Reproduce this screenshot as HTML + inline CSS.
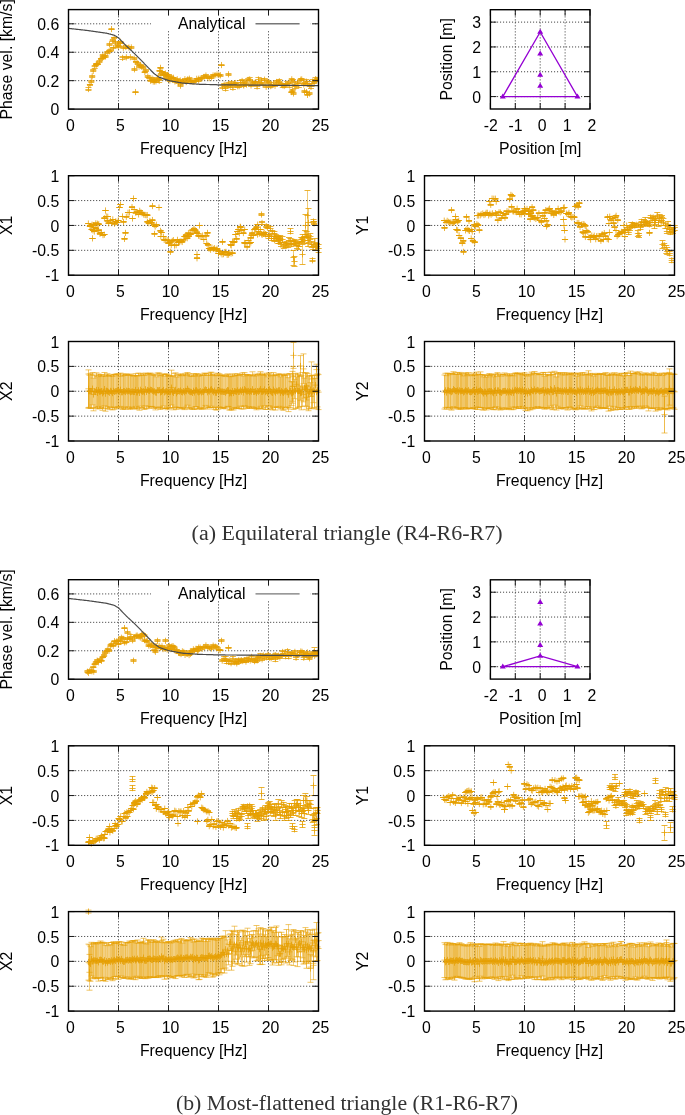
<!DOCTYPE html>
<html><head><meta charset="utf-8"><style>
html,body{margin:0;padding:0;background:#fff;}
svg{display:block;will-change:transform;}
text{font-family:"Liberation Sans",sans-serif;font-size:15.8px;fill:#000;}
.cap{font-family:"Liberation Serif",serif;font-size:20px;fill:#333;}
.gr{stroke:#333;stroke-width:1;stroke-dasharray:1 2;fill:none;}
.tk{stroke:#1a1a1a;stroke-width:1;fill:none;}
.fr{stroke:#000;stroke-width:1.4;fill:none;}
.pt{stroke:#E69F00;stroke-width:0.75;fill:none;}
.eb{stroke:#E69F00;stroke-width:0.7;fill:none;}
.ph{stroke:#E69F00;stroke-width:0.8;fill:none;}
</style></head><body>
<svg width="685" height="1115" viewBox="0 0 685 1115">
<clipPath id="c0p"><rect x="68.5" y="9.6" width="250.0" height="99.5"/></clipPath>
<path class="gr" d="M118.5 10.3V109.1M168.5 10.3V109.1M218.5 10.3V109.1M268.5 10.3V109.1M69.2 80.67H318.5M69.2 52.24H318.5M69.2 23.81H318.5"/>
<g clip-path="url(#c0p)">
<path class="eb" style="stroke-width:0.55" stroke-opacity="1.0" d="M88.47 87.88V90.17M89.98 84.05V85.87M91.31 80.22V82.10M92.18 75.61V77.05M93.25 69.91V71.88M94.73 65.73V68.07M96.59 63.72V64.96M96.21 63.96V65.07M97.81 63.49V64.56M99.48 60.32V62.49M101.01 58.06V59.77M102.60 57.31V58.71M102.80 54.23V56.40M104.22 55.95V57.29M105.57 55.47V57.53M107.24 51.89V53.44M109.17 50.78V51.80M110.33 49.42V51.09M112.79 39.92V41.04M114.18 37.27V38.66M115.45 41.28V43.62M117.45 44.67V46.03M118.66 45.43V47.54M120.31 42.29V43.92M120.31 41.09V42.29M123.34 46.92V48.52M125.83 45.88V48.23M128.93 46.45V48.68M131.33 46.32V48.51M122.59 56.68V59.06M126.33 56.29V58.37M130.40 56.64V57.76M134.25 57.95V59.31M136.02 61.01V62.65M137.70 62.36V64.17M139.10 65.87V67.10M140.59 64.33V65.70M141.62 65.50V67.80M143.09 66.21V68.44M144.79 71.49V72.65M145.92 69.97V71.32M147.78 75.41V77.56M149.17 77.34V78.60M150.71 80.29V81.63M152.07 77.65V79.51M153.37 79.15V80.45M153.21 80.71V82.34M154.44 80.79V82.32M155.94 80.59V82.11M157.33 77.16V79.08M158.41 78.61V79.83M159.22 79.83V82.09M159.62 70.46V71.52M160.87 73.30V75.32M161.96 71.33V72.46M163.38 72.93V75.18M164.79 73.86V75.96M166.18 76.59V78.55M167.45 74.43V76.02M168.67 74.94V76.75M168.57 78.14V79.96M169.82 79.57V81.46M171.30 76.31V78.33M172.18 77.15V78.97M173.46 77.23V78.37M174.90 80.53V82.38M175.99 79.77V81.74M177.25 78.15V80.43M178.35 81.31V82.74M178.61 82.27V83.53M180.28 79.69V81.31M181.81 81.18V83.12M182.93 80.52V82.64M184.90 78.43V79.98M186.24 81.44V82.65M187.73 78.24V80.42M189.40 77.99V79.39M190.61 80.50V81.90M192.17 80.40V82.28M193.88 80.70V82.86M195.71 80.45V81.58M196.68 78.29V79.37M198.63 79.58V81.03M198.67 78.14V79.35M200.31 77.54V79.70M202.01 77.57V78.66M204.08 76.00V77.88M205.93 74.42V76.76M207.78 76.71V78.38M209.31 77.25V78.92M211.46 76.68V78.07M213.07 74.64V76.37M215.07 74.39V75.95M217.01 73.96V75.11M218.93 74.44V75.64M220.47 74.14V76.40M222.43 85.27V88.97M224.18 83.25V86.01M225.59 86.87V90.22M227.19 84.07V87.41M228.33 82.07V86.00M230.29 83.95V87.46M231.39 81.53V85.18M232.91 86.40V89.11M234.53 82.12V84.93M235.72 82.13V83.98M237.68 85.04V87.51M239.17 85.13V87.17M240.51 80.76V84.37M242.11 79.56V82.39M243.77 84.42V86.63M243.52 83.08V86.44M245.08 81.09V84.72M246.54 83.30V85.87M248.21 78.81V80.99M249.71 77.91V80.81M251.04 84.01V86.93M252.50 81.37V83.13M254.28 81.65V84.27M255.68 81.18V84.00M257.11 85.08V88.01M258.45 77.55V81.35M259.86 82.30V84.30M261.46 78.70V82.45M262.99 83.47V85.61M264.57 78.70V80.70M266.17 85.81V87.96M267.34 80.38V82.82M268.91 81.16V83.11M270.64 84.66V87.52M271.85 84.04V86.95M273.46 82.75V85.40M275.02 84.71V86.88M276.58 80.53V83.44M278.21 80.37V84.03M279.34 79.40V82.95M281.24 83.34V85.76M282.75 83.34V87.32M284.23 84.88V87.13M285.64 84.04V85.97M287.20 81.96V85.46M288.28 82.23V85.49M289.71 83.84V87.10M291.75 78.38V80.34M293.00 79.61V82.46M294.61 84.63V86.50M295.76 85.29V88.25M297.51 81.52V83.56M298.81 83.64V87.25M300.79 78.73V80.65M301.74 78.12V80.87M303.66 83.08V85.85M305.01 82.11V85.18M306.21 79.67V83.30M307.81 81.76V85.15M309.44 84.47V86.56M311.01 85.08V88.81M312.68 79.63V83.29M314.08 82.31V85.38M315.50 77.48V81.01M316.85 78.11V81.51M318.67 79.27V81.90M111.50 28.22V29.93M109.50 43.43V45.14M113.50 47.13V48.83M135.50 91.19V92.90M134.50 68.45V70.15M160.50 67.03V68.73M165.50 72.71V74.42M221.50 64.18V65.89M228.50 73.42V75.13M180.50 84.79V86.50M291.50 91.19V92.90M293.50 92.61V94.32M292.50 89.77V91.47M304.50 90.48V92.18M307.50 94.03V95.74M309.50 92.61V94.32M306.50 91.19V92.90"/><path class="pt" style="stroke-width:0.75" d="M88.47 85.93v6.2M89.98 81.86v6.2M91.31 78.06v6.2M92.18 73.23v6.2M93.25 67.79v6.2M94.73 63.80v6.2M96.59 61.24v6.2M96.21 61.41v6.2M97.81 60.92v6.2M99.48 58.30v6.2M101.01 55.82v6.2M102.60 54.91v6.2M102.80 52.21v6.2M104.22 53.52v6.2M105.57 53.40v6.2M107.24 49.57v6.2M109.17 48.19v6.2M110.33 47.16v6.2M112.79 37.38v6.2M114.18 34.87v6.2M115.45 39.35v6.2M117.45 42.25v6.2M118.66 43.39v6.2M120.31 40.01v6.2M120.31 38.59v6.2M123.34 44.62v6.2M125.83 43.95v6.2M128.93 44.46v6.2M131.33 44.31v6.2M122.59 54.77v6.2M126.33 54.23v6.2M130.40 54.10v6.2M134.25 55.53v6.2M136.02 58.73v6.2M137.70 60.16v6.2M139.10 63.38v6.2M140.59 61.91v6.2M141.62 63.55v6.2M143.09 64.23v6.2M144.79 68.97v6.2M145.92 67.55v6.2M147.78 73.39v6.2M149.17 74.87v6.2M150.71 77.86v6.2M152.07 75.48v6.2M153.37 76.70v6.2M153.21 78.43v6.2M154.44 78.45v6.2M155.94 78.25v6.2M157.33 75.02v6.2M158.41 76.12v6.2M159.22 77.86v6.2M159.62 67.89v6.2M160.87 71.21v6.2M161.96 68.79v6.2M163.38 70.96v6.2M164.79 71.81v6.2M166.18 74.47v6.2M167.45 72.12v6.2M168.67 72.74v6.2M168.57 75.95v6.2M169.82 77.42v6.2M171.30 74.22v6.2M172.18 74.96v6.2M173.46 74.70v6.2M174.90 78.35v6.2M175.99 77.65v6.2M177.25 76.19v6.2M178.35 78.92v6.2M178.61 79.80v6.2M180.28 77.40v6.2M181.81 79.05v6.2M182.93 78.48v6.2M184.90 76.11v6.2M186.24 78.95v6.2M187.73 76.23v6.2M189.40 75.59v6.2M190.61 78.10v6.2M192.17 78.24v6.2M193.88 78.68v6.2M195.71 77.91v6.2M196.68 75.73v6.2M198.63 77.21v6.2M198.67 75.65v6.2M200.31 75.52v6.2M202.01 75.02v6.2M204.08 73.84v6.2M205.93 72.49v6.2M207.78 74.44v6.2M209.31 74.99v6.2M211.46 74.28v6.2M213.07 72.40v6.2M215.07 72.07v6.2M217.01 71.44v6.2M218.93 71.94v6.2M220.47 72.17v6.2M222.43 84.02v6.2M224.18 81.53v6.2M225.59 85.44v6.2M227.19 82.64v6.2M228.33 80.94v6.2M230.29 82.60v6.2M231.39 80.26v6.2M232.91 84.65v6.2M234.53 80.43v6.2M235.72 79.95v6.2M237.68 83.17v6.2M239.17 83.05v6.2M240.51 79.47v6.2M242.11 77.88v6.2M243.77 82.43v6.2M243.52 81.66v6.2M245.08 79.81v6.2M246.54 81.49v6.2M248.21 76.80v6.2M249.71 76.26v6.2M251.04 82.37v6.2M252.50 79.15v6.2M254.28 79.86v6.2M255.68 79.49v6.2M257.11 83.44v6.2M258.45 76.35v6.2M259.86 80.20v6.2M261.46 77.47v6.2M262.99 81.44v6.2M264.57 76.60v6.2M266.17 83.79v6.2M267.34 78.50v6.2M268.91 79.03v6.2M270.64 82.99v6.2M271.85 82.39v6.2M273.46 80.98v6.2M275.02 82.70v6.2M276.58 78.89v6.2M278.21 79.10v6.2M279.34 78.07v6.2M281.24 81.45v6.2M282.75 82.23v6.2M284.23 82.90v6.2M285.64 81.90v6.2M287.20 80.61v6.2M288.28 80.76v6.2M289.71 82.37v6.2M291.75 76.26v6.2M293.00 77.93v6.2M294.61 82.46v6.2M295.76 83.67v6.2M297.51 79.44v6.2M298.81 82.34v6.2M300.79 76.59v6.2M301.74 76.39v6.2M303.66 81.37v6.2M305.01 80.54v6.2M306.21 78.39v6.2M307.81 80.35v6.2M309.44 82.41v6.2M311.01 83.85v6.2M312.68 78.36v6.2M314.08 80.75v6.2M315.50 76.15v6.2M316.85 76.71v6.2M318.67 77.48v6.2M111.50 25.97v6.2M109.50 41.18v6.2M113.50 44.88v6.2M135.50 88.94v6.2M134.50 66.20v6.2M160.50 64.78v6.2M165.50 70.46v6.2M221.50 61.94v6.2M228.50 71.17v6.2M180.50 82.55v6.2M291.50 88.94v6.2M293.50 90.36v6.2M292.50 87.52v6.2M304.50 88.23v6.2M307.50 91.79v6.2M309.50 90.36v6.2M306.50 88.94v6.2"/><path class="ph" style="stroke-width:0.75" d="M85.37 89.5h6.2M85.47 87.5h6.0M85.47 90.5h6.0M86.88 84.5h6.2M86.98 84.5h6.0M86.98 85.5h6.0M88.21 81.5h6.2M88.31 80.5h6.0M88.31 82.5h6.0M89.08 76.5h6.2M89.18 75.5h6.0M89.18 77.5h6.0M90.15 70.5h6.2M90.25 69.5h6.0M90.25 71.5h6.0M91.63 66.5h6.2M91.73 65.5h6.0M91.73 68.5h6.0M93.49 64.5h6.2M93.59 63.5h6.0M93.59 64.5h6.0M93.11 64.5h6.2M93.21 63.5h6.0M93.21 65.5h6.0M94.71 64.5h6.2M94.81 63.5h6.0M94.81 64.5h6.0M96.38 61.5h6.2M96.48 60.5h6.0M96.48 62.5h6.0M97.91 58.5h6.2M98.01 58.5h6.0M98.01 59.5h6.0M99.50 58.5h6.2M99.60 57.5h6.0M99.60 58.5h6.0M99.70 55.5h6.2M99.80 54.5h6.0M99.80 56.5h6.0M101.12 56.5h6.2M101.22 55.5h6.0M101.22 57.5h6.0M102.47 56.5h6.2M102.57 55.5h6.0M102.57 57.5h6.0M104.14 52.5h6.2M104.24 51.5h6.0M104.24 53.5h6.0M106.07 51.5h6.2M106.17 50.5h6.0M106.17 51.5h6.0M107.23 50.5h6.2M107.33 49.5h6.0M107.33 51.5h6.0M109.69 40.5h6.2M109.79 39.5h6.0M109.79 41.5h6.0M111.08 37.5h6.2M111.18 37.5h6.0M111.18 38.5h6.0M112.35 42.5h6.2M112.45 41.5h6.0M112.45 43.5h6.0M114.35 45.5h6.2M114.45 44.5h6.0M114.45 46.5h6.0M115.56 46.5h6.2M115.66 45.5h6.0M115.66 47.5h6.0M117.21 43.5h6.2M117.31 42.5h6.0M117.31 43.5h6.0M117.21 41.5h6.2M117.31 41.5h6.0M117.31 42.5h6.0M120.24 47.5h6.2M120.34 46.5h6.0M120.34 48.5h6.0M122.73 47.5h6.2M122.83 45.5h6.0M122.83 48.5h6.0M125.83 47.5h6.2M125.93 46.5h6.0M125.93 48.5h6.0M128.23 47.5h6.2M128.33 46.5h6.0M128.33 48.5h6.0M119.49 57.5h6.2M119.59 56.5h6.0M119.59 59.5h6.0M123.23 57.5h6.2M123.33 56.5h6.0M123.33 58.5h6.0M127.30 57.5h6.2M127.40 56.5h6.0M127.40 57.5h6.0M131.15 58.5h6.2M131.25 57.5h6.0M131.25 59.5h6.0M132.92 61.5h6.2M133.02 61.5h6.0M133.02 62.5h6.0M134.60 63.5h6.2M134.70 62.5h6.0M134.70 64.5h6.0M136.00 66.5h6.2M136.10 65.5h6.0M136.10 67.5h6.0M137.49 65.5h6.2M137.59 64.5h6.0M137.59 65.5h6.0M138.52 66.5h6.2M138.62 65.5h6.0M138.62 67.5h6.0M139.99 67.5h6.2M140.09 66.5h6.0M140.09 68.5h6.0M141.69 72.5h6.2M141.79 71.5h6.0M141.79 72.5h6.0M142.82 70.5h6.2M142.92 69.5h6.0M142.92 71.5h6.0M144.68 76.5h6.2M144.78 75.5h6.0M144.78 77.5h6.0M146.07 77.5h6.2M146.17 77.5h6.0M146.17 78.5h6.0M147.61 80.5h6.2M147.71 80.5h6.0M147.71 81.5h6.0M148.97 78.5h6.2M149.07 77.5h6.0M149.07 79.5h6.0M150.27 79.5h6.2M150.37 79.5h6.0M150.37 80.5h6.0M150.11 81.5h6.2M150.21 80.5h6.0M150.21 82.5h6.0M151.34 81.5h6.2M151.44 80.5h6.0M151.44 82.5h6.0M152.84 81.5h6.2M152.94 80.5h6.0M152.94 82.5h6.0M154.23 78.5h6.2M154.33 77.5h6.0M154.33 79.5h6.0M155.31 79.5h6.2M155.41 78.5h6.0M155.41 79.5h6.0M156.12 80.5h6.2M156.22 79.5h6.0M156.22 82.5h6.0M156.52 70.5h6.2M156.62 70.5h6.0M156.62 71.5h6.0M157.77 74.5h6.2M157.87 73.5h6.0M157.87 75.5h6.0M158.86 71.5h6.2M158.96 71.5h6.0M158.96 72.5h6.0M160.28 74.5h6.2M160.38 72.5h6.0M160.38 75.5h6.0M161.69 74.5h6.2M161.79 73.5h6.0M161.79 75.5h6.0M163.08 77.5h6.2M163.18 76.5h6.0M163.18 78.5h6.0M164.35 75.5h6.2M164.45 74.5h6.0M164.45 76.5h6.0M165.57 75.5h6.2M165.67 74.5h6.0M165.67 76.5h6.0M165.47 79.5h6.2M165.57 78.5h6.0M165.57 79.5h6.0M166.72 80.5h6.2M166.82 79.5h6.0M166.82 81.5h6.0M168.20 77.5h6.2M168.30 76.5h6.0M168.30 78.5h6.0M169.08 78.5h6.2M169.18 77.5h6.0M169.18 78.5h6.0M170.36 77.5h6.2M170.46 77.5h6.0M170.46 78.5h6.0M171.80 81.5h6.2M171.90 80.5h6.0M171.90 82.5h6.0M172.89 80.5h6.2M172.99 79.5h6.0M172.99 81.5h6.0M174.15 79.5h6.2M174.25 78.5h6.0M174.25 80.5h6.0M175.25 82.5h6.2M175.35 81.5h6.0M175.35 82.5h6.0M175.51 82.5h6.2M175.61 82.5h6.0M175.61 83.5h6.0M177.18 80.5h6.2M177.28 79.5h6.0M177.28 81.5h6.0M178.71 82.5h6.2M178.81 81.5h6.0M178.81 83.5h6.0M179.83 81.5h6.2M179.93 80.5h6.0M179.93 82.5h6.0M181.80 79.5h6.2M181.90 78.5h6.0M181.90 79.5h6.0M183.14 82.5h6.2M183.24 81.5h6.0M183.24 82.5h6.0M184.63 79.5h6.2M184.73 78.5h6.0M184.73 80.5h6.0M186.30 78.5h6.2M186.40 77.5h6.0M186.40 79.5h6.0M187.51 81.5h6.2M187.61 80.5h6.0M187.61 81.5h6.0M189.07 81.5h6.2M189.17 80.5h6.0M189.17 82.5h6.0M190.78 81.5h6.2M190.88 80.5h6.0M190.88 82.5h6.0M192.61 81.5h6.2M192.71 80.5h6.0M192.71 81.5h6.0M193.58 78.5h6.2M193.68 78.5h6.0M193.68 79.5h6.0M195.53 80.5h6.2M195.63 79.5h6.0M195.63 81.5h6.0M195.57 78.5h6.2M195.67 78.5h6.0M195.67 79.5h6.0M197.21 78.5h6.2M197.31 77.5h6.0M197.31 79.5h6.0M198.91 78.5h6.2M199.01 77.5h6.0M199.01 78.5h6.0M200.98 76.5h6.2M201.08 75.5h6.0M201.08 77.5h6.0M202.83 75.5h6.2M202.93 74.5h6.0M202.93 76.5h6.0M204.68 77.5h6.2M204.78 76.5h6.0M204.78 78.5h6.0M206.21 78.5h6.2M206.31 77.5h6.0M206.31 78.5h6.0M208.36 77.5h6.2M208.46 76.5h6.0M208.46 78.5h6.0M209.97 75.5h6.2M210.07 74.5h6.0M210.07 76.5h6.0M211.97 75.5h6.2M212.07 74.5h6.0M212.07 75.5h6.0M213.91 74.5h6.2M214.01 73.5h6.0M214.01 75.5h6.0M215.83 75.5h6.2M215.93 74.5h6.0M215.93 75.5h6.0M217.37 75.5h6.2M217.47 74.5h6.0M217.47 76.5h6.0M219.33 87.5h6.2M219.43 85.5h6.0M219.43 88.5h6.0M221.08 84.5h6.2M221.18 83.5h6.0M221.18 86.5h6.0M222.49 88.5h6.2M222.59 86.5h6.0M222.59 90.5h6.0M224.09 85.5h6.2M224.19 84.5h6.0M224.19 87.5h6.0M225.23 84.5h6.2M225.33 82.5h6.0M225.33 86.5h6.0M227.19 85.5h6.2M227.29 83.5h6.0M227.29 87.5h6.0M228.29 83.5h6.2M228.39 81.5h6.0M228.39 85.5h6.0M229.81 87.5h6.2M229.91 86.5h6.0M229.91 89.5h6.0M231.43 83.5h6.2M231.53 82.5h6.0M231.53 84.5h6.0M232.62 83.5h6.2M232.72 82.5h6.0M232.72 83.5h6.0M234.58 86.5h6.2M234.68 85.5h6.0M234.68 87.5h6.0M236.07 86.5h6.2M236.17 85.5h6.0M236.17 87.5h6.0M237.41 82.5h6.2M237.51 80.5h6.0M237.51 84.5h6.0M239.01 80.5h6.2M239.11 79.5h6.0M239.11 82.5h6.0M240.67 85.5h6.2M240.77 84.5h6.0M240.77 86.5h6.0M240.42 84.5h6.2M240.52 83.5h6.0M240.52 86.5h6.0M241.98 82.5h6.2M242.08 81.5h6.0M242.08 84.5h6.0M243.44 84.5h6.2M243.54 83.5h6.0M243.54 85.5h6.0M245.11 79.5h6.2M245.21 78.5h6.0M245.21 80.5h6.0M246.61 79.5h6.2M246.71 77.5h6.0M246.71 80.5h6.0M247.94 85.5h6.2M248.04 84.5h6.0M248.04 86.5h6.0M249.40 82.5h6.2M249.50 81.5h6.0M249.50 83.5h6.0M251.18 82.5h6.2M251.28 81.5h6.0M251.28 84.5h6.0M252.58 82.5h6.2M252.68 81.5h6.0M252.68 83.5h6.0M254.01 86.5h6.2M254.11 85.5h6.0M254.11 88.5h6.0M255.35 79.5h6.2M255.45 77.5h6.0M255.45 81.5h6.0M256.76 83.5h6.2M256.86 82.5h6.0M256.86 84.5h6.0M258.36 80.5h6.2M258.46 78.5h6.0M258.46 82.5h6.0M259.89 84.5h6.2M259.99 83.5h6.0M259.99 85.5h6.0M261.47 79.5h6.2M261.57 78.5h6.0M261.57 80.5h6.0M263.07 86.5h6.2M263.17 85.5h6.0M263.17 87.5h6.0M264.24 81.5h6.2M264.34 80.5h6.0M264.34 82.5h6.0M265.81 82.5h6.2M265.91 81.5h6.0M265.91 83.5h6.0M267.54 86.5h6.2M267.64 84.5h6.0M267.64 87.5h6.0M268.75 85.5h6.2M268.85 84.5h6.0M268.85 86.5h6.0M270.36 84.5h6.2M270.46 82.5h6.0M270.46 85.5h6.0M271.92 85.5h6.2M272.02 84.5h6.0M272.02 86.5h6.0M273.48 81.5h6.2M273.58 80.5h6.0M273.58 83.5h6.0M275.11 82.5h6.2M275.21 80.5h6.0M275.21 84.5h6.0M276.24 81.5h6.2M276.34 79.5h6.0M276.34 82.5h6.0M278.14 84.5h6.2M278.24 83.5h6.0M278.24 85.5h6.0M279.65 85.5h6.2M279.75 83.5h6.0M279.75 87.5h6.0M281.13 86.5h6.2M281.23 84.5h6.0M281.23 87.5h6.0M282.54 85.5h6.2M282.64 84.5h6.0M282.64 85.5h6.0M284.10 83.5h6.2M284.20 81.5h6.0M284.20 85.5h6.0M285.18 83.5h6.2M285.28 82.5h6.0M285.28 85.5h6.0M286.61 85.5h6.2M286.71 83.5h6.0M286.71 87.5h6.0M288.65 79.5h6.2M288.75 78.5h6.0M288.75 80.5h6.0M289.90 81.5h6.2M290.00 79.5h6.0M290.00 82.5h6.0M291.51 85.5h6.2M291.61 84.5h6.0M291.61 86.5h6.0M292.66 86.5h6.2M292.76 85.5h6.0M292.76 88.5h6.0M294.41 82.5h6.2M294.51 81.5h6.0M294.51 83.5h6.0M295.71 85.5h6.2M295.81 83.5h6.0M295.81 87.5h6.0M297.69 79.5h6.2M297.79 78.5h6.0M297.79 80.5h6.0M298.64 79.5h6.2M298.74 78.5h6.0M298.74 80.5h6.0M300.56 84.5h6.2M300.66 83.5h6.0M300.66 85.5h6.0M301.91 83.5h6.2M302.01 82.5h6.0M302.01 85.5h6.0M303.11 81.5h6.2M303.21 79.5h6.0M303.21 83.5h6.0M304.71 83.5h6.2M304.81 81.5h6.0M304.81 85.5h6.0M306.34 85.5h6.2M306.44 84.5h6.0M306.44 86.5h6.0M307.91 86.5h6.2M308.01 85.5h6.0M308.01 88.5h6.0M309.58 81.5h6.2M309.68 79.5h6.0M309.68 83.5h6.0M310.98 83.5h6.2M311.08 82.5h6.0M311.08 85.5h6.0M312.40 79.5h6.2M312.50 77.5h6.0M312.50 81.5h6.0M313.75 79.5h6.2M313.85 78.5h6.0M313.85 81.5h6.0M315.57 80.5h6.2M315.67 79.5h6.0M315.67 81.5h6.0M108.40 29.5h6.2M108.50 28.5h6.0M108.50 29.5h6.0M106.40 44.5h6.2M106.50 43.5h6.0M106.50 45.5h6.0M110.40 47.5h6.2M110.50 47.5h6.0M110.50 48.5h6.0M132.40 92.5h6.2M132.50 91.5h6.0M132.50 92.5h6.0M131.40 69.5h6.2M131.50 68.5h6.0M131.50 70.5h6.0M157.40 67.5h6.2M157.50 67.5h6.0M157.50 68.5h6.0M162.40 73.5h6.2M162.50 72.5h6.0M162.50 74.5h6.0M218.40 65.5h6.2M218.50 64.5h6.0M218.50 65.5h6.0M225.40 74.5h6.2M225.50 73.5h6.0M225.50 75.5h6.0M177.40 85.5h6.2M177.50 84.5h6.0M177.50 86.5h6.0M288.40 92.5h6.2M288.50 91.5h6.0M288.50 92.5h6.0M290.40 93.5h6.2M290.50 92.5h6.0M290.50 94.5h6.0M289.40 90.5h6.2M289.50 89.5h6.0M289.50 91.5h6.0M301.40 91.5h6.2M301.50 90.5h6.0M301.50 92.5h6.0M304.40 94.5h6.2M304.50 94.5h6.0M304.50 95.5h6.0M306.40 93.5h6.2M306.50 92.5h6.0M306.50 94.5h6.0M303.40 92.5h6.2M303.50 91.5h6.0M303.50 92.5h6.0"/>
<path d="M68.5 28.4L69.0 28.4L69.5 28.5L70.0 28.5L70.5 28.6L71.0 28.6L71.5 28.7L72.0 28.8L72.5 28.8L73.0 28.9L73.5 28.9L74.0 29.0L74.5 29.0L75.0 29.1L75.5 29.1L76.0 29.2L76.5 29.3L77.0 29.3L77.5 29.4L78.0 29.4L78.5 29.5L79.0 29.5L79.5 29.6L80.0 29.7L80.5 29.7L81.0 29.8L81.5 29.8L82.0 29.9L82.5 29.9L83.0 30.0L83.5 30.0L84.0 30.1L84.5 30.2L85.0 30.2L85.5 30.3L86.0 30.3L86.5 30.4L87.0 30.4L87.5 30.5L88.0 30.6L88.5 30.6L89.0 30.7L89.5 30.8L90.0 30.9L90.5 30.9L91.0 31.0L91.5 31.1L92.0 31.1L92.5 31.2L93.0 31.3L93.5 31.3L94.0 31.4L94.5 31.5L95.0 31.6L95.5 31.6L96.0 31.7L96.5 31.8L97.0 31.8L97.5 31.9L98.0 32.0L98.5 32.1L99.0 32.1L99.5 32.2L100.0 32.3L100.5 32.3L101.0 32.4L101.5 32.5L102.0 32.6L102.5 32.6L103.0 32.7L103.5 32.8L104.0 32.8L104.5 32.9L105.0 33.0L105.5 33.1L106.0 33.1L106.5 33.2L107.0 33.3L107.5 33.5L108.0 33.6L108.5 33.7L109.0 33.9L109.5 34.0L110.0 34.1L110.5 34.2L111.0 34.4L111.5 34.5L112.0 34.6L112.5 34.8L113.0 34.9L113.5 35.0L114.0 35.2L114.5 35.4L115.0 35.7L115.5 36.0L116.0 36.3L116.5 36.6L117.0 36.9L117.5 37.2L118.0 37.5L118.5 37.8L119.0 38.2L119.5 38.8L120.0 39.3L120.5 39.8L121.0 40.4L121.5 40.9L122.0 41.4L122.5 42.0L123.0 42.5L123.5 43.0L124.0 43.5L124.5 44.1L125.0 44.6L125.5 45.1L126.0 45.6L126.5 46.1L127.0 46.5L127.5 47.0L128.0 47.5L128.5 47.9L129.0 48.4L129.5 48.9L130.0 49.3L130.5 49.8L131.0 50.3L131.5 50.7L132.0 51.2L132.5 51.7L133.0 52.1L133.5 52.6L134.0 53.1L134.5 53.6L135.0 54.1L135.5 54.6L136.0 55.1L136.5 55.6L137.0 56.1L137.5 56.6L138.0 57.1L138.5 57.6L139.0 58.1L139.5 58.6L140.0 59.1L140.5 59.6L141.0 60.1L141.5 60.7L142.0 61.2L142.5 61.7L143.0 62.2L143.5 62.7L144.0 63.2L144.5 63.8L145.0 64.3L145.5 64.8L146.0 65.3L146.5 65.8L147.0 66.3L147.5 66.8L148.0 67.4L148.5 67.9L149.0 68.4L149.5 68.9L150.0 69.4L150.5 69.9L151.0 70.5L151.5 71.0L152.0 71.5L152.5 72.0L153.0 72.5L153.5 73.0L154.0 73.6L154.5 73.9L155.0 74.3L155.5 74.6L156.0 75.0L156.5 75.3L157.0 75.7L157.5 76.0L158.0 76.4L158.5 76.7L159.0 77.1L159.5 77.4L160.0 77.6L160.5 77.7L161.0 77.9L161.5 78.1L162.0 78.2L162.5 78.4L163.0 78.6L163.5 78.8L164.0 78.9L164.5 79.1L165.0 79.3L165.5 79.4L166.0 79.6L166.5 79.8L167.0 79.9L167.5 80.1L168.0 80.3L168.5 80.4L169.0 80.6L169.5 80.7L170.0 80.8L170.5 80.9L171.0 81.0L171.5 81.1L172.0 81.2L172.5 81.3L173.0 81.4L173.5 81.5L174.0 81.5L174.5 81.6L175.0 81.7L175.5 81.8L176.0 81.9L176.5 82.0L177.0 82.1L177.5 82.2L178.0 82.3L178.5 82.4L179.0 82.5L179.5 82.5L180.0 82.6L180.5 82.7L181.0 82.8L181.5 82.9L182.0 83.0L182.5 83.1L183.0 83.1L183.5 83.2L184.0 83.2L184.5 83.2L185.0 83.3L185.5 83.3L186.0 83.3L186.5 83.4L187.0 83.4L187.5 83.4L188.0 83.5L188.5 83.5L189.0 83.5L189.5 83.6L190.0 83.6L190.5 83.7L191.0 83.7L191.5 83.7L192.0 83.8L192.5 83.8L193.0 83.8L193.5 83.9L194.0 83.9L194.5 83.9L195.0 84.0L195.5 84.0L196.0 84.0L196.5 84.1L197.0 84.1L197.5 84.2L198.0 84.2L198.5 84.2L199.0 84.2L199.5 84.3L200.0 84.3L200.5 84.3L201.0 84.3L201.5 84.3L202.0 84.3L202.5 84.3L203.0 84.4L203.5 84.4L204.0 84.4L204.5 84.4L205.0 84.4L205.5 84.4L206.0 84.4L206.5 84.5L207.0 84.5L207.5 84.5L208.0 84.5L208.5 84.5L209.0 84.5L209.5 84.5L210.0 84.6L210.5 84.6L211.0 84.6L211.5 84.6L212.0 84.6L212.5 84.6L213.0 84.6L213.5 84.7L214.0 84.7L214.5 84.7L215.0 84.7L215.5 84.7L216.0 84.7L216.5 84.7L217.0 84.8L217.5 84.8L218.0 84.8L218.5 84.8L219.0 84.8L219.5 84.8L220.0 84.8L220.5 84.8L221.0 84.8L221.5 84.8L222.0 84.8L222.5 84.8L223.0 84.8L223.5 84.8L224.0 84.8L224.5 84.8L225.0 84.8L225.5 84.9L226.0 84.9L226.5 84.9L227.0 84.9L227.5 84.9L228.0 84.9L228.5 84.9L229.0 84.9L229.5 84.9L230.0 84.9L230.5 84.9L231.0 84.9L231.5 84.9L232.0 84.9L232.5 84.9L233.0 84.9L233.5 84.9L234.0 84.9L234.5 84.9L235.0 84.9L235.5 84.9L236.0 84.9L236.5 84.9L237.0 85.0L237.5 85.0L238.0 85.0L238.5 85.0L239.0 85.0L239.5 85.0L240.0 85.0L240.5 85.0L241.0 85.0L241.5 85.0L242.0 85.0L242.5 85.0L243.0 85.0L243.5 85.0L244.0 85.0L244.5 85.0L245.0 85.0L245.5 85.0L246.0 85.0L246.5 85.0L247.0 85.0L247.5 85.0L248.0 85.0L248.5 85.0L249.0 85.1L249.5 85.1L250.0 85.1L250.5 85.1L251.0 85.1L251.5 85.1L252.0 85.1L252.5 85.1L253.0 85.1L253.5 85.1L254.0 85.1L254.5 85.1L255.0 85.1L255.5 85.1L256.0 85.1L256.5 85.1L257.0 85.1L257.5 85.1L258.0 85.1L258.5 85.1L259.0 85.1L259.5 85.1L260.0 85.1L260.5 85.2L261.0 85.2L261.5 85.2L262.0 85.2L262.5 85.2L263.0 85.2L263.5 85.2L264.0 85.2L264.5 85.2L265.0 85.2L265.5 85.2L266.0 85.2L266.5 85.2L267.0 85.2L267.5 85.2L268.0 85.2L268.5 85.2L269.0 85.2L269.5 85.2L270.0 85.2L270.5 85.2L271.0 85.2L271.5 85.2L272.0 85.2L272.5 85.3L273.0 85.3L273.5 85.3L274.0 85.3L274.5 85.3L275.0 85.3L275.5 85.3L276.0 85.3L276.5 85.3L277.0 85.3L277.5 85.3L278.0 85.3L278.5 85.3L279.0 85.3L279.5 85.3L280.0 85.3L280.5 85.3L281.0 85.3L281.5 85.3L282.0 85.3L282.5 85.3L283.0 85.3L283.5 85.3L284.0 85.4L284.5 85.4L285.0 85.4L285.5 85.4L286.0 85.4L286.5 85.4L287.0 85.4L287.5 85.4L288.0 85.4L288.5 85.4L289.0 85.4L289.5 85.4L290.0 85.4L290.5 85.4L291.0 85.4L291.5 85.4L292.0 85.4L292.5 85.4L293.0 85.4L293.5 85.4L294.0 85.4L294.5 85.4L295.0 85.4L295.5 85.5L296.0 85.5L296.5 85.5L297.0 85.5L297.5 85.5L298.0 85.5L298.5 85.5L299.0 85.5L299.5 85.5L300.0 85.5L300.5 85.5L301.0 85.5L301.5 85.5L302.0 85.5L302.5 85.5L303.0 85.5L303.5 85.5L304.0 85.5L304.5 85.5L305.0 85.5L305.5 85.5L306.0 85.5L306.5 85.5L307.0 85.5L307.5 85.6L308.0 85.6L308.5 85.6L309.0 85.6L309.5 85.6L310.0 85.6L310.5 85.6L311.0 85.6L311.5 85.6L312.0 85.6L312.5 85.6L313.0 85.6L313.5 85.6L314.0 85.6L314.5 85.6L315.0 85.6L315.5 85.6L316.0 85.6L316.5 85.6L317.0 85.6L317.5 85.6L318.0 85.6L318.5 85.6" fill="none" stroke="#4a4a4a" stroke-width="1.2"/>
</g>
<rect x="151" y="16" width="159" height="14.6" fill="#fff"/>
<text x="245.5" y="29.3" text-anchor="end">Analytical</text>
<path d="M255.5 23.81H299.6" stroke="#777" stroke-width="1.4"/>
<path class="tk" d="M68.5 109.1v-6M68.5 9.6v6M118.5 109.1v-6M118.5 9.6v6M168.5 109.1v-6M168.5 9.6v6M218.5 109.1v-6M218.5 9.6v6M268.5 109.1v-6M268.5 9.6v6M318.5 109.1v-6M318.5 9.6v6M68.5 109.1h6M318.5 109.1h-6M68.5 80.67h6M318.5 80.67h-6M68.5 52.24h6M318.5 52.24h-6M68.5 23.81h6M318.5 23.81h-6"/>
<rect class="fr" x="68.5" y="9.6" width="250" height="99.5"/>
<text x="70.5" y="130.7" text-anchor="middle">0</text>
<text x="120.5" y="130.7" text-anchor="middle">5</text>
<text x="170.5" y="130.7" text-anchor="middle">10</text>
<text x="220.5" y="130.7" text-anchor="middle">15</text>
<text x="270.5" y="130.7" text-anchor="middle">20</text>
<text x="320.5" y="130.7" text-anchor="middle">25</text>
<text x="59.2" y="115.2" text-anchor="end">0</text>
<text x="59.2" y="86.77" text-anchor="end">0.2</text>
<text x="59.2" y="58.34" text-anchor="end">0.4</text>
<text x="59.2" y="29.91" text-anchor="end">0.6</text>
<text x="193.5" y="154.1" text-anchor="middle">Frequency [Hz]</text>
<text transform="translate(11.8,59.35) rotate(-90)" text-anchor="middle">Phase vel. [km/s]</text>
<path class="gr" d="M515.3 10.4V109M540.2 10.4V109M565.1 10.4V109M491.1 96.59H590M491.1 71.76H590M491.1 46.94H590M491.1 22.11H590"/>
<path d="M502.8 96.6L577.5 96.6L540.2 32.0Z" fill="none" stroke="#9400D3" stroke-width="1.3"/>
<path d="M499.8 98.4L502.8 93.4L505.8 98.4ZM574.5 98.4L577.5 93.4L580.5 98.4ZM537.2 33.8L540.2 28.8L543.2 33.8ZM537.2 55.4L540.2 50.4L543.2 55.4ZM537.2 76.8L540.2 71.8L543.2 76.8ZM537.2 87.7L540.2 82.7L543.2 87.7Z" fill="#9400D3"/>
<path class="tk" d="M490.4 109v-6M490.4 9.7v6M515.3 109v-6M515.3 9.7v6M540.2 109v-6M540.2 9.7v6M565.1 109v-6M565.1 9.7v6M590 109v-6M590 9.7v6M490.4 96.59h6M590 96.59h-6M490.4 71.76h6M590 71.76h-6M490.4 46.94h6M590 46.94h-6M490.4 22.11h6M590 22.11h-6"/>
<rect class="fr" x="490.4" y="9.7" width="99.6" height="99.3"/>
<text x="490.7" y="130.6" text-anchor="middle">-2</text>
<text x="515.6" y="130.6" text-anchor="middle">-1</text>
<text x="542.2" y="130.6" text-anchor="middle">0</text>
<text x="567.1" y="130.6" text-anchor="middle">1</text>
<text x="592" y="130.6" text-anchor="middle">2</text>
<text x="481.1" y="102.69" text-anchor="end">0</text>
<text x="481.1" y="77.86" text-anchor="end">1</text>
<text x="481.1" y="53.04" text-anchor="end">2</text>
<text x="481.1" y="28.21" text-anchor="end">3</text>
<text x="540.2" y="154" text-anchor="middle">Position [m]</text>
<text transform="translate(452.1,59.35) rotate(-90)" text-anchor="middle">Position [m]</text>
<clipPath id="c0X1"><rect x="64.5" y="171.7" width="258.0" height="107.5"/></clipPath>
<path class="gr" d="M118.5 176.4V275.2M168.5 176.4V275.2M218.5 176.4V275.2M268.5 176.4V275.2M69.2 250.32H318.5M69.2 225.45H318.5M69.2 200.57H318.5"/>
<g clip-path="url(#c0X1)">
<path class="eb" style="stroke-width:0.55" stroke-opacity="1.0" d="M88.36 223.18V223.86M89.96 225.93V226.40M90.79 225.70V226.40M92.03 224.42V224.88M93.38 224.90V225.66M94.82 227.25V227.74M95.79 222.96V223.71M97.43 223.36V224.08M98.77 223.77V224.26M91.71 229.22V229.94M92.98 230.05V230.58M94.35 231.28V231.70M96.03 228.15V228.98M97.39 230.27V230.99M98.50 229.79V230.36M99.97 233.47V234.07M101.46 232.06V232.71M102.99 234.78V235.38M104.34 234.49V234.94M104.42 217.97V218.64M106.27 216.09V216.79M107.76 216.52V216.95M107.68 220.59V221.25M108.67 222.93V223.71M110.48 220.52V220.98M111.84 222.77V223.47M112.78 219.11V219.76M114.51 223.41V224.06M115.80 221.03V221.56M117.26 222.34V222.83M118.30 220.19V220.60M126.34 216.48V217.15M128.03 212.58V212.95M129.46 212.14V212.54M134.20 209.26V209.68M135.68 212.39V213.03M136.85 211.91V212.45M138.60 214.17V214.69M139.70 210.54V211.15M140.98 212.08V212.58M142.02 212.84V213.64M143.74 214.26V214.95M145.11 214.60V215.24M146.11 214.96V215.45M147.32 214.87V215.25M147.44 221.55V222.27M148.85 222.82V223.55M149.89 220.60V221.23M151.26 222.53V223.10M152.43 219.83V220.24M154.12 224.57V225.07M155.15 226.28V226.70M156.42 224.37V225.14M160.79 236.21V236.82M161.61 232.13V232.64M163.40 236.54V236.96M164.20 239.58V240.35M165.62 240.12V240.65M167.07 239.98V240.44M168.63 242.98V243.78M168.51 240.07V240.64M169.79 241.76V242.52M171.24 244.95V245.37M172.27 240.69V241.30M173.38 239.85V240.36M174.50 245.35V245.72M176.14 244.86V245.56M177.47 239.51V240.25M178.45 241.76V242.51M178.63 241.99V242.71M179.52 241.40V242.23M180.98 240.92V241.66M182.22 241.80V242.17M183.36 239.39V240.19M184.60 236.21V236.98M185.95 234.85V235.57M187.24 237.92V238.50M188.74 235.87V236.32M188.43 232.81V233.26M189.88 233.96V234.71M190.97 233.40V234.04M192.38 229.87V230.47M193.85 229.69V230.15M195.31 229.92V230.48M196.78 231.86V232.63M197.29 233.43V233.87M198.52 235.28V236.08M199.93 235.81V236.46M201.20 236.09V236.45M202.61 235.26V235.78M203.76 239.02V239.71M205.17 235.10V235.82M206.26 235.36V236.16M206.69 243.11V243.79M207.97 244.64V245.28M209.02 248.23V248.94M210.56 249.35V250.01M211.90 247.16V247.88M213.39 248.54V249.29M214.50 247.96V248.52M216.09 249.25V250.07M217.07 248.31V249.10M218.61 250.92V251.31M218.49 253.23V253.98M219.94 251.38V251.95M220.99 252.82V253.53M222.07 254.21V254.64M223.49 253.77V254.59M224.69 251.77V252.27M225.96 251.72V252.12M227.18 254.72V255.11M228.61 254.45V254.89M229.66 252.83V253.21M231.07 253.14V253.92M232.60 252.74V253.43M230.68 244.46V244.89M231.23 245.11V245.72M232.51 241.37V241.81M233.62 241.93V242.49M234.35 241.60V242.24M235.53 234.34V234.83M236.63 238.51V239.18M237.30 231.06V231.88M238.35 229.53V229.99M239.38 233.03V233.60M240.26 226.47V227.10M240.45 226.91V227.38M241.73 229.99V230.35M243.40 232.85V233.26M244.68 229.37V229.94M244.45 242.74V243.10M245.71 242.92V243.35M247.14 246.53V247.06M248.25 240.45V240.86M249.45 243.34V244.00M250.77 242.32V242.97M250.66 237.41V238.03M251.69 234.98V235.51M252.21 232.89V233.41M253.46 235.06V235.69M254.44 229.31V229.95M255.54 228.19V228.76M256.52 226.98V227.69M257.65 224.31V224.93M257.53 234.30V234.77M258.46 231.52V232.30M259.23 233.42V234.13M260.48 229.22V229.65M261.66 233.86V234.49M262.23 234.37V235.11M263.64 233.56V234.12M264.22 232.50V233.07M265.63 234.08V234.63M265.72 232.17V236.25M266.25 224.58V227.77M267.47 225.67V228.68M268.51 234.62V238.31M269.58 234.24V236.30M270.45 226.90V230.77M271.48 236.46V240.23M272.32 230.41V233.39M273.78 236.66V240.35M274.63 238.71V241.85M274.38 231.04V236.49M275.80 234.15V238.46M276.75 235.77V238.53M278.23 239.30V243.37M279.11 236.67V239.24M280.22 235.86V240.54M278.73 236.99V243.94M279.62 238.13V243.65M280.97 242.87V246.81M282.51 236.84V242.66M283.88 242.52V248.38M285.17 242.05V247.50M286.35 241.32V246.11M287.98 243.02V247.76M289.01 237.83V244.06M290.36 238.19V243.03M291.66 241.64V246.76M293.35 240.18V243.17M294.67 239.57V244.23M295.68 240.18V245.92M297.03 242.27V248.76M298.47 242.85V249.38M299.60 241.09V246.54M301.27 237.79V241.48M302.54 237.42V242.27M302.63 234.82V241.83M304.11 236.75V243.85M305.07 230.44V237.67M306.71 231.52V237.95M308.10 240.58V246.90M308.91 235.46V242.32M310.37 233.82V239.40M311.65 241.22V247.57M313.10 244.07V249.11M314.78 238.61V245.46M315.79 243.89V250.39M316.99 243.64V250.17M318.61 244.69V252.79M92.50 238.09V238.68M105.50 210.23V210.82M119.50 207.24V207.84M120.50 204.26V204.85M122.50 216.20V216.79M123.50 221.67V222.27M125.50 232.61V233.21M124.50 238.58V239.18M133.50 198.29V198.88M132.00 206.74V207.34M132.50 218.19V218.78M152.50 205.75V206.35M159.00 207.24V207.84M154.50 233.61V234.21M160.50 230.62V231.22M170.50 251.52V252.12M194.00 228.63V229.23M199.50 225.15V225.75M197.00 254.01V254.60M197.00 257.99V258.58M207.50 232.61V233.21M222.50 241.57V242.17M261.50 213.01V216.00M262.00 221.47V224.45M290.50 228.93V233.91M293.50 250.32V265.25M294.50 256.29V266.25M302.50 244.35V264.25M307.50 190.62V240.38M308.50 208.04V237.89M305.50 214.50V236.39M313.50 219.98V222.96M314.00 221.97V224.95M312.50 258.78V261.77"/><path class="pt" d="M88.36 220.42v6.2M89.96 223.06v6.2M90.79 222.95v6.2M92.03 221.55v6.2M93.38 222.18v6.2M94.82 224.40v6.2M95.79 220.23v6.2M97.43 220.62v6.2M98.77 220.92v6.2M91.71 226.48v6.2M92.98 227.22v6.2M94.35 228.39v6.2M96.03 225.46v6.2M97.39 227.53v6.2M98.50 226.97v6.2M99.97 230.67v6.2M101.46 229.28v6.2M102.99 231.98v6.2M104.34 231.61v6.2M104.42 215.21v6.2M106.27 213.34v6.2M107.76 213.63v6.2M107.68 217.82v6.2M108.67 220.22v6.2M110.48 217.65v6.2M111.84 220.02v6.2M112.78 216.33v6.2M114.51 220.63v6.2M115.80 218.19v6.2M117.26 219.49v6.2M118.30 217.30v6.2M126.34 213.71v6.2M128.03 209.66v6.2M129.46 209.24v6.2M134.20 206.37v6.2M135.68 209.61v6.2M136.85 209.08v6.2M138.60 211.33v6.2M139.70 207.74v6.2M140.98 209.23v6.2M142.02 210.14v6.2M143.74 211.50v6.2M145.11 211.82v6.2M146.11 212.10v6.2M147.32 211.96v6.2M147.44 218.81v6.2M148.85 220.08v6.2M149.89 217.81v6.2M151.26 219.71v6.2M152.43 216.93v6.2M154.12 221.72v6.2M155.15 223.39v6.2M156.42 221.66v6.2M160.79 233.41v6.2M161.61 229.29v6.2M163.40 233.65v6.2M164.20 236.86v6.2M165.62 237.29v6.2M167.07 237.11v6.2M168.63 240.28v6.2M168.51 237.25v6.2M169.79 239.04v6.2M171.24 242.06v6.2M172.27 237.90v6.2M173.38 237.01v6.2M174.50 242.44v6.2M176.14 242.11v6.2M177.47 236.78v6.2M178.45 239.03v6.2M178.63 239.25v6.2M179.52 238.72v6.2M180.98 238.19v6.2M182.22 238.89v6.2M183.36 236.69v6.2M184.60 233.49v6.2M185.95 232.11v6.2M187.24 235.11v6.2M188.74 232.99v6.2M188.43 229.93v6.2M189.88 231.24v6.2M190.97 230.62v6.2M192.38 227.07v6.2M193.85 226.82v6.2M195.31 227.10v6.2M196.78 229.14v6.2M197.29 230.55v6.2M198.52 232.58v6.2M199.93 233.04v6.2M201.20 233.17v6.2M202.61 232.42v6.2M203.76 236.27v6.2M205.17 232.36v6.2M206.26 232.66v6.2M206.69 240.35v6.2M207.97 241.86v6.2M209.02 245.48v6.2M210.56 246.58v6.2M211.90 244.42v6.2M213.39 245.82v6.2M214.50 245.14v6.2M216.09 246.56v6.2M217.07 245.60v6.2M218.61 248.02v6.2M218.49 250.51v6.2M219.94 248.57v6.2M220.99 250.08v6.2M222.07 251.33v6.2M223.49 251.08v6.2M224.69 248.92v6.2M225.96 248.82v6.2M227.18 251.81v6.2M228.61 251.57v6.2M229.66 249.92v6.2M231.07 250.43v6.2M232.60 249.98v6.2M230.68 241.57v6.2M231.23 242.32v6.2M232.51 238.49v6.2M233.62 239.11v6.2M234.35 238.82v6.2M235.53 231.49v6.2M236.63 235.75v6.2M237.30 228.37v6.2M238.35 226.66v6.2M239.38 230.22v6.2M240.26 223.68v6.2M240.45 224.05v6.2M241.73 227.07v6.2M243.40 229.96v6.2M244.68 226.55v6.2M244.45 239.82v6.2M245.71 240.04v6.2M247.14 243.69v6.2M248.25 237.56v6.2M249.45 240.57v6.2M250.77 239.54v6.2M250.66 234.62v6.2M251.69 232.14v6.2M252.21 230.05v6.2M253.46 232.27v6.2M254.44 226.53v6.2M255.54 225.38v6.2M256.52 224.24v6.2M257.65 221.52v6.2M257.53 231.44v6.2M258.46 228.81v6.2M259.23 230.67v6.2M260.48 226.33v6.2M261.66 231.08v6.2M262.23 231.64v6.2M263.64 230.74v6.2M264.22 229.68v6.2M265.63 231.25v6.2M265.72 231.11v6.2M266.25 223.07v6.2M267.47 224.08v6.2M268.51 233.36v6.2M269.58 232.17v6.2M270.45 225.73v6.2M271.48 235.25v6.2M272.32 228.80v6.2M273.78 235.41v6.2M274.63 237.18v6.2M274.38 230.66v6.2M275.80 233.21v6.2M276.75 234.05v6.2M278.23 238.23v6.2M279.11 234.85v6.2M280.22 235.10v6.2M278.73 237.37v6.2M279.62 237.79v6.2M280.97 241.74v6.2M282.51 236.65v6.2M283.88 242.35v6.2M285.17 241.67v6.2M286.35 240.61v6.2M287.98 242.29v6.2M289.01 237.84v6.2M290.36 237.51v6.2M291.66 241.10v6.2M293.35 238.57v6.2M294.67 238.80v6.2M295.68 239.95v6.2M297.03 242.41v6.2M298.47 243.01v6.2M299.60 240.72v6.2M301.27 236.54v6.2M302.54 236.74v6.2M302.63 235.23v6.2M304.11 237.20v6.2M305.07 230.96v6.2M306.71 231.63v6.2M308.10 240.64v6.2M308.91 235.79v6.2M310.37 233.51v6.2M311.65 241.29v6.2M313.10 243.49v6.2M314.78 238.94v6.2M315.79 244.04v6.2M316.99 243.81v6.2M318.61 245.64v6.2M92.50 235.28v6.2M105.50 207.42v6.2M119.50 204.44v6.2M120.50 201.46v6.2M122.50 213.40v6.2M123.50 218.87v6.2M125.50 229.81v6.2M124.50 235.78v6.2M133.50 195.48v6.2M132.00 203.94v6.2M132.50 215.38v6.2M152.50 202.95v6.2M159.00 204.44v6.2M154.50 230.81v6.2M160.50 227.82v6.2M170.50 248.72v6.2M194.00 225.83v6.2M199.50 222.35v6.2M197.00 251.20v6.2M197.00 255.18v6.2M207.50 229.81v6.2M222.50 238.77v6.2M261.50 211.41v6.2M262.00 219.86v6.2M290.50 228.32v6.2M293.50 254.69v6.2M294.50 258.17v6.2M302.50 251.20v6.2M307.50 212.40v6.2M308.50 219.86v6.2M305.50 222.35v6.2M313.50 218.37v6.2M314.00 220.36v6.2M312.50 257.17v6.2"/><path class="ph" d="M85.26 223.5h6.2M85.36 223.5h6.0M85.36 223.5h6.0M86.86 226.5h6.2M86.96 225.5h6.0M86.96 226.5h6.0M87.69 226.5h6.2M87.79 225.5h6.0M87.79 226.5h6.0M88.93 224.5h6.2M89.03 224.5h6.0M89.03 224.5h6.0M90.28 225.5h6.2M90.38 224.5h6.0M90.38 225.5h6.0M91.72 227.5h6.2M91.82 227.5h6.0M91.82 227.5h6.0M92.69 223.5h6.2M92.79 222.5h6.0M92.79 223.5h6.0M94.33 223.5h6.2M94.43 223.5h6.0M94.43 224.5h6.0M95.67 224.5h6.2M95.77 223.5h6.0M95.77 224.5h6.0M88.61 229.5h6.2M88.71 229.5h6.0M88.71 229.5h6.0M89.88 230.5h6.2M89.98 230.5h6.0M89.98 230.5h6.0M91.25 231.5h6.2M91.35 231.5h6.0M91.35 231.5h6.0M92.93 228.5h6.2M93.03 228.5h6.0M93.03 228.5h6.0M94.29 230.5h6.2M94.39 230.5h6.0M94.39 230.5h6.0M95.40 230.5h6.2M95.50 229.5h6.0M95.50 230.5h6.0M96.87 233.5h6.2M96.97 233.5h6.0M96.97 234.5h6.0M98.36 232.5h6.2M98.46 232.5h6.0M98.46 232.5h6.0M99.89 235.5h6.2M99.99 234.5h6.0M99.99 235.5h6.0M101.24 234.5h6.2M101.34 234.5h6.0M101.34 234.5h6.0M101.32 218.5h6.2M101.42 217.5h6.0M101.42 218.5h6.0M103.17 216.5h6.2M103.27 216.5h6.0M103.27 216.5h6.0M104.66 216.5h6.2M104.76 216.5h6.0M104.76 216.5h6.0M104.58 220.5h6.2M104.68 220.5h6.0M104.68 221.5h6.0M105.57 223.5h6.2M105.67 222.5h6.0M105.67 223.5h6.0M107.38 220.5h6.2M107.48 220.5h6.0M107.48 220.5h6.0M108.74 223.5h6.2M108.84 222.5h6.0M108.84 223.5h6.0M109.68 219.5h6.2M109.78 219.5h6.0M109.78 219.5h6.0M111.41 223.5h6.2M111.51 223.5h6.0M111.51 224.5h6.0M112.70 221.5h6.2M112.80 221.5h6.0M112.80 221.5h6.0M114.16 222.5h6.2M114.26 222.5h6.0M114.26 222.5h6.0M115.20 220.5h6.2M115.30 220.5h6.0M115.30 220.5h6.0M123.24 216.5h6.2M123.34 216.5h6.0M123.34 217.5h6.0M124.93 212.5h6.2M125.03 212.5h6.0M125.03 212.5h6.0M126.36 212.5h6.2M126.46 212.5h6.0M126.46 212.5h6.0M131.10 209.5h6.2M131.20 209.5h6.0M131.20 209.5h6.0M132.58 212.5h6.2M132.68 212.5h6.0M132.68 213.5h6.0M133.75 212.5h6.2M133.85 211.5h6.0M133.85 212.5h6.0M135.50 214.5h6.2M135.60 214.5h6.0M135.60 214.5h6.0M136.60 210.5h6.2M136.70 210.5h6.0M136.70 211.5h6.0M137.88 212.5h6.2M137.98 212.5h6.0M137.98 212.5h6.0M138.92 213.5h6.2M139.02 212.5h6.0M139.02 213.5h6.0M140.64 214.5h6.2M140.74 214.5h6.0M140.74 214.5h6.0M142.01 214.5h6.2M142.11 214.5h6.0M142.11 215.5h6.0M143.01 215.5h6.2M143.11 214.5h6.0M143.11 215.5h6.0M144.22 215.5h6.2M144.32 214.5h6.0M144.32 215.5h6.0M144.34 221.5h6.2M144.44 221.5h6.0M144.44 222.5h6.0M145.75 223.5h6.2M145.85 222.5h6.0M145.85 223.5h6.0M146.79 220.5h6.2M146.89 220.5h6.0M146.89 221.5h6.0M148.16 222.5h6.2M148.26 222.5h6.0M148.26 223.5h6.0M149.33 220.5h6.2M149.43 219.5h6.0M149.43 220.5h6.0M151.02 224.5h6.2M151.12 224.5h6.0M151.12 225.5h6.0M152.05 226.5h6.2M152.15 226.5h6.0M152.15 226.5h6.0M153.32 224.5h6.2M153.42 224.5h6.0M153.42 225.5h6.0M157.69 236.5h6.2M157.79 236.5h6.0M157.79 236.5h6.0M158.51 232.5h6.2M158.61 232.5h6.0M158.61 232.5h6.0M160.30 236.5h6.2M160.40 236.5h6.0M160.40 236.5h6.0M161.10 239.5h6.2M161.20 239.5h6.0M161.20 240.5h6.0M162.52 240.5h6.2M162.62 240.5h6.0M162.62 240.5h6.0M163.97 240.5h6.2M164.07 239.5h6.0M164.07 240.5h6.0M165.53 243.5h6.2M165.63 242.5h6.0M165.63 243.5h6.0M165.41 240.5h6.2M165.51 240.5h6.0M165.51 240.5h6.0M166.69 242.5h6.2M166.79 241.5h6.0M166.79 242.5h6.0M168.14 245.5h6.2M168.24 244.5h6.0M168.24 245.5h6.0M169.17 240.5h6.2M169.27 240.5h6.0M169.27 241.5h6.0M170.28 240.5h6.2M170.38 239.5h6.0M170.38 240.5h6.0M171.40 245.5h6.2M171.50 245.5h6.0M171.50 245.5h6.0M173.04 245.5h6.2M173.14 244.5h6.0M173.14 245.5h6.0M174.37 239.5h6.2M174.47 239.5h6.0M174.47 240.5h6.0M175.35 242.5h6.2M175.45 241.5h6.0M175.45 242.5h6.0M175.53 242.5h6.2M175.63 241.5h6.0M175.63 242.5h6.0M176.42 241.5h6.2M176.52 241.5h6.0M176.52 242.5h6.0M177.88 241.5h6.2M177.98 240.5h6.0M177.98 241.5h6.0M179.12 241.5h6.2M179.22 241.5h6.0M179.22 242.5h6.0M180.26 239.5h6.2M180.36 239.5h6.0M180.36 240.5h6.0M181.50 236.5h6.2M181.60 236.5h6.0M181.60 236.5h6.0M182.85 235.5h6.2M182.95 234.5h6.0M182.95 235.5h6.0M184.14 238.5h6.2M184.24 237.5h6.0M184.24 238.5h6.0M185.64 236.5h6.2M185.74 235.5h6.0M185.74 236.5h6.0M185.33 233.5h6.2M185.43 232.5h6.0M185.43 233.5h6.0M186.78 234.5h6.2M186.88 233.5h6.0M186.88 234.5h6.0M187.87 233.5h6.2M187.97 233.5h6.0M187.97 234.5h6.0M189.28 230.5h6.2M189.38 229.5h6.0M189.38 230.5h6.0M190.75 229.5h6.2M190.85 229.5h6.0M190.85 230.5h6.0M192.21 230.5h6.2M192.31 229.5h6.0M192.31 230.5h6.0M193.68 232.5h6.2M193.78 231.5h6.0M193.78 232.5h6.0M194.19 233.5h6.2M194.29 233.5h6.0M194.29 233.5h6.0M195.42 235.5h6.2M195.52 235.5h6.0M195.52 236.5h6.0M196.83 236.5h6.2M196.93 235.5h6.0M196.93 236.5h6.0M198.10 236.5h6.2M198.20 236.5h6.0M198.20 236.5h6.0M199.51 235.5h6.2M199.61 235.5h6.0M199.61 235.5h6.0M200.66 239.5h6.2M200.76 239.5h6.0M200.76 239.5h6.0M202.07 235.5h6.2M202.17 235.5h6.0M202.17 235.5h6.0M203.16 235.5h6.2M203.26 235.5h6.0M203.26 236.5h6.0M203.59 243.5h6.2M203.69 243.5h6.0M203.69 243.5h6.0M204.87 244.5h6.2M204.97 244.5h6.0M204.97 245.5h6.0M205.92 248.5h6.2M206.02 248.5h6.0M206.02 248.5h6.0M207.46 249.5h6.2M207.56 249.5h6.0M207.56 250.5h6.0M208.80 247.5h6.2M208.90 247.5h6.0M208.90 247.5h6.0M210.29 248.5h6.2M210.39 248.5h6.0M210.39 249.5h6.0M211.40 248.5h6.2M211.50 247.5h6.0M211.50 248.5h6.0M212.99 249.5h6.2M213.09 249.5h6.0M213.09 250.5h6.0M213.97 248.5h6.2M214.07 248.5h6.0M214.07 249.5h6.0M215.51 251.5h6.2M215.61 250.5h6.0M215.61 251.5h6.0M215.39 253.5h6.2M215.49 253.5h6.0M215.49 253.5h6.0M216.84 251.5h6.2M216.94 251.5h6.0M216.94 251.5h6.0M217.89 253.5h6.2M217.99 252.5h6.0M217.99 253.5h6.0M218.97 254.5h6.2M219.07 254.5h6.0M219.07 254.5h6.0M220.39 254.5h6.2M220.49 253.5h6.0M220.49 254.5h6.0M221.59 252.5h6.2M221.69 251.5h6.0M221.69 252.5h6.0M222.86 251.5h6.2M222.96 251.5h6.0M222.96 252.5h6.0M224.08 254.5h6.2M224.18 254.5h6.0M224.18 255.5h6.0M225.51 254.5h6.2M225.61 254.5h6.0M225.61 254.5h6.0M226.56 253.5h6.2M226.66 252.5h6.0M226.66 253.5h6.0M227.97 253.5h6.2M228.07 253.5h6.0M228.07 253.5h6.0M229.50 253.5h6.2M229.60 252.5h6.0M229.60 253.5h6.0M227.58 244.5h6.2M227.68 244.5h6.0M227.68 244.5h6.0M228.13 245.5h6.2M228.23 245.5h6.0M228.23 245.5h6.0M229.41 241.5h6.2M229.51 241.5h6.0M229.51 241.5h6.0M230.52 242.5h6.2M230.62 241.5h6.0M230.62 242.5h6.0M231.25 241.5h6.2M231.35 241.5h6.0M231.35 242.5h6.0M232.43 234.5h6.2M232.53 234.5h6.0M232.53 234.5h6.0M233.53 238.5h6.2M233.63 238.5h6.0M233.63 239.5h6.0M234.20 231.5h6.2M234.30 231.5h6.0M234.30 231.5h6.0M235.25 229.5h6.2M235.35 229.5h6.0M235.35 229.5h6.0M236.28 233.5h6.2M236.38 233.5h6.0M236.38 233.5h6.0M237.16 226.5h6.2M237.26 226.5h6.0M237.26 227.5h6.0M237.35 227.5h6.2M237.45 226.5h6.0M237.45 227.5h6.0M238.63 230.5h6.2M238.73 229.5h6.0M238.73 230.5h6.0M240.30 233.5h6.2M240.40 232.5h6.0M240.40 233.5h6.0M241.58 229.5h6.2M241.68 229.5h6.0M241.68 229.5h6.0M241.35 242.5h6.2M241.45 242.5h6.0M241.45 243.5h6.0M242.61 243.5h6.2M242.71 242.5h6.0M242.71 243.5h6.0M244.04 246.5h6.2M244.14 246.5h6.0M244.14 247.5h6.0M245.15 240.5h6.2M245.25 240.5h6.0M245.25 240.5h6.0M246.35 243.5h6.2M246.45 243.5h6.0M246.45 243.5h6.0M247.67 242.5h6.2M247.77 242.5h6.0M247.77 242.5h6.0M247.56 237.5h6.2M247.66 237.5h6.0M247.66 238.5h6.0M248.59 235.5h6.2M248.69 234.5h6.0M248.69 235.5h6.0M249.11 233.5h6.2M249.21 232.5h6.0M249.21 233.5h6.0M250.36 235.5h6.2M250.46 235.5h6.0M250.46 235.5h6.0M251.34 229.5h6.2M251.44 229.5h6.0M251.44 229.5h6.0M252.44 228.5h6.2M252.54 228.5h6.0M252.54 228.5h6.0M253.42 227.5h6.2M253.52 226.5h6.0M253.52 227.5h6.0M254.55 224.5h6.2M254.65 224.5h6.0M254.65 224.5h6.0M254.43 234.5h6.2M254.53 234.5h6.0M254.53 234.5h6.0M255.36 231.5h6.2M255.46 231.5h6.0M255.46 232.5h6.0M256.13 233.5h6.2M256.23 233.5h6.0M256.23 234.5h6.0M257.38 229.5h6.2M257.48 229.5h6.0M257.48 229.5h6.0M258.56 234.5h6.2M258.66 233.5h6.0M258.66 234.5h6.0M259.13 234.5h6.2M259.23 234.5h6.0M259.23 235.5h6.0M260.54 233.5h6.2M260.64 233.5h6.0M260.64 234.5h6.0M261.12 232.5h6.2M261.22 232.5h6.0M261.22 233.5h6.0M262.53 234.5h6.2M262.63 234.5h6.0M262.63 234.5h6.0M262.62 234.5h6.2M262.72 232.5h6.0M262.72 236.5h6.0M263.15 226.5h6.2M263.25 224.5h6.0M263.25 227.5h6.0M264.37 227.5h6.2M264.47 225.5h6.0M264.47 228.5h6.0M265.41 236.5h6.2M265.51 234.5h6.0M265.51 238.5h6.0M266.48 235.5h6.2M266.58 234.5h6.0M266.58 236.5h6.0M267.35 228.5h6.2M267.45 226.5h6.0M267.45 230.5h6.0M268.38 238.5h6.2M268.48 236.5h6.0M268.48 240.5h6.0M269.22 231.5h6.2M269.32 230.5h6.0M269.32 233.5h6.0M270.68 238.5h6.2M270.78 236.5h6.0M270.78 240.5h6.0M271.53 240.5h6.2M271.63 238.5h6.0M271.63 241.5h6.0M271.28 233.5h6.2M271.38 231.5h6.0M271.38 236.5h6.0M272.70 236.5h6.2M272.80 234.5h6.0M272.80 238.5h6.0M273.65 237.5h6.2M273.75 235.5h6.0M273.75 238.5h6.0M275.13 241.5h6.2M275.23 239.5h6.0M275.23 243.5h6.0M276.01 237.5h6.2M276.11 236.5h6.0M276.11 239.5h6.0M277.12 238.5h6.2M277.22 235.5h6.0M277.22 240.5h6.0M275.63 240.5h6.2M275.73 236.5h6.0M275.73 243.5h6.0M276.52 240.5h6.2M276.62 238.5h6.0M276.62 243.5h6.0M277.87 244.5h6.2M277.97 242.5h6.0M277.97 246.5h6.0M279.41 239.5h6.2M279.51 236.5h6.0M279.51 242.5h6.0M280.78 245.5h6.2M280.88 242.5h6.0M280.88 248.5h6.0M282.07 244.5h6.2M282.17 242.5h6.0M282.17 247.5h6.0M283.25 243.5h6.2M283.35 241.5h6.0M283.35 246.5h6.0M284.88 245.5h6.2M284.98 243.5h6.0M284.98 247.5h6.0M285.91 240.5h6.2M286.01 237.5h6.0M286.01 244.5h6.0M287.26 240.5h6.2M287.36 238.5h6.0M287.36 243.5h6.0M288.56 244.5h6.2M288.66 241.5h6.0M288.66 246.5h6.0M290.25 241.5h6.2M290.35 240.5h6.0M290.35 243.5h6.0M291.57 241.5h6.2M291.67 239.5h6.0M291.67 244.5h6.0M292.58 243.5h6.2M292.68 240.5h6.0M292.68 245.5h6.0M293.93 245.5h6.2M294.03 242.5h6.0M294.03 248.5h6.0M295.37 246.5h6.2M295.47 242.5h6.0M295.47 249.5h6.0M296.50 243.5h6.2M296.60 241.5h6.0M296.60 246.5h6.0M298.17 239.5h6.2M298.27 237.5h6.0M298.27 241.5h6.0M299.44 239.5h6.2M299.54 237.5h6.0M299.54 242.5h6.0M299.53 238.5h6.2M299.63 234.5h6.0M299.63 241.5h6.0M301.01 240.5h6.2M301.11 236.5h6.0M301.11 243.5h6.0M301.97 234.5h6.2M302.07 230.5h6.0M302.07 237.5h6.0M303.61 234.5h6.2M303.71 231.5h6.0M303.71 237.5h6.0M305.00 243.5h6.2M305.10 240.5h6.0M305.10 246.5h6.0M305.81 238.5h6.2M305.91 235.5h6.0M305.91 242.5h6.0M307.27 236.5h6.2M307.37 233.5h6.0M307.37 239.5h6.0M308.55 244.5h6.2M308.65 241.5h6.0M308.65 247.5h6.0M310.00 246.5h6.2M310.10 244.5h6.0M310.10 249.5h6.0M311.68 242.5h6.2M311.78 238.5h6.0M311.78 245.5h6.0M312.69 247.5h6.2M312.79 243.5h6.0M312.79 250.5h6.0M313.89 246.5h6.2M313.99 243.5h6.0M313.99 250.5h6.0M315.51 248.5h6.2M315.61 244.5h6.0M315.61 252.5h6.0M89.40 238.5h6.2M89.50 238.5h6.0M89.50 238.5h6.0M102.40 210.5h6.2M102.50 210.5h6.0M102.50 210.5h6.0M116.40 207.5h6.2M116.50 207.5h6.0M116.50 207.5h6.0M117.40 204.5h6.2M117.50 204.5h6.0M117.50 204.5h6.0M119.40 216.5h6.2M119.50 216.5h6.0M119.50 216.5h6.0M120.40 221.5h6.2M120.50 221.5h6.0M120.50 222.5h6.0M122.40 232.5h6.2M122.50 232.5h6.0M122.50 233.5h6.0M121.40 238.5h6.2M121.50 238.5h6.0M121.50 239.5h6.0M130.40 198.5h6.2M130.50 198.5h6.0M130.50 198.5h6.0M128.90 207.5h6.2M129.00 206.5h6.0M129.00 207.5h6.0M129.40 218.5h6.2M129.50 218.5h6.0M129.50 218.5h6.0M149.40 206.5h6.2M149.50 205.5h6.0M149.50 206.5h6.0M155.90 207.5h6.2M156.00 207.5h6.0M156.00 207.5h6.0M151.40 233.5h6.2M151.50 233.5h6.0M151.50 234.5h6.0M157.40 230.5h6.2M157.50 230.5h6.0M157.50 231.5h6.0M167.40 251.5h6.2M167.50 251.5h6.0M167.50 252.5h6.0M190.90 228.5h6.2M191.00 228.5h6.0M191.00 229.5h6.0M196.40 225.5h6.2M196.50 225.5h6.0M196.50 225.5h6.0M193.90 254.5h6.2M194.00 254.5h6.0M194.00 254.5h6.0M193.90 258.5h6.2M194.00 257.5h6.0M194.00 258.5h6.0M204.40 232.5h6.2M204.50 232.5h6.0M204.50 233.5h6.0M219.40 241.5h6.2M219.50 241.5h6.0M219.50 242.5h6.0M258.40 214.5h6.2M258.50 213.5h6.0M258.50 215.5h6.0M258.90 222.5h6.2M259.00 221.5h6.0M259.00 224.5h6.0M287.40 231.5h6.2M287.50 228.5h6.0M287.50 233.5h6.0M290.40 257.5h6.2M290.50 250.5h6.0M290.50 265.5h6.0M291.40 261.5h6.2M291.50 256.5h6.0M291.50 266.5h6.0M299.40 254.5h6.2M299.50 244.5h6.0M299.50 264.5h6.0M304.40 215.5h6.2M304.50 190.5h6.0M304.50 240.5h6.0M305.40 222.5h6.2M305.50 208.5h6.0M305.50 237.5h6.0M302.40 225.5h6.2M302.50 214.5h6.0M302.50 236.5h6.0M310.40 221.5h6.2M310.50 219.5h6.0M310.50 222.5h6.0M310.90 223.5h6.2M311.00 221.5h6.0M311.00 224.5h6.0M309.40 260.5h6.2M309.50 258.5h6.0M309.50 261.5h6.0"/>
</g>
<path class="tk" d="M68.5 275.2v-6M68.5 175.7v6M118.5 275.2v-6M118.5 175.7v6M168.5 275.2v-6M168.5 175.7v6M218.5 275.2v-6M218.5 175.7v6M268.5 275.2v-6M268.5 175.7v6M318.5 275.2v-6M318.5 175.7v6M68.5 275.2h6M318.5 275.2h-6M68.5 250.32h6M318.5 250.32h-6M68.5 225.45h6M318.5 225.45h-6M68.5 200.57h6M318.5 200.57h-6M68.5 175.7h6M318.5 175.7h-6"/>
<rect class="fr" x="68.5" y="175.7" width="250" height="99.5"/>
<text x="70.5" y="296.8" text-anchor="middle">0</text>
<text x="120.5" y="296.8" text-anchor="middle">5</text>
<text x="170.5" y="296.8" text-anchor="middle">10</text>
<text x="220.5" y="296.8" text-anchor="middle">15</text>
<text x="270.5" y="296.8" text-anchor="middle">20</text>
<text x="320.5" y="296.8" text-anchor="middle">25</text>
<text x="59.2" y="281.3" text-anchor="end">-1</text>
<text x="59.2" y="256.43" text-anchor="end">-0.5</text>
<text x="59.2" y="231.55" text-anchor="end">0</text>
<text x="59.2" y="206.67" text-anchor="end">0.5</text>
<text x="59.2" y="181.8" text-anchor="end">1</text>
<text x="193.5" y="320.2" text-anchor="middle">Frequency [Hz]</text>
<text transform="translate(11.8,225.45) rotate(-90)" text-anchor="middle">X1</text>
<clipPath id="c0Y1"><rect x="420.5" y="171.7" width="258.0" height="107.5"/></clipPath>
<path class="gr" d="M474.5 176.4V275.2M524.5 176.4V275.2M574.5 176.4V275.2M624.5 176.4V275.2M425.2 250.32H674.5M425.2 225.45H674.5M425.2 200.57H674.5"/>
<g clip-path="url(#c0Y1)">
<path class="eb" style="stroke-width:0.55" stroke-opacity="1.0" d="M444.26 220.33V221.00M446.04 222.14V222.62M447.19 220.59V221.09M448.43 221.52V222.25M449.36 222.18V222.97M450.78 222.05V222.79M452.22 222.55V223.17M453.51 222.47V223.14M454.46 221.92V222.32M455.78 219.29V219.84M457.52 221.39V222.04M458.72 220.52V220.93M456.55 229.50V229.94M457.66 229.94V230.54M459.12 235.13V235.59M460.88 238.00V238.41M462.29 242.92V243.41M463.22 240.72V241.13M465.52 230.08V230.67M467.01 228.52V229.09M468.29 229.98V230.62M469.46 230.67V231.14M471.32 229.26V229.65M472.29 231.23V231.86M471.21 238.17V238.98M472.95 240.48V241.11M474.76 242.00V242.50M474.31 224.43V225.01M475.60 226.37V226.74M476.89 223.92V224.55M478.12 224.82V225.35M479.35 229.96V230.39M477.32 215.19V215.97M478.61 215.18V215.83M480.25 214.97V215.70M481.17 213.94V214.58M482.77 213.18V213.78M483.95 214.77V215.31M485.28 213.96V214.69M486.14 212.53V213.18M487.35 212.49V213.07M488.65 215.25V215.65M489.82 213.53V213.95M491.11 214.41V215.02M492.43 213.13V213.61M489.42 201.26V201.68M490.73 204.44V205.15M492.09 198.34V198.80M493.79 198.44V198.97M495.36 198.39V199.02M496.23 201.45V201.93M495.48 212.73V213.50M496.42 214.87V215.68M497.89 219.94V220.72M499.00 211.90V212.68M500.42 212.37V212.76M501.59 217.83V218.25M502.52 215.21V215.57M503.74 213.20V213.80M504.97 217.32V218.14M505.99 213.83V214.50M507.02 210.99V211.46M508.79 211.24V212.03M509.71 199.00V199.57M510.91 194.73V195.10M512.28 195.48V196.22M511.62 206.52V207.13M512.88 210.85V211.64M513.61 211.10V211.74M515.22 211.51V212.20M516.51 211.90V212.36M517.13 208.43V209.01M518.52 211.50V211.92M519.61 213.94V214.42M521.17 214.19V214.59M522.36 211.95V212.32M523.42 210.99V211.66M524.66 213.42V213.88M524.65 208.20V208.90M525.60 210.32V211.01M527.00 208.70V209.28M528.51 210.88V211.48M529.84 211.41V211.85M531.01 212.79V213.55M532.08 206.84V207.46M533.29 209.99V210.68M528.49 213.89V214.42M530.24 218.82V219.56M531.14 215.92V216.31M532.66 215.31V216.10M534.23 217.68V218.26M535.87 218.66V219.18M537.48 217.03V217.56M538.92 212.98V213.55M539.90 220.03V220.82M541.46 221.52V222.26M542.88 215.56V216.02M544.51 218.55V218.96M546.20 220.38V221.11M547.66 224.35V225.10M544.69 212.53V213.17M545.66 209.88V210.60M547.09 210.15V210.57M548.72 209.23V209.98M549.58 208.38V208.78M551.20 212.88V213.66M552.26 210.86V211.44M553.76 214.55V215.22M555.45 211.92V212.71M556.40 212.86V213.44M558.12 208.37V209.03M558.89 211.49V211.86M560.24 212.18V212.65M561.60 210.91V211.64M563.42 207.46V208.02M564.31 207.08V207.64M566.41 213.25V213.88M568.10 213.89V214.70M568.96 212.55V213.16M570.62 216.45V216.93M571.71 217.06V217.88M572.94 216.71V217.37M574.32 216.97V217.45M575.34 206.02V206.73M576.93 204.88V205.67M578.20 206.28V207.10M579.34 202.92V203.67M577.20 222.72V223.28M578.83 222.73V223.30M580.01 226.48V227.26M581.47 224.27V224.93M583.12 223.71V224.52M584.17 224.23V224.73M585.27 225.65V226.02M582.78 231.80V232.36M583.71 232.65V233.27M585.35 236.69V237.21M586.35 230.08V230.65M587.80 231.62V232.16M589.10 237.15V237.62M590.62 239.40V240.00M590.54 236.89V237.60M591.76 235.13V235.94M593.30 236.80V237.38M594.22 235.44V236.03M595.72 238.92V239.45M596.54 236.03V236.53M598.10 235.61V236.37M599.63 235.93V236.40M600.89 240.47V241.03M602.16 233.87V234.51M603.39 239.06V239.44M604.31 232.87V233.25M605.60 235.93V236.38M607.19 238.81V239.21M608.53 239.25V239.72M609.45 232.13V232.64M607.54 216.73V217.38M608.95 223.02V223.64M609.71 216.49V216.86M611.01 219.72V220.37M612.21 218.16V218.57M613.64 222.77V223.48M615.20 217.08V217.59M616.10 215.42V216.17M617.78 219.77V220.55M614.61 226.72V227.32M616.00 230.32V230.81M617.15 235.79V236.47M618.40 234.19V234.93M619.85 232.66V233.46M621.43 231.58V232.20M622.20 232.36V233.19M623.84 225.12V225.49M624.88 236.32V236.72M626.65 225.24V225.97M624.56 229.05V232.65M625.61 229.34V232.12M627.35 227.35V230.94M628.71 229.50V234.66M629.96 226.10V230.38M631.25 222.26V227.82M632.54 222.85V226.01M634.09 223.24V227.66M634.93 223.65V227.25M636.40 223.45V226.11M637.92 230.95V236.11M639.00 233.06V237.00M640.47 225.77V229.05M640.38 222.46V226.60M641.55 219.21V224.21M643.16 222.56V226.47M644.07 219.84V224.64M645.29 217.66V222.98M646.73 221.11V225.66M647.93 221.53V225.88M649.42 223.00V226.02M650.68 215.85V218.88M652.07 218.87V222.15M653.18 216.11V218.82M654.53 219.31V222.05M654.45 222.53V228.95M655.50 216.16V224.82M657.30 212.77V218.35M658.54 218.78V226.94M659.63 214.55V220.96M661.20 216.85V225.48M662.02 215.01V220.37M663.45 218.09V225.98M662.55 240.24V248.28M664.22 243.04V247.25M666.27 245.18V253.27M667.21 247.97V254.32M669.70 251.38V255.54M671.75 258.16V262.32M665.34 223.28V228.55M666.90 228.72V233.59M667.97 221.40V226.64M669.48 227.83V231.28M670.40 229.07V234.98M671.75 227.69V232.03M672.99 228.83V233.77M674.75 225.35V230.07M444.50 227.64V228.24M451.50 209.73V210.33M455.50 216.20V216.79M463.50 251.52V252.12M466.50 216.69V217.29M469.00 220.67V221.27M546.50 226.15V226.74M563.50 219.18V219.78M564.00 225.15V225.75M564.50 230.13V230.72M565.00 239.08V239.68M649.50 232.61V233.21"/><path class="pt" d="M444.26 217.56v6.2M446.04 219.28v6.2M447.19 217.74v6.2M448.43 218.78v6.2M449.36 219.47v6.2M450.78 219.32v6.2M452.22 219.76v6.2M453.51 219.70v6.2M454.46 219.02v6.2M455.78 216.47v6.2M457.52 218.61v6.2M458.72 217.63v6.2M456.55 226.62v6.2M457.66 227.14v6.2M459.12 232.26v6.2M460.88 235.10v6.2M462.29 240.06v6.2M463.22 237.82v6.2M465.52 227.28v6.2M467.01 225.70v6.2M468.29 227.20v6.2M469.46 227.80v6.2M471.32 226.35v6.2M472.29 228.45v6.2M471.21 235.48v6.2M472.95 237.70v6.2M474.76 239.15v6.2M474.31 221.62v6.2M475.60 223.46v6.2M476.89 221.14v6.2M478.12 221.98v6.2M479.35 227.08v6.2M477.32 212.48v6.2M478.61 212.41v6.2M480.25 212.24v6.2M481.17 211.16v6.2M482.77 210.38v6.2M483.95 211.94v6.2M485.28 211.22v6.2M486.14 209.75v6.2M487.35 209.68v6.2M488.65 212.35v6.2M489.82 210.64v6.2M491.11 211.61v6.2M492.43 210.27v6.2M489.42 198.37v6.2M490.73 201.70v6.2M492.09 195.47v6.2M493.79 195.61v6.2M495.36 195.60v6.2M496.23 198.59v6.2M495.48 210.01v6.2M496.42 212.17v6.2M497.89 217.23v6.2M499.00 209.19v6.2M500.42 209.47v6.2M501.59 214.94v6.2M502.52 212.29v6.2M503.74 210.40v6.2M504.97 214.63v6.2M505.99 211.07v6.2M507.02 208.12v6.2M508.79 208.53v6.2M509.71 196.18v6.2M510.91 191.82v6.2M512.28 192.75v6.2M511.62 203.72v6.2M512.88 208.14v6.2M513.61 208.32v6.2M515.22 208.75v6.2M516.51 209.03v6.2M517.13 205.62v6.2M518.52 208.61v6.2M519.61 211.08v6.2M521.17 211.29v6.2M522.36 209.04v6.2M523.42 208.22v6.2M524.66 210.55v6.2M524.65 205.45v6.2M525.60 207.56v6.2M527.00 205.89v6.2M528.51 208.08v6.2M529.84 208.53v6.2M531.01 210.07v6.2M532.08 204.05v6.2M533.29 207.23v6.2M528.49 211.05v6.2M530.24 216.09v6.2M531.14 213.02v6.2M532.66 212.61v6.2M534.23 214.87v6.2M535.87 215.82v6.2M537.48 214.20v6.2M538.92 210.16v6.2M539.90 217.32v6.2M541.46 218.79v6.2M542.88 212.69v6.2M544.51 215.65v6.2M546.20 217.65v6.2M547.66 221.63v6.2M544.69 209.75v6.2M545.66 207.14v6.2M547.09 207.26v6.2M548.72 206.50v6.2M549.58 205.48v6.2M551.20 210.17v6.2M552.26 208.05v6.2M553.76 211.79v6.2M555.45 209.21v6.2M556.40 210.05v6.2M558.12 205.60v6.2M558.89 208.58v6.2M560.24 209.32v6.2M561.60 208.17v6.2M563.42 204.64v6.2M564.31 204.26v6.2M566.41 210.46v6.2M568.10 211.20v6.2M568.96 209.75v6.2M570.62 213.59v6.2M571.71 214.37v6.2M572.94 213.94v6.2M574.32 214.11v6.2M575.34 203.27v6.2M576.93 202.17v6.2M578.20 203.59v6.2M579.34 200.19v6.2M577.20 219.90v6.2M578.83 219.91v6.2M580.01 223.77v6.2M581.47 221.50v6.2M583.12 221.02v6.2M584.17 221.38v6.2M585.27 222.73v6.2M582.78 228.98v6.2M583.71 229.86v6.2M585.35 233.85v6.2M586.35 227.26v6.2M587.80 228.79v6.2M589.10 234.28v6.2M590.62 236.60v6.2M590.54 234.15v6.2M591.76 232.44v6.2M593.30 233.99v6.2M594.22 232.63v6.2M595.72 236.08v6.2M596.54 233.18v6.2M598.10 232.89v6.2M599.63 233.07v6.2M600.89 237.65v6.2M602.16 231.09v6.2M603.39 236.15v6.2M604.31 229.96v6.2M605.60 233.05v6.2M607.19 235.91v6.2M608.53 236.39v6.2M609.45 229.28v6.2M607.54 213.96v6.2M608.95 220.23v6.2M609.71 213.57v6.2M611.01 216.94v6.2M612.21 215.27v6.2M613.64 220.03v6.2M615.20 214.23v6.2M616.10 212.70v6.2M617.78 217.06v6.2M614.61 223.92v6.2M616.00 227.47v6.2M617.15 233.03v6.2M618.40 231.46v6.2M619.85 229.96v6.2M621.43 228.79v6.2M622.20 229.68v6.2M623.84 222.20v6.2M624.88 233.42v6.2M626.65 222.50v6.2M624.56 227.75v6.2M625.61 227.63v6.2M627.35 226.05v6.2M628.71 228.98v6.2M629.96 225.14v6.2M631.25 221.94v6.2M632.54 221.33v6.2M634.09 222.35v6.2M634.93 222.35v6.2M636.40 221.68v6.2M637.92 230.43v6.2M639.00 231.93v6.2M640.47 224.31v6.2M640.38 221.43v6.2M641.55 218.61v6.2M643.16 221.41v6.2M644.07 219.14v6.2M645.29 217.22v6.2M646.73 220.28v6.2M647.93 220.60v6.2M649.42 221.41v6.2M650.68 214.26v6.2M652.07 217.41v6.2M653.18 214.36v6.2M654.53 217.58v6.2M654.45 222.64v6.2M655.50 217.39v6.2M657.30 212.46v6.2M658.54 219.76v6.2M659.63 214.66v6.2M661.20 218.07v6.2M662.02 214.59v6.2M663.45 218.94v6.2M662.55 241.16v6.2M664.22 242.04v6.2M666.27 246.12v6.2M667.21 248.04v6.2M669.70 250.36v6.2M671.75 257.14v6.2M665.34 222.82v6.2M666.90 228.05v6.2M667.97 220.92v6.2M669.48 226.45v6.2M670.40 228.92v6.2M671.75 226.76v6.2M672.99 228.20v6.2M674.75 224.61v6.2M444.50 224.84v6.2M451.50 206.93v6.2M455.50 213.40v6.2M463.50 248.72v6.2M466.50 213.89v6.2M469.00 217.87v6.2M546.50 223.34v6.2M563.50 216.38v6.2M564.00 222.35v6.2M564.50 227.32v6.2M565.00 236.28v6.2M649.50 229.81v6.2"/><path class="ph" d="M441.16 220.5h6.2M441.26 220.5h6.0M441.26 220.5h6.0M442.94 222.5h6.2M443.04 222.5h6.0M443.04 222.5h6.0M444.09 220.5h6.2M444.19 220.5h6.0M444.19 221.5h6.0M445.33 221.5h6.2M445.43 221.5h6.0M445.43 222.5h6.0M446.26 222.5h6.2M446.36 222.5h6.0M446.36 222.5h6.0M447.68 222.5h6.2M447.78 222.5h6.0M447.78 222.5h6.0M449.12 222.5h6.2M449.22 222.5h6.0M449.22 223.5h6.0M450.41 222.5h6.2M450.51 222.5h6.0M450.51 223.5h6.0M451.36 222.5h6.2M451.46 221.5h6.0M451.46 222.5h6.0M452.68 219.5h6.2M452.78 219.5h6.0M452.78 219.5h6.0M454.42 221.5h6.2M454.52 221.5h6.0M454.52 222.5h6.0M455.62 220.5h6.2M455.72 220.5h6.0M455.72 220.5h6.0M453.45 229.5h6.2M453.55 229.5h6.0M453.55 229.5h6.0M454.56 230.5h6.2M454.66 229.5h6.0M454.66 230.5h6.0M456.02 235.5h6.2M456.12 235.5h6.0M456.12 235.5h6.0M457.78 238.5h6.2M457.88 237.5h6.0M457.88 238.5h6.0M459.19 243.5h6.2M459.29 242.5h6.0M459.29 243.5h6.0M460.12 240.5h6.2M460.22 240.5h6.0M460.22 241.5h6.0M462.42 230.5h6.2M462.52 230.5h6.0M462.52 230.5h6.0M463.91 228.5h6.2M464.01 228.5h6.0M464.01 229.5h6.0M465.19 230.5h6.2M465.29 229.5h6.0M465.29 230.5h6.0M466.36 230.5h6.2M466.46 230.5h6.0M466.46 231.5h6.0M468.22 229.5h6.2M468.32 229.5h6.0M468.32 229.5h6.0M469.19 231.5h6.2M469.29 231.5h6.0M469.29 231.5h6.0M468.11 238.5h6.2M468.21 238.5h6.0M468.21 238.5h6.0M469.85 240.5h6.2M469.95 240.5h6.0M469.95 241.5h6.0M471.66 242.5h6.2M471.76 241.5h6.0M471.76 242.5h6.0M471.21 224.5h6.2M471.31 224.5h6.0M471.31 225.5h6.0M472.50 226.5h6.2M472.60 226.5h6.0M472.60 226.5h6.0M473.79 224.5h6.2M473.89 223.5h6.0M473.89 224.5h6.0M475.02 225.5h6.2M475.12 224.5h6.0M475.12 225.5h6.0M476.25 230.5h6.2M476.35 229.5h6.0M476.35 230.5h6.0M474.22 215.5h6.2M474.32 215.5h6.0M474.32 215.5h6.0M475.51 215.5h6.2M475.61 215.5h6.0M475.61 215.5h6.0M477.15 215.5h6.2M477.25 214.5h6.0M477.25 215.5h6.0M478.07 214.5h6.2M478.17 213.5h6.0M478.17 214.5h6.0M479.67 213.5h6.2M479.77 213.5h6.0M479.77 213.5h6.0M480.85 215.5h6.2M480.95 214.5h6.0M480.95 215.5h6.0M482.18 214.5h6.2M482.28 213.5h6.0M482.28 214.5h6.0M483.04 212.5h6.2M483.14 212.5h6.0M483.14 213.5h6.0M484.25 212.5h6.2M484.35 212.5h6.0M484.35 213.5h6.0M485.55 215.5h6.2M485.65 215.5h6.0M485.65 215.5h6.0M486.72 213.5h6.2M486.82 213.5h6.0M486.82 213.5h6.0M488.01 214.5h6.2M488.11 214.5h6.0M488.11 215.5h6.0M489.33 213.5h6.2M489.43 213.5h6.0M489.43 213.5h6.0M486.32 201.5h6.2M486.42 201.5h6.0M486.42 201.5h6.0M487.63 204.5h6.2M487.73 204.5h6.0M487.73 205.5h6.0M488.99 198.5h6.2M489.09 198.5h6.0M489.09 198.5h6.0M490.69 198.5h6.2M490.79 198.5h6.0M490.79 198.5h6.0M492.26 198.5h6.2M492.36 198.5h6.0M492.36 199.5h6.0M493.13 201.5h6.2M493.23 201.5h6.0M493.23 201.5h6.0M492.38 213.5h6.2M492.48 212.5h6.0M492.48 213.5h6.0M493.32 215.5h6.2M493.42 214.5h6.0M493.42 215.5h6.0M494.79 220.5h6.2M494.89 219.5h6.0M494.89 220.5h6.0M495.90 212.5h6.2M496.00 211.5h6.0M496.00 212.5h6.0M497.32 212.5h6.2M497.42 212.5h6.0M497.42 212.5h6.0M498.49 218.5h6.2M498.59 217.5h6.0M498.59 218.5h6.0M499.42 215.5h6.2M499.52 215.5h6.0M499.52 215.5h6.0M500.64 213.5h6.2M500.74 213.5h6.0M500.74 213.5h6.0M501.87 217.5h6.2M501.97 217.5h6.0M501.97 218.5h6.0M502.89 214.5h6.2M502.99 213.5h6.0M502.99 214.5h6.0M503.92 211.5h6.2M504.02 210.5h6.0M504.02 211.5h6.0M505.69 211.5h6.2M505.79 211.5h6.0M505.79 212.5h6.0M506.61 199.5h6.2M506.71 198.5h6.0M506.71 199.5h6.0M507.81 194.5h6.2M507.91 194.5h6.0M507.91 195.5h6.0M509.18 195.5h6.2M509.28 195.5h6.0M509.28 196.5h6.0M508.52 206.5h6.2M508.62 206.5h6.0M508.62 207.5h6.0M509.78 211.5h6.2M509.88 210.5h6.0M509.88 211.5h6.0M510.51 211.5h6.2M510.61 211.5h6.0M510.61 211.5h6.0M512.12 211.5h6.2M512.22 211.5h6.0M512.22 212.5h6.0M513.41 212.5h6.2M513.51 211.5h6.0M513.51 212.5h6.0M514.03 208.5h6.2M514.13 208.5h6.0M514.13 209.5h6.0M515.42 211.5h6.2M515.52 211.5h6.0M515.52 211.5h6.0M516.51 214.5h6.2M516.61 213.5h6.0M516.61 214.5h6.0M518.07 214.5h6.2M518.17 214.5h6.0M518.17 214.5h6.0M519.26 212.5h6.2M519.36 211.5h6.0M519.36 212.5h6.0M520.32 211.5h6.2M520.42 210.5h6.0M520.42 211.5h6.0M521.56 213.5h6.2M521.66 213.5h6.0M521.66 213.5h6.0M521.55 208.5h6.2M521.65 208.5h6.0M521.65 208.5h6.0M522.50 210.5h6.2M522.60 210.5h6.0M522.60 211.5h6.0M523.90 208.5h6.2M524.00 208.5h6.0M524.00 209.5h6.0M525.41 211.5h6.2M525.51 210.5h6.0M525.51 211.5h6.0M526.74 211.5h6.2M526.84 211.5h6.0M526.84 211.5h6.0M527.91 213.5h6.2M528.01 212.5h6.0M528.01 213.5h6.0M528.98 207.5h6.2M529.08 206.5h6.0M529.08 207.5h6.0M530.19 210.5h6.2M530.29 209.5h6.0M530.29 210.5h6.0M525.39 214.5h6.2M525.49 213.5h6.0M525.49 214.5h6.0M527.14 219.5h6.2M527.24 218.5h6.0M527.24 219.5h6.0M528.04 216.5h6.2M528.14 215.5h6.0M528.14 216.5h6.0M529.56 215.5h6.2M529.66 215.5h6.0M529.66 216.5h6.0M531.13 217.5h6.2M531.23 217.5h6.0M531.23 218.5h6.0M532.77 218.5h6.2M532.87 218.5h6.0M532.87 219.5h6.0M534.38 217.5h6.2M534.48 217.5h6.0M534.48 217.5h6.0M535.82 213.5h6.2M535.92 212.5h6.0M535.92 213.5h6.0M536.80 220.5h6.2M536.90 220.5h6.0M536.90 220.5h6.0M538.36 221.5h6.2M538.46 221.5h6.0M538.46 222.5h6.0M539.78 215.5h6.2M539.88 215.5h6.0M539.88 216.5h6.0M541.41 218.5h6.2M541.51 218.5h6.0M541.51 218.5h6.0M543.10 220.5h6.2M543.20 220.5h6.0M543.20 221.5h6.0M544.56 224.5h6.2M544.66 224.5h6.0M544.66 225.5h6.0M541.59 212.5h6.2M541.69 212.5h6.0M541.69 213.5h6.0M542.56 210.5h6.2M542.66 209.5h6.0M542.66 210.5h6.0M543.99 210.5h6.2M544.09 210.5h6.0M544.09 210.5h6.0M545.62 209.5h6.2M545.72 209.5h6.0M545.72 209.5h6.0M546.48 208.5h6.2M546.58 208.5h6.0M546.58 208.5h6.0M548.10 213.5h6.2M548.20 212.5h6.0M548.20 213.5h6.0M549.16 211.5h6.2M549.26 210.5h6.0M549.26 211.5h6.0M550.66 214.5h6.2M550.76 214.5h6.0M550.76 215.5h6.0M552.35 212.5h6.2M552.45 211.5h6.0M552.45 212.5h6.0M553.30 213.5h6.2M553.40 212.5h6.0M553.40 213.5h6.0M555.02 208.5h6.2M555.12 208.5h6.0M555.12 209.5h6.0M555.79 211.5h6.2M555.89 211.5h6.0M555.89 211.5h6.0M557.14 212.5h6.2M557.24 212.5h6.0M557.24 212.5h6.0M558.50 211.5h6.2M558.60 210.5h6.0M558.60 211.5h6.0M560.32 207.5h6.2M560.42 207.5h6.0M560.42 208.5h6.0M561.21 207.5h6.2M561.31 207.5h6.0M561.31 207.5h6.0M563.31 213.5h6.2M563.41 213.5h6.0M563.41 213.5h6.0M565.00 214.5h6.2M565.10 213.5h6.0M565.10 214.5h6.0M565.86 212.5h6.2M565.96 212.5h6.0M565.96 213.5h6.0M567.52 216.5h6.2M567.62 216.5h6.0M567.62 216.5h6.0M568.61 217.5h6.2M568.71 217.5h6.0M568.71 217.5h6.0M569.84 217.5h6.2M569.94 216.5h6.0M569.94 217.5h6.0M571.22 217.5h6.2M571.32 216.5h6.0M571.32 217.5h6.0M572.24 206.5h6.2M572.34 206.5h6.0M572.34 206.5h6.0M573.83 205.5h6.2M573.93 204.5h6.0M573.93 205.5h6.0M575.10 206.5h6.2M575.20 206.5h6.0M575.20 207.5h6.0M576.24 203.5h6.2M576.34 202.5h6.0M576.34 203.5h6.0M574.10 222.5h6.2M574.20 222.5h6.0M574.20 223.5h6.0M575.73 223.5h6.2M575.83 222.5h6.0M575.83 223.5h6.0M576.91 226.5h6.2M577.01 226.5h6.0M577.01 227.5h6.0M578.37 224.5h6.2M578.47 224.5h6.0M578.47 224.5h6.0M580.02 224.5h6.2M580.12 223.5h6.0M580.12 224.5h6.0M581.07 224.5h6.2M581.17 224.5h6.0M581.17 224.5h6.0M582.17 225.5h6.2M582.27 225.5h6.0M582.27 226.5h6.0M579.68 232.5h6.2M579.78 231.5h6.0M579.78 232.5h6.0M580.61 232.5h6.2M580.71 232.5h6.0M580.71 233.5h6.0M582.25 236.5h6.2M582.35 236.5h6.0M582.35 237.5h6.0M583.25 230.5h6.2M583.35 230.5h6.0M583.35 230.5h6.0M584.70 231.5h6.2M584.80 231.5h6.0M584.80 232.5h6.0M586.00 237.5h6.2M586.10 237.5h6.0M586.10 237.5h6.0M587.52 239.5h6.2M587.62 239.5h6.0M587.62 239.5h6.0M587.44 237.5h6.2M587.54 236.5h6.0M587.54 237.5h6.0M588.66 235.5h6.2M588.76 235.5h6.0M588.76 235.5h6.0M590.20 237.5h6.2M590.30 236.5h6.0M590.30 237.5h6.0M591.12 235.5h6.2M591.22 235.5h6.0M591.22 236.5h6.0M592.62 239.5h6.2M592.72 238.5h6.0M592.72 239.5h6.0M593.44 236.5h6.2M593.54 236.5h6.0M593.54 236.5h6.0M595.00 235.5h6.2M595.10 235.5h6.0M595.10 236.5h6.0M596.53 236.5h6.2M596.63 235.5h6.0M596.63 236.5h6.0M597.79 240.5h6.2M597.89 240.5h6.0M597.89 241.5h6.0M599.06 234.5h6.2M599.16 233.5h6.0M599.16 234.5h6.0M600.29 239.5h6.2M600.39 239.5h6.0M600.39 239.5h6.0M601.21 233.5h6.2M601.31 232.5h6.0M601.31 233.5h6.0M602.50 236.5h6.2M602.60 235.5h6.0M602.60 236.5h6.0M604.09 239.5h6.2M604.19 238.5h6.0M604.19 239.5h6.0M605.43 239.5h6.2M605.53 239.5h6.0M605.53 239.5h6.0M606.35 232.5h6.2M606.45 232.5h6.0M606.45 232.5h6.0M604.44 217.5h6.2M604.54 216.5h6.0M604.54 217.5h6.0M605.85 223.5h6.2M605.95 223.5h6.0M605.95 223.5h6.0M606.61 216.5h6.2M606.71 216.5h6.0M606.71 216.5h6.0M607.91 220.5h6.2M608.01 219.5h6.0M608.01 220.5h6.0M609.11 218.5h6.2M609.21 218.5h6.0M609.21 218.5h6.0M610.54 223.5h6.2M610.64 222.5h6.0M610.64 223.5h6.0M612.10 217.5h6.2M612.20 217.5h6.0M612.20 217.5h6.0M613.00 215.5h6.2M613.10 215.5h6.0M613.10 216.5h6.0M614.68 220.5h6.2M614.78 219.5h6.0M614.78 220.5h6.0M611.51 227.5h6.2M611.61 226.5h6.0M611.61 227.5h6.0M612.90 230.5h6.2M613.00 230.5h6.0M613.00 230.5h6.0M614.05 236.5h6.2M614.15 235.5h6.0M614.15 236.5h6.0M615.30 234.5h6.2M615.40 234.5h6.0M615.40 234.5h6.0M616.75 233.5h6.2M616.85 232.5h6.0M616.85 233.5h6.0M618.33 231.5h6.2M618.43 231.5h6.0M618.43 232.5h6.0M619.10 232.5h6.2M619.20 232.5h6.0M619.20 233.5h6.0M620.74 225.5h6.2M620.84 225.5h6.0M620.84 225.5h6.0M621.78 236.5h6.2M621.88 236.5h6.0M621.88 236.5h6.0M623.55 225.5h6.2M623.65 225.5h6.0M623.65 225.5h6.0M621.46 230.5h6.2M621.56 229.5h6.0M621.56 232.5h6.0M622.51 230.5h6.2M622.61 229.5h6.0M622.61 232.5h6.0M624.25 229.5h6.2M624.35 227.5h6.0M624.35 230.5h6.0M625.61 232.5h6.2M625.71 229.5h6.0M625.71 234.5h6.0M626.86 228.5h6.2M626.96 226.5h6.0M626.96 230.5h6.0M628.15 225.5h6.2M628.25 222.5h6.0M628.25 227.5h6.0M629.44 224.5h6.2M629.54 222.5h6.0M629.54 226.5h6.0M630.99 225.5h6.2M631.09 223.5h6.0M631.09 227.5h6.0M631.83 225.5h6.2M631.93 223.5h6.0M631.93 227.5h6.0M633.30 224.5h6.2M633.40 223.5h6.0M633.40 226.5h6.0M634.82 233.5h6.2M634.92 230.5h6.0M634.92 236.5h6.0M635.90 235.5h6.2M636.00 233.5h6.0M636.00 237.5h6.0M637.37 227.5h6.2M637.47 225.5h6.0M637.47 229.5h6.0M637.28 224.5h6.2M637.38 222.5h6.0M637.38 226.5h6.0M638.45 221.5h6.2M638.55 219.5h6.0M638.55 224.5h6.0M640.06 224.5h6.2M640.16 222.5h6.0M640.16 226.5h6.0M640.97 222.5h6.2M641.07 219.5h6.0M641.07 224.5h6.0M642.19 220.5h6.2M642.29 217.5h6.0M642.29 222.5h6.0M643.63 223.5h6.2M643.73 221.5h6.0M643.73 225.5h6.0M644.83 223.5h6.2M644.93 221.5h6.0M644.93 225.5h6.0M646.32 224.5h6.2M646.42 222.5h6.0M646.42 226.5h6.0M647.58 217.5h6.2M647.68 215.5h6.0M647.68 218.5h6.0M648.97 220.5h6.2M649.07 218.5h6.0M649.07 222.5h6.0M650.08 217.5h6.2M650.18 216.5h6.0M650.18 218.5h6.0M651.43 220.5h6.2M651.53 219.5h6.0M651.53 222.5h6.0M651.35 225.5h6.2M651.45 222.5h6.0M651.45 228.5h6.0M652.40 220.5h6.2M652.50 216.5h6.0M652.50 224.5h6.0M654.20 215.5h6.2M654.30 212.5h6.0M654.30 218.5h6.0M655.44 222.5h6.2M655.54 218.5h6.0M655.54 226.5h6.0M656.53 217.5h6.2M656.63 214.5h6.0M656.63 220.5h6.0M658.10 221.5h6.2M658.20 216.5h6.0M658.20 225.5h6.0M658.92 217.5h6.2M659.02 215.5h6.0M659.02 220.5h6.0M660.35 222.5h6.2M660.45 218.5h6.0M660.45 225.5h6.0M659.45 244.5h6.2M659.55 240.5h6.0M659.55 248.5h6.0M661.12 245.5h6.2M661.22 243.5h6.0M661.22 247.5h6.0M663.17 249.5h6.2M663.27 245.5h6.0M663.27 253.5h6.0M664.11 251.5h6.2M664.21 247.5h6.0M664.21 254.5h6.0M666.60 253.5h6.2M666.70 251.5h6.0M666.70 255.5h6.0M668.65 260.5h6.2M668.75 258.5h6.0M668.75 262.5h6.0M662.24 225.5h6.2M662.34 223.5h6.0M662.34 228.5h6.0M663.80 231.5h6.2M663.90 228.5h6.0M663.90 233.5h6.0M664.87 224.5h6.2M664.97 221.5h6.0M664.97 226.5h6.0M666.38 229.5h6.2M666.48 227.5h6.0M666.48 231.5h6.0M667.30 232.5h6.2M667.40 229.5h6.0M667.40 234.5h6.0M668.65 229.5h6.2M668.75 227.5h6.0M668.75 232.5h6.0M669.89 231.5h6.2M669.99 228.5h6.0M669.99 233.5h6.0M671.65 227.5h6.2M671.75 225.5h6.0M671.75 230.5h6.0M441.40 227.5h6.2M441.50 227.5h6.0M441.50 228.5h6.0M448.40 210.5h6.2M448.50 209.5h6.0M448.50 210.5h6.0M452.40 216.5h6.2M452.50 216.5h6.0M452.50 216.5h6.0M460.40 251.5h6.2M460.50 251.5h6.0M460.50 252.5h6.0M463.40 216.5h6.2M463.50 216.5h6.0M463.50 217.5h6.0M465.90 220.5h6.2M466.00 220.5h6.0M466.00 221.5h6.0M543.40 226.5h6.2M543.50 226.5h6.0M543.50 226.5h6.0M560.40 219.5h6.2M560.50 219.5h6.0M560.50 219.5h6.0M560.90 225.5h6.2M561.00 225.5h6.0M561.00 225.5h6.0M561.40 230.5h6.2M561.50 230.5h6.0M561.50 230.5h6.0M561.90 239.5h6.2M562.00 239.5h6.0M562.00 239.5h6.0M646.40 232.5h6.2M646.50 232.5h6.0M646.50 233.5h6.0"/>
</g>
<path class="tk" d="M424.5 275.2v-6M424.5 175.7v6M474.5 275.2v-6M474.5 175.7v6M524.5 275.2v-6M524.5 175.7v6M574.5 275.2v-6M574.5 175.7v6M624.5 275.2v-6M624.5 175.7v6M674.5 275.2v-6M674.5 175.7v6M424.5 275.2h6M674.5 275.2h-6M424.5 250.32h6M674.5 250.32h-6M424.5 225.45h6M674.5 225.45h-6M424.5 200.57h6M674.5 200.57h-6M424.5 175.7h6M674.5 175.7h-6"/>
<rect class="fr" x="424.5" y="175.7" width="250" height="99.5"/>
<text x="426.5" y="296.8" text-anchor="middle">0</text>
<text x="476.5" y="296.8" text-anchor="middle">5</text>
<text x="526.5" y="296.8" text-anchor="middle">10</text>
<text x="576.5" y="296.8" text-anchor="middle">15</text>
<text x="626.5" y="296.8" text-anchor="middle">20</text>
<text x="676.5" y="296.8" text-anchor="middle">25</text>
<text x="415.2" y="281.3" text-anchor="end">-1</text>
<text x="415.2" y="256.43" text-anchor="end">-0.5</text>
<text x="415.2" y="231.55" text-anchor="end">0</text>
<text x="415.2" y="206.67" text-anchor="end">0.5</text>
<text x="415.2" y="181.8" text-anchor="end">1</text>
<text x="549.5" y="320.2" text-anchor="middle">Frequency [Hz]</text>
<text transform="translate(367.8,225.45) rotate(-90)" text-anchor="middle">Y1</text>
<clipPath id="c0X2"><rect x="64.5" y="337.5" width="258.0" height="107.5"/></clipPath>
<path class="gr" d="M118.5 342.2V441M168.5 342.2V441M218.5 342.2V441M268.5 342.2V441M69.2 416.12H318.5M69.2 391.25H318.5M69.2 366.38H318.5"/>
<g clip-path="url(#c0X2)">
<path class="eb" stroke-opacity="0.7" d="M93.50 378.10V410.85M94.50 375.22V407.70M95.50 375.85V408.21M109.50 376.07V409.38M114.50 374.41V409.34M115.50 374.85V407.66M119.50 375.85V407.66M121.50 376.25V408.20M122.50 374.94V409.49M126.50 374.03V407.37M129.50 374.01V408.58M139.50 375.49V410.23M140.50 373.38V406.17M145.50 373.00V405.66M146.50 374.79V408.85M147.50 373.64V406.40M151.50 373.69V406.43M154.50 374.71V407.98M155.50 375.11V409.89M157.50 372.99V407.34M158.50 373.16V407.71M159.50 373.10V406.99M164.50 376.30V408.40M165.50 374.42V408.50M174.50 373.64V408.03M178.50 374.51V407.55M179.50 374.98V408.02M183.50 374.26V407.94M192.50 376.49V409.43M200.50 374.22V408.12M202.50 374.30V408.93M205.50 373.48V405.45M206.50 373.86V406.36M207.50 375.45V409.05M209.50 375.32V407.72M213.50 375.34V409.08M217.50 373.05V407.37M223.50 375.98V407.78M224.50 375.58V408.04M226.50 375.15V407.36M227.50 373.90V406.28M239.50 374.75V408.65M241.50 374.36V408.96M252.50 371.78V406.78M257.50 374.40V407.76M266.50 375.22V407.15M267.50 376.81V409.32M274.50 375.34V407.48M276.50 374.39V407.25M277.50 375.31V407.52M284.50 375.17V407.91M286.50 373.90V407.45M288.50 377.71V411.61M290.50 373.87V407.88M293.50 374.96V409.50M302.50 372.56V406.41M303.50 387.04V401.85M304.50 378.08V398.25M313.50 378.17V402.71M316.50 375.47V408.79M317.50 373.84V406.91M316.50 364.22V374.93M311.50 361.95V396.07"/><path class="eb" stroke-opacity="0.85" d="M90.50 373.72V408.41M91.50 374.27V408.26M92.50 372.47V404.87M96.50 372.78V407.18M101.50 374.64V407.47M102.50 376.40V410.26M104.50 372.47V405.77M105.50 376.24V411.17M106.50 374.63V406.79M108.50 375.55V408.11M110.50 374.92V406.88M112.50 376.35V409.88M116.50 373.92V408.42M117.50 374.05V406.74M124.50 375.45V407.14M125.50 374.70V409.44M127.50 374.82V408.08M131.50 374.89V408.55M132.50 375.60V407.44M134.50 375.52V408.42M138.50 373.10V407.84M142.50 375.58V408.02M143.50 373.78V408.85M150.50 372.98V406.58M152.50 374.89V406.79M156.50 376.85V408.41M161.50 375.42V408.28M163.50 374.01V405.97M168.50 375.53V408.04M169.50 376.11V408.12M171.50 370.22V405.05M173.50 375.97V409.82M175.50 372.75V406.88M177.50 375.65V407.76M181.50 375.25V408.59M182.50 375.76V408.98M184.50 374.77V409.63M186.50 375.39V407.02M187.50 372.47V405.20M188.50 373.79V407.73M189.50 374.06V409.16M190.50 376.27V407.92M191.50 375.39V408.54M193.50 373.64V408.07M194.50 375.29V409.55M197.50 374.05V409.08M201.50 375.41V409.45M204.50 372.97V407.74M212.50 374.45V407.53M214.50 374.03V407.26M215.50 375.78V409.57M216.50 375.41V410.06M218.50 374.15V409.20M219.50 373.92V406.82M221.50 375.46V407.81M222.50 374.64V408.53M225.50 376.50V408.89M232.50 373.97V408.06M233.50 376.10V409.87M234.50 374.00V408.29M235.50 375.35V407.69M238.50 375.57V408.41M240.50 374.58V406.15M242.50 372.89V406.71M243.50 375.97V409.01M244.50 372.64V405.75M248.50 374.82V407.07M251.50 375.25V408.04M253.50 376.00V407.72M254.50 374.99V408.63M255.50 374.06V408.45M258.50 374.76V408.88M259.50 373.25V408.31M263.50 375.14V407.34M265.50 374.69V409.47M269.50 372.72V405.86M270.50 374.33V408.14M271.50 375.36V409.14M278.50 373.82V406.91M279.50 374.27V406.29M281.50 374.15V408.00M287.50 374.94V409.08M289.50 373.55V407.23M291.50 381.28V405.42M294.50 379.23V398.76M295.50 373.58V408.37M301.50 375.69V409.83M306.50 372.94V399.96M307.50 373.57V406.76M308.50 376.58V410.66M309.50 375.45V408.38M310.50 382.72V396.37M315.50 378.34V391.89M318.50 374.62V409.57M88.50 369.86V407.67M293.50 342.50V368.37M293.00 366.38V386.27M300.50 355.62V376.38M292.50 371.35V401.20M306.50 385.51V409.26"/><path class="eb" stroke-opacity="1.0" d="M88.50 374.01V408.19M89.50 375.23V407.34M97.50 376.66V409.00M98.50 374.00V406.37M99.50 375.21V408.38M100.50 374.82V408.39M103.50 375.73V408.72M107.50 373.73V408.64M111.50 375.69V407.40M113.50 374.39V407.37M118.50 373.94V407.07M120.50 373.15V406.39M123.50 373.77V408.64M128.50 375.08V406.84M130.50 375.09V409.42M133.50 376.18V407.75M135.50 373.61V406.40M136.50 375.56V409.23M137.50 375.98V408.63M141.50 374.64V407.58M144.50 375.32V409.32M148.50 373.37V407.99M149.50 373.95V408.10M153.50 375.19V407.96M160.50 375.24V409.47M162.50 374.42V407.82M166.50 373.77V408.41M167.50 374.60V409.68M170.50 375.90V407.66M172.50 375.87V407.77M176.50 377.09V409.45M180.50 373.77V407.35M185.50 373.30V408.34M195.50 374.39V406.53M196.50 373.58V406.84M198.50 376.18V408.49M199.50 375.61V407.94M203.50 375.47V408.63M208.50 373.79V407.70M210.50 372.26V407.36M211.50 372.34V406.23M220.50 375.47V407.49M228.50 374.41V406.53M229.50 376.75V410.15M230.50 375.79V409.34M231.50 376.57V410.01M236.50 375.15V408.55M237.50 373.63V407.29M245.50 374.37V406.35M246.50 374.99V407.93M247.50 374.61V408.31M249.50 375.75V408.52M250.50 375.04V407.08M256.50 375.77V409.75M260.50 371.75V406.33M261.50 374.76V408.65M262.50 374.55V408.96M264.50 373.19V405.75M268.50 373.71V406.13M272.50 375.94V409.87M273.50 372.59V406.78M275.50 375.22V410.03M280.50 376.76V408.79M282.50 374.71V409.83M283.50 375.48V410.18M285.50 374.88V407.03M292.50 382.03V403.20M296.50 376.88V391.79M297.50 373.18V408.30M298.50 374.74V407.56M299.50 375.02V406.71M300.50 385.90V400.28M305.50 372.71V405.97M311.50 375.54V408.85M312.50 375.09V407.95M314.50 375.93V407.72M303.50 353.94V383.79"/><path class="pt" d="M88.50 388.00v6.2M89.50 388.18v6.2M90.50 387.97v6.2M91.50 388.17v6.2M92.50 385.57v6.2M93.50 391.37v6.2M94.50 388.36v6.2M95.50 388.93v6.2M96.50 386.88v6.2M97.50 389.73v6.2M98.50 387.09v6.2M99.50 388.69v6.2M100.50 388.50v6.2M101.50 387.96v6.2M102.50 390.23v6.2M103.50 389.12v6.2M104.50 386.02v6.2M105.50 390.61v6.2M106.50 387.61v6.2M107.50 388.09v6.2M108.50 388.73v6.2M109.50 389.63v6.2M110.50 387.80v6.2M111.50 388.45v6.2M112.50 390.02v6.2M113.50 387.78v6.2M114.50 388.78v6.2M115.50 388.16v6.2M116.50 388.07v6.2M117.50 387.29v6.2M118.50 387.41v6.2M119.50 388.66v6.2M120.50 386.67v6.2M121.50 389.12v6.2M122.50 389.12v6.2M123.50 388.10v6.2M124.50 388.20v6.2M125.50 388.97v6.2M126.50 387.60v6.2M127.50 388.35v6.2M128.50 387.86v6.2M129.50 388.19v6.2M130.50 389.15v6.2M131.50 388.62v6.2M132.50 388.42v6.2M133.50 388.87v6.2M134.50 388.87v6.2M135.50 386.90v6.2M136.50 389.29v6.2M137.50 389.20v6.2M138.50 387.37v6.2M139.50 389.76v6.2M140.50 386.68v6.2M141.50 388.01v6.2M142.50 388.70v6.2M143.50 388.21v6.2M144.50 389.22v6.2M145.50 386.23v6.2M146.50 388.72v6.2M147.50 386.92v6.2M148.50 387.58v6.2M149.50 387.93v6.2M150.50 386.68v6.2M151.50 386.96v6.2M152.50 387.74v6.2M153.50 388.47v6.2M154.50 388.25v6.2M155.50 389.40v6.2M156.50 389.53v6.2M157.50 387.07v6.2M158.50 387.34v6.2M159.50 386.95v6.2M160.50 389.26v6.2M161.50 388.75v6.2M162.50 388.02v6.2M163.50 386.89v6.2M164.50 389.25v6.2M165.50 388.36v6.2M166.50 387.99v6.2M167.50 389.04v6.2M168.50 388.68v6.2M169.50 389.02v6.2M170.50 388.68v6.2M171.50 384.53v6.2M172.50 388.72v6.2M173.50 389.80v6.2M174.50 387.73v6.2M175.50 386.71v6.2M176.50 390.17v6.2M177.50 388.60v6.2M178.50 387.93v6.2M179.50 388.40v6.2M180.50 387.46v6.2M181.50 388.82v6.2M182.50 389.27v6.2M183.50 388.00v6.2M184.50 389.10v6.2M185.50 387.72v6.2M186.50 388.11v6.2M187.50 385.74v6.2M188.50 387.66v6.2M189.50 388.51v6.2M190.50 388.99v6.2M191.50 388.86v6.2M192.50 389.86v6.2M193.50 387.76v6.2M194.50 389.32v6.2M195.50 387.36v6.2M196.50 387.11v6.2M197.50 388.46v6.2M198.50 389.24v6.2M199.50 388.67v6.2M200.50 388.07v6.2M201.50 389.33v6.2M202.50 388.51v6.2M203.50 388.95v6.2M204.50 387.25v6.2M205.50 386.36v6.2M206.50 387.01v6.2M207.50 389.15v6.2M208.50 387.65v6.2M209.50 388.42v6.2M210.50 386.71v6.2M211.50 386.18v6.2M212.50 387.89v6.2M213.50 389.11v6.2M214.50 387.55v6.2M215.50 389.57v6.2M216.50 389.64v6.2M217.50 387.11v6.2M218.50 388.57v6.2M219.50 387.27v6.2M220.50 388.38v6.2M221.50 388.54v6.2M222.50 388.48v6.2M223.50 388.78v6.2M224.50 388.71v6.2M225.50 389.59v6.2M226.50 388.16v6.2M227.50 386.99v6.2M228.50 387.37v6.2M229.50 390.35v6.2M230.50 389.47v6.2M231.50 390.19v6.2M232.50 387.91v6.2M233.50 389.89v6.2M234.50 388.04v6.2M235.50 388.42v6.2M236.50 388.75v6.2M237.50 387.36v6.2M238.50 388.89v6.2M239.50 388.60v6.2M240.50 387.26v6.2M241.50 388.56v6.2M242.50 386.70v6.2M243.50 389.39v6.2M244.50 386.10v6.2M245.50 387.26v6.2M246.50 388.36v6.2M247.50 388.36v6.2M248.50 387.84v6.2M249.50 389.04v6.2M250.50 387.96v6.2M251.50 388.54v6.2M252.50 386.18v6.2M253.50 388.76v6.2M254.50 388.71v6.2M255.50 388.15v6.2M256.50 389.66v6.2M257.50 387.98v6.2M258.50 388.72v6.2M259.50 387.68v6.2M260.50 385.94v6.2M261.50 388.60v6.2M262.50 388.65v6.2M263.50 388.14v6.2M264.50 386.37v6.2M265.50 388.98v6.2M266.50 388.08v6.2M267.50 389.97v6.2M268.50 386.82v6.2M269.50 386.19v6.2M270.50 388.14v6.2M271.50 389.15v6.2M272.50 389.81v6.2M273.50 386.59v6.2M274.50 388.31v6.2M275.50 389.52v6.2M276.50 387.72v6.2M277.50 388.31v6.2M278.50 387.27v6.2M279.50 387.18v6.2M280.50 389.67v6.2M281.50 387.98v6.2M282.50 389.17v6.2M283.50 389.73v6.2M284.50 388.44v6.2M285.50 387.86v6.2M286.50 387.58v6.2M287.50 388.91v6.2M288.50 391.56v6.2M289.50 387.29v6.2M290.50 387.78v6.2M291.50 390.25v6.2M292.50 389.52v6.2M293.50 389.13v6.2M294.50 385.90v6.2M295.50 387.87v6.2M296.50 381.23v6.2M297.50 387.64v6.2M298.50 388.05v6.2M299.50 387.77v6.2M300.50 389.99v6.2M301.50 389.66v6.2M302.50 386.39v6.2M303.50 391.35v6.2M304.50 385.06v6.2M305.50 386.24v6.2M306.50 383.35v6.2M307.50 387.06v6.2M308.50 390.52v6.2M309.50 388.82v6.2M310.50 386.45v6.2M311.50 389.09v6.2M312.50 388.42v6.2M313.50 387.34v6.2M314.50 388.73v6.2M315.50 382.01v6.2M316.50 389.03v6.2M317.50 387.27v6.2M318.50 388.99v6.2M88.50 385.66v6.2M293.50 352.33v6.2M293.00 373.22v6.2M300.50 362.90v6.2M303.50 365.76v6.2M316.50 366.47v6.2M292.50 383.17v6.2M306.50 394.29v6.2M311.50 375.91v6.2"/><path class="ph" style="stroke-width:0.6" d="M85.40 391.1h6.2M85.50 374.0h6.0M85.50 408.2h6.0M86.40 391.3h6.2M86.50 375.2h6.0M86.50 407.3h6.0M87.40 391.1h6.2M87.50 373.7h6.0M87.50 408.4h6.0M88.40 391.3h6.2M88.50 374.3h6.0M88.50 408.3h6.0M89.40 388.7h6.2M89.50 372.5h6.0M89.50 404.9h6.0M90.40 394.5h6.2M90.50 378.1h6.0M90.50 410.8h6.0M91.40 391.5h6.2M91.50 375.2h6.0M91.50 407.7h6.0M92.40 392.0h6.2M92.50 375.8h6.0M92.50 408.2h6.0M93.40 390.0h6.2M93.50 372.8h6.0M93.50 407.2h6.0M94.40 392.8h6.2M94.50 376.7h6.0M94.50 409.0h6.0M95.40 390.2h6.2M95.50 374.0h6.0M95.50 406.4h6.0M96.40 391.8h6.2M96.50 375.2h6.0M96.50 408.4h6.0M97.40 391.6h6.2M97.50 374.8h6.0M97.50 408.4h6.0M98.40 391.1h6.2M98.50 374.6h6.0M98.50 407.5h6.0M99.40 393.3h6.2M99.50 376.4h6.0M99.50 410.3h6.0M100.40 392.2h6.2M100.50 375.7h6.0M100.50 408.7h6.0M101.40 389.1h6.2M101.50 372.5h6.0M101.50 405.8h6.0M102.40 393.7h6.2M102.50 376.2h6.0M102.50 411.2h6.0M103.40 390.7h6.2M103.50 374.6h6.0M103.50 406.8h6.0M104.40 391.2h6.2M104.50 373.7h6.0M104.50 408.6h6.0M105.40 391.8h6.2M105.50 375.5h6.0M105.50 408.1h6.0M106.40 392.7h6.2M106.50 376.1h6.0M106.50 409.4h6.0M107.40 390.9h6.2M107.50 374.9h6.0M107.50 406.9h6.0M108.40 391.5h6.2M108.50 375.7h6.0M108.50 407.4h6.0M109.40 393.1h6.2M109.50 376.4h6.0M109.50 409.9h6.0M110.40 390.9h6.2M110.50 374.4h6.0M110.50 407.4h6.0M111.40 391.9h6.2M111.50 374.4h6.0M111.50 409.3h6.0M112.40 391.3h6.2M112.50 374.9h6.0M112.50 407.7h6.0M113.40 391.2h6.2M113.50 373.9h6.0M113.50 408.4h6.0M114.40 390.4h6.2M114.50 374.1h6.0M114.50 406.7h6.0M115.40 390.5h6.2M115.50 373.9h6.0M115.50 407.1h6.0M116.40 391.8h6.2M116.50 375.9h6.0M116.50 407.7h6.0M117.40 389.8h6.2M117.50 373.1h6.0M117.50 406.4h6.0M118.40 392.2h6.2M118.50 376.2h6.0M118.50 408.2h6.0M119.40 392.2h6.2M119.50 374.9h6.0M119.50 409.5h6.0M120.40 391.2h6.2M120.50 373.8h6.0M120.50 408.6h6.0M121.40 391.3h6.2M121.50 375.5h6.0M121.50 407.1h6.0M122.40 392.1h6.2M122.50 374.7h6.0M122.50 409.4h6.0M123.40 390.7h6.2M123.50 374.0h6.0M123.50 407.4h6.0M124.40 391.4h6.2M124.50 374.8h6.0M124.50 408.1h6.0M125.40 391.0h6.2M125.50 375.1h6.0M125.50 406.8h6.0M126.40 391.3h6.2M126.50 374.0h6.0M126.50 408.6h6.0M127.40 392.3h6.2M127.50 375.1h6.0M127.50 409.4h6.0M128.40 391.7h6.2M128.50 374.9h6.0M128.50 408.6h6.0M129.40 391.5h6.2M129.50 375.6h6.0M129.50 407.4h6.0M130.40 392.0h6.2M130.50 376.2h6.0M130.50 407.8h6.0M131.40 392.0h6.2M131.50 375.5h6.0M131.50 408.4h6.0M132.40 390.0h6.2M132.50 373.6h6.0M132.50 406.4h6.0M133.40 392.4h6.2M133.50 375.6h6.0M133.50 409.2h6.0M134.40 392.3h6.2M134.50 376.0h6.0M134.50 408.6h6.0M135.40 390.5h6.2M135.50 373.1h6.0M135.50 407.8h6.0M136.40 392.9h6.2M136.50 375.5h6.0M136.50 410.2h6.0M137.40 389.8h6.2M137.50 373.4h6.0M137.50 406.2h6.0M138.40 391.1h6.2M138.50 374.6h6.0M138.50 407.6h6.0M139.40 391.8h6.2M139.50 375.6h6.0M139.50 408.0h6.0M140.40 391.3h6.2M140.50 373.8h6.0M140.50 408.9h6.0M141.40 392.3h6.2M141.50 375.3h6.0M141.50 409.3h6.0M142.40 389.3h6.2M142.50 373.0h6.0M142.50 405.7h6.0M143.40 391.8h6.2M143.50 374.8h6.0M143.50 408.8h6.0M144.40 390.0h6.2M144.50 373.6h6.0M144.50 406.4h6.0M145.40 390.7h6.2M145.50 373.4h6.0M145.50 408.0h6.0M146.40 391.0h6.2M146.50 374.0h6.0M146.50 408.1h6.0M147.40 389.8h6.2M147.50 373.0h6.0M147.50 406.6h6.0M148.40 390.1h6.2M148.50 373.7h6.0M148.50 406.4h6.0M149.40 390.8h6.2M149.50 374.9h6.0M149.50 406.8h6.0M150.40 391.6h6.2M150.50 375.2h6.0M150.50 408.0h6.0M151.40 391.3h6.2M151.50 374.7h6.0M151.50 408.0h6.0M152.40 392.5h6.2M152.50 375.1h6.0M152.50 409.9h6.0M153.40 392.6h6.2M153.50 376.8h6.0M153.50 408.4h6.0M154.40 390.2h6.2M154.50 373.0h6.0M154.50 407.3h6.0M155.40 390.4h6.2M155.50 373.2h6.0M155.50 407.7h6.0M156.40 390.0h6.2M156.50 373.1h6.0M156.50 407.0h6.0M157.40 392.4h6.2M157.50 375.2h6.0M157.50 409.5h6.0M158.40 391.8h6.2M158.50 375.4h6.0M158.50 408.3h6.0M159.40 391.1h6.2M159.50 374.4h6.0M159.50 407.8h6.0M160.40 390.0h6.2M160.50 374.0h6.0M160.50 406.0h6.0M161.40 392.3h6.2M161.50 376.3h6.0M161.50 408.4h6.0M162.40 391.5h6.2M162.50 374.4h6.0M162.50 408.5h6.0M163.40 391.1h6.2M163.50 373.8h6.0M163.50 408.4h6.0M164.40 392.1h6.2M164.50 374.6h6.0M164.50 409.7h6.0M165.40 391.8h6.2M165.50 375.5h6.0M165.50 408.0h6.0M166.40 392.1h6.2M166.50 376.1h6.0M166.50 408.1h6.0M167.40 391.8h6.2M167.50 375.9h6.0M167.50 407.7h6.0M168.40 387.6h6.2M168.50 370.2h6.0M168.50 405.0h6.0M169.40 391.8h6.2M169.50 375.9h6.0M169.50 407.8h6.0M170.40 392.9h6.2M170.50 376.0h6.0M170.50 409.8h6.0M171.40 390.8h6.2M171.50 373.6h6.0M171.50 408.0h6.0M172.40 389.8h6.2M172.50 372.8h6.0M172.50 406.9h6.0M173.40 393.3h6.2M173.50 377.1h6.0M173.50 409.4h6.0M174.40 391.7h6.2M174.50 375.7h6.0M174.50 407.8h6.0M175.40 391.0h6.2M175.50 374.5h6.0M175.50 407.5h6.0M176.40 391.5h6.2M176.50 375.0h6.0M176.50 408.0h6.0M177.40 390.6h6.2M177.50 373.8h6.0M177.50 407.4h6.0M178.40 391.9h6.2M178.50 375.3h6.0M178.50 408.6h6.0M179.40 392.4h6.2M179.50 375.8h6.0M179.50 409.0h6.0M180.40 391.1h6.2M180.50 374.3h6.0M180.50 407.9h6.0M181.40 392.2h6.2M181.50 374.8h6.0M181.50 409.6h6.0M182.40 390.8h6.2M182.50 373.3h6.0M182.50 408.3h6.0M183.40 391.2h6.2M183.50 375.4h6.0M183.50 407.0h6.0M184.40 388.8h6.2M184.50 372.5h6.0M184.50 405.2h6.0M185.40 390.8h6.2M185.50 373.8h6.0M185.50 407.7h6.0M186.40 391.6h6.2M186.50 374.1h6.0M186.50 409.2h6.0M187.40 392.1h6.2M187.50 376.3h6.0M187.50 407.9h6.0M188.40 392.0h6.2M188.50 375.4h6.0M188.50 408.5h6.0M189.40 393.0h6.2M189.50 376.5h6.0M189.50 409.4h6.0M190.40 390.9h6.2M190.50 373.6h6.0M190.50 408.1h6.0M191.40 392.4h6.2M191.50 375.3h6.0M191.50 409.5h6.0M192.40 390.5h6.2M192.50 374.4h6.0M192.50 406.5h6.0M193.40 390.2h6.2M193.50 373.6h6.0M193.50 406.8h6.0M194.40 391.6h6.2M194.50 374.1h6.0M194.50 409.1h6.0M195.40 392.3h6.2M195.50 376.2h6.0M195.50 408.5h6.0M196.40 391.8h6.2M196.50 375.6h6.0M196.50 407.9h6.0M197.40 391.2h6.2M197.50 374.2h6.0M197.50 408.1h6.0M198.40 392.4h6.2M198.50 375.4h6.0M198.50 409.4h6.0M199.40 391.6h6.2M199.50 374.3h6.0M199.50 408.9h6.0M200.40 392.1h6.2M200.50 375.5h6.0M200.50 408.6h6.0M201.40 390.4h6.2M201.50 373.0h6.0M201.50 407.7h6.0M202.40 389.5h6.2M202.50 373.5h6.0M202.50 405.4h6.0M203.40 390.1h6.2M203.50 373.9h6.0M203.50 406.4h6.0M204.40 392.3h6.2M204.50 375.5h6.0M204.50 409.1h6.0M205.40 390.7h6.2M205.50 373.8h6.0M205.50 407.7h6.0M206.40 391.5h6.2M206.50 375.3h6.0M206.50 407.7h6.0M207.40 389.8h6.2M207.50 372.3h6.0M207.50 407.4h6.0M208.40 389.3h6.2M208.50 372.3h6.0M208.50 406.2h6.0M209.40 391.0h6.2M209.50 374.4h6.0M209.50 407.5h6.0M210.40 392.2h6.2M210.50 375.3h6.0M210.50 409.1h6.0M211.40 390.6h6.2M211.50 374.0h6.0M211.50 407.3h6.0M212.40 392.7h6.2M212.50 375.8h6.0M212.50 409.6h6.0M213.40 392.7h6.2M213.50 375.4h6.0M213.50 410.1h6.0M214.40 390.2h6.2M214.50 373.1h6.0M214.50 407.4h6.0M215.40 391.7h6.2M215.50 374.1h6.0M215.50 409.2h6.0M216.40 390.4h6.2M216.50 373.9h6.0M216.50 406.8h6.0M217.40 391.5h6.2M217.50 375.5h6.0M217.50 407.5h6.0M218.40 391.6h6.2M218.50 375.5h6.0M218.50 407.8h6.0M219.40 391.6h6.2M219.50 374.6h6.0M219.50 408.5h6.0M220.40 391.9h6.2M220.50 376.0h6.0M220.50 407.8h6.0M221.40 391.8h6.2M221.50 375.6h6.0M221.50 408.0h6.0M222.40 392.7h6.2M222.50 376.5h6.0M222.50 408.9h6.0M223.40 391.3h6.2M223.50 375.2h6.0M223.50 407.4h6.0M224.40 390.1h6.2M224.50 373.9h6.0M224.50 406.3h6.0M225.40 390.5h6.2M225.50 374.4h6.0M225.50 406.5h6.0M226.40 393.5h6.2M226.50 376.7h6.0M226.50 410.2h6.0M227.40 392.6h6.2M227.50 375.8h6.0M227.50 409.3h6.0M228.40 393.3h6.2M228.50 376.6h6.0M228.50 410.0h6.0M229.40 391.0h6.2M229.50 374.0h6.0M229.50 408.1h6.0M230.40 393.0h6.2M230.50 376.1h6.0M230.50 409.9h6.0M231.40 391.1h6.2M231.50 374.0h6.0M231.50 408.3h6.0M232.40 391.5h6.2M232.50 375.4h6.0M232.50 407.7h6.0M233.40 391.9h6.2M233.50 375.2h6.0M233.50 408.6h6.0M234.40 390.5h6.2M234.50 373.6h6.0M234.50 407.3h6.0M235.40 392.0h6.2M235.50 375.6h6.0M235.50 408.4h6.0M236.40 391.7h6.2M236.50 374.8h6.0M236.50 408.6h6.0M237.40 390.4h6.2M237.50 374.6h6.0M237.50 406.1h6.0M238.40 391.7h6.2M238.50 374.4h6.0M238.50 409.0h6.0M239.40 389.8h6.2M239.50 372.9h6.0M239.50 406.7h6.0M240.40 392.5h6.2M240.50 376.0h6.0M240.50 409.0h6.0M241.40 389.2h6.2M241.50 372.6h6.0M241.50 405.7h6.0M242.40 390.4h6.2M242.50 374.4h6.0M242.50 406.3h6.0M243.40 391.5h6.2M243.50 375.0h6.0M243.50 407.9h6.0M244.40 391.5h6.2M244.50 374.6h6.0M244.50 408.3h6.0M245.40 390.9h6.2M245.50 374.8h6.0M245.50 407.1h6.0M246.40 392.1h6.2M246.50 375.8h6.0M246.50 408.5h6.0M247.40 391.1h6.2M247.50 375.0h6.0M247.50 407.1h6.0M248.40 391.6h6.2M248.50 375.2h6.0M248.50 408.0h6.0M249.40 389.3h6.2M249.50 371.8h6.0M249.50 406.8h6.0M250.40 391.9h6.2M250.50 376.0h6.0M250.50 407.7h6.0M251.40 391.8h6.2M251.50 375.0h6.0M251.50 408.6h6.0M252.40 391.3h6.2M252.50 374.1h6.0M252.50 408.4h6.0M253.40 392.8h6.2M253.50 375.8h6.0M253.50 409.8h6.0M254.40 391.1h6.2M254.50 374.4h6.0M254.50 407.8h6.0M255.40 391.8h6.2M255.50 374.8h6.0M255.50 408.9h6.0M256.40 390.8h6.2M256.50 373.3h6.0M256.50 408.3h6.0M257.40 389.0h6.2M257.50 371.7h6.0M257.50 406.3h6.0M258.40 391.7h6.2M258.50 374.8h6.0M258.50 408.6h6.0M259.40 391.8h6.2M259.50 374.6h6.0M259.50 409.0h6.0M260.40 391.2h6.2M260.50 375.1h6.0M260.50 407.3h6.0M261.40 389.5h6.2M261.50 373.2h6.0M261.50 405.7h6.0M262.40 392.1h6.2M262.50 374.7h6.0M262.50 409.5h6.0M263.40 391.2h6.2M263.50 375.2h6.0M263.50 407.1h6.0M264.40 393.1h6.2M264.50 376.8h6.0M264.50 409.3h6.0M265.40 389.9h6.2M265.50 373.7h6.0M265.50 406.1h6.0M266.40 389.3h6.2M266.50 372.7h6.0M266.50 405.9h6.0M267.40 391.2h6.2M267.50 374.3h6.0M267.50 408.1h6.0M268.40 392.3h6.2M268.50 375.4h6.0M268.50 409.1h6.0M269.40 392.9h6.2M269.50 375.9h6.0M269.50 409.9h6.0M270.40 389.7h6.2M270.50 372.6h6.0M270.50 406.8h6.0M271.40 391.4h6.2M271.50 375.3h6.0M271.50 407.5h6.0M272.40 392.6h6.2M272.50 375.2h6.0M272.50 410.0h6.0M273.40 390.8h6.2M273.50 374.4h6.0M273.50 407.2h6.0M274.40 391.4h6.2M274.50 375.3h6.0M274.50 407.5h6.0M275.40 390.4h6.2M275.50 373.8h6.0M275.50 406.9h6.0M276.40 390.3h6.2M276.50 374.3h6.0M276.50 406.3h6.0M277.40 392.8h6.2M277.50 376.8h6.0M277.50 408.8h6.0M278.40 391.1h6.2M278.50 374.1h6.0M278.50 408.0h6.0M279.40 392.3h6.2M279.50 374.7h6.0M279.50 409.8h6.0M280.40 392.8h6.2M280.50 375.5h6.0M280.50 410.2h6.0M281.40 391.5h6.2M281.50 375.2h6.0M281.50 407.9h6.0M282.40 391.0h6.2M282.50 374.9h6.0M282.50 407.0h6.0M283.40 390.7h6.2M283.50 373.9h6.0M283.50 407.5h6.0M284.40 392.0h6.2M284.50 374.9h6.0M284.50 409.1h6.0M285.40 394.7h6.2M285.50 377.7h6.0M285.50 411.6h6.0M286.40 390.4h6.2M286.50 373.6h6.0M286.50 407.2h6.0M287.40 390.9h6.2M287.50 373.9h6.0M287.50 407.9h6.0M288.40 393.4h6.2M288.50 381.3h6.0M288.50 405.4h6.0M289.40 392.6h6.2M289.50 382.0h6.0M289.50 403.2h6.0M290.40 392.2h6.2M290.50 375.0h6.0M290.50 409.5h6.0M291.40 389.0h6.2M291.50 379.2h6.0M291.50 398.8h6.0M292.40 391.0h6.2M292.50 373.6h6.0M292.50 408.4h6.0M293.40 384.3h6.2M293.50 376.9h6.0M293.50 391.8h6.0M294.40 390.7h6.2M294.50 373.2h6.0M294.50 408.3h6.0M295.40 391.1h6.2M295.50 374.7h6.0M295.50 407.6h6.0M296.40 390.9h6.2M296.50 375.0h6.0M296.50 406.7h6.0M297.40 393.1h6.2M297.50 385.9h6.0M297.50 400.3h6.0M298.40 392.8h6.2M298.50 375.7h6.0M298.50 409.8h6.0M299.40 389.5h6.2M299.50 372.6h6.0M299.50 406.4h6.0M300.40 394.4h6.2M300.50 387.0h6.0M300.50 401.8h6.0M301.40 388.2h6.2M301.50 378.1h6.0M301.50 398.2h6.0M302.40 389.3h6.2M302.50 372.7h6.0M302.50 406.0h6.0M303.40 386.5h6.2M303.50 372.9h6.0M303.50 400.0h6.0M304.40 390.2h6.2M304.50 373.6h6.0M304.50 406.8h6.0M305.40 393.6h6.2M305.50 376.6h6.0M305.50 410.7h6.0M306.40 391.9h6.2M306.50 375.5h6.0M306.50 408.4h6.0M307.40 389.5h6.2M307.50 382.7h6.0M307.50 396.4h6.0M308.40 392.2h6.2M308.50 375.5h6.0M308.50 408.8h6.0M309.40 391.5h6.2M309.50 375.1h6.0M309.50 408.0h6.0M310.40 390.4h6.2M310.50 378.2h6.0M310.50 402.7h6.0M311.40 391.8h6.2M311.50 375.9h6.0M311.50 407.7h6.0M312.40 385.1h6.2M312.50 378.3h6.0M312.50 391.9h6.0M313.40 392.1h6.2M313.50 375.5h6.0M313.50 408.8h6.0M314.40 390.4h6.2M314.50 373.8h6.0M314.50 406.9h6.0M315.40 392.1h6.2M315.50 374.6h6.0M315.50 409.6h6.0M85.40 388.8h6.2M85.50 369.9h6.0M85.50 407.7h6.0M290.40 355.4h6.2M290.50 342.5h6.0M290.50 368.4h6.0M289.90 376.3h6.2M290.00 366.4h6.0M290.00 386.3h6.0M297.40 366.0h6.2M297.50 355.6h6.0M297.50 376.4h6.0M300.40 368.9h6.2M300.50 353.9h6.0M300.50 383.8h6.0M313.40 369.6h6.2M313.50 364.2h6.0M313.50 374.9h6.0M289.40 386.3h6.2M289.50 371.4h6.0M289.50 401.2h6.0M303.40 397.4h6.2M303.50 385.5h6.0M303.50 409.3h6.0M308.40 379.0h6.2M308.50 361.9h6.0M308.50 396.1h6.0"/>
</g>
<path class="tk" d="M68.5 441v-6M68.5 341.5v6M118.5 441v-6M118.5 341.5v6M168.5 441v-6M168.5 341.5v6M218.5 441v-6M218.5 341.5v6M268.5 441v-6M268.5 341.5v6M318.5 441v-6M318.5 341.5v6M68.5 441h6M318.5 441h-6M68.5 416.12h6M318.5 416.12h-6M68.5 391.25h6M318.5 391.25h-6M68.5 366.38h6M318.5 366.38h-6M68.5 341.5h6M318.5 341.5h-6"/>
<rect class="fr" x="68.5" y="341.5" width="250" height="99.5"/>
<text x="70.5" y="462.6" text-anchor="middle">0</text>
<text x="120.5" y="462.6" text-anchor="middle">5</text>
<text x="170.5" y="462.6" text-anchor="middle">10</text>
<text x="220.5" y="462.6" text-anchor="middle">15</text>
<text x="270.5" y="462.6" text-anchor="middle">20</text>
<text x="320.5" y="462.6" text-anchor="middle">25</text>
<text x="59.2" y="447.1" text-anchor="end">-1</text>
<text x="59.2" y="422.23" text-anchor="end">-0.5</text>
<text x="59.2" y="397.35" text-anchor="end">0</text>
<text x="59.2" y="372.48" text-anchor="end">0.5</text>
<text x="59.2" y="347.6" text-anchor="end">1</text>
<text x="193.5" y="486" text-anchor="middle">Frequency [Hz]</text>
<text transform="translate(11.8,391.25) rotate(-90)" text-anchor="middle">X2</text>
<clipPath id="c0Y2"><rect x="420.5" y="337.5" width="258.0" height="107.5"/></clipPath>
<path class="gr" d="M474.5 342.2V441M524.5 342.2V441M574.5 342.2V441M624.5 342.2V441M425.2 416.12H674.5M425.2 391.25H674.5M425.2 366.38H674.5"/>
<g clip-path="url(#c0Y2)">
<path class="eb" stroke-opacity="0.7" d="M445.50 373.31V407.45M446.50 375.75V409.21M449.50 374.67V407.72M451.50 374.13V410.09M452.50 373.58V409.01M459.50 372.43V408.36M468.50 372.57V407.96M469.50 374.72V408.88M471.50 375.49V408.54M481.50 374.70V407.64M492.50 375.21V409.54M496.50 376.30V409.69M498.50 373.82V407.17M501.50 376.22V409.51M502.50 374.62V408.25M503.50 374.36V407.95M504.50 372.92V409.01M506.50 375.37V409.59M511.50 375.55V409.74M515.50 372.90V406.84M518.50 373.69V408.46M523.50 374.49V408.83M526.50 374.17V408.54M528.50 374.23V407.55M529.50 375.08V409.69M532.50 373.15V409.02M537.50 373.51V406.47M538.50 373.94V407.20M540.50 374.66V407.48M541.50 374.53V407.18M542.50 372.71V408.04M548.50 374.99V407.59M549.50 375.60V408.83M552.50 374.52V409.68M554.50 371.29V405.08M559.50 373.91V408.05M563.50 374.32V409.05M564.50 372.46V408.02M567.50 373.96V409.97M573.50 373.10V408.95M574.50 375.06V408.68M575.50 373.83V409.79M578.50 373.83V407.46M583.50 374.83V408.97M584.50 372.90V408.89M589.50 374.95V408.95M594.50 374.35V409.58M599.50 373.66V408.84M602.50 374.16V407.61M604.50 373.35V407.62M608.50 375.12V411.13M611.50 374.96V410.21M614.50 372.63V406.37M615.50 374.68V410.02M621.50 373.47V407.90M626.50 373.13V406.79M627.50 372.84V406.89M637.50 373.62V406.88M638.50 374.27V407.79M639.50 371.85V406.03M641.50 375.19V408.92M645.50 372.97V405.80M648.50 374.84V410.86M649.50 375.09V407.84M650.50 374.45V408.25M652.50 374.99V408.62M654.50 373.12V407.85M660.50 374.41V407.73M661.50 373.11V408.27M665.50 373.11V408.52M666.50 373.22V408.76M667.50 374.46V409.90M670.50 373.45V408.38M671.50 374.44V407.54M674.50 374.31V409.35"/><path class="eb" stroke-opacity="0.85" d="M453.50 371.68V406.61M454.50 372.78V407.56M455.50 374.26V407.86M462.50 374.26V407.64M463.50 375.88V408.97M464.50 375.23V408.01M470.50 375.83V408.45M472.50 374.21V408.07M473.50 373.01V407.47M475.50 374.91V409.28M479.50 374.31V407.28M482.50 374.53V409.80M483.50 376.89V409.97M485.50 375.55V408.12M488.50 374.36V408.56M489.50 373.49V408.65M497.50 372.63V408.33M505.50 374.16V407.79M507.50 373.92V408.57M510.50 375.20V408.86M512.50 374.33V407.06M513.50 375.89V409.62M519.50 373.90V406.64M524.50 372.69V407.60M527.50 376.09V410.83M534.50 371.45V407.40M535.50 374.73V407.83M536.50 373.09V408.34M539.50 374.43V408.53M544.50 376.22V409.17M545.50 372.61V408.24M546.50 374.73V408.63M553.50 374.56V409.08M555.50 372.95V407.83M556.50 376.89V410.03M558.50 372.49V408.07M560.50 372.75V408.75M561.50 374.91V408.05M565.50 375.07V407.79M568.50 374.47V409.11M572.50 374.09V409.10M581.50 375.29V408.23M582.50 372.50V408.45M587.50 374.21V408.25M591.50 374.87V410.88M592.50 373.57V407.24M596.50 374.44V407.12M598.50 374.61V407.50M605.50 372.62V408.48M610.50 374.36V410.21M617.50 375.13V409.31M619.50 373.24V409.35M620.50 374.78V409.43M622.50 375.34V407.95M628.50 375.61V409.02M629.50 375.41V409.43M632.50 373.82V407.90M633.50 373.37V406.45M634.50 373.43V408.14M643.50 374.43V407.49M646.50 373.21V406.62M655.50 375.32V411.06M656.50 375.02V408.03M657.50 373.62V409.57M659.50 373.91V409.65M662.50 375.62V408.89M663.50 374.92V408.98M673.50 374.23V407.86M669.50 368.86V408.66"/><path class="eb" stroke-opacity="1.0" d="M444.50 374.97V409.00M447.50 373.06V407.87M448.50 373.54V407.28M450.50 373.60V408.97M456.50 374.38V407.84M457.50 372.73V408.08M458.50 374.43V409.27M460.50 373.32V409.34M461.50 373.20V408.72M465.50 372.69V407.73M466.50 373.50V409.05M467.50 374.26V408.56M474.50 374.95V408.63M476.50 372.15V407.03M477.50 374.03V409.49M478.50 374.75V407.62M480.50 371.94V407.77M484.50 375.16V408.33M486.50 377.00V409.91M487.50 375.07V408.14M490.50 375.20V407.84M491.50 374.56V407.80M493.50 376.76V409.67M494.50 374.57V407.49M495.50 373.77V406.72M499.50 375.40V408.59M500.50 374.36V409.98M508.50 375.99V408.82M509.50 373.87V408.67M514.50 373.52V407.50M516.50 373.51V408.62M517.50 372.77V407.57M520.50 373.69V408.46M521.50 374.84V407.91M522.50 373.11V406.45M525.50 375.45V410.27M530.50 374.56V409.78M531.50 372.08V407.86M533.50 373.54V408.69M543.50 372.38V407.68M547.50 374.36V407.59M550.50 372.10V406.11M551.50 372.40V407.74M557.50 373.61V406.35M562.50 373.45V408.07M566.50 373.05V407.51M569.50 373.18V406.80M570.50 373.84V407.39M571.50 373.05V407.77M576.50 376.35V409.15M577.50 372.98V408.43M579.50 374.30V409.16M580.50 373.27V405.89M585.50 374.73V408.97M586.50 374.17V407.01M588.50 370.77V406.63M590.50 373.29V408.81M593.50 376.15V409.29M595.50 374.29V407.39M597.50 373.29V406.13M600.50 374.15V408.47M601.50 373.87V407.69M603.50 374.22V408.26M606.50 375.24V408.57M607.50 375.19V408.38M609.50 373.11V406.18M612.50 374.80V408.28M613.50 373.62V409.52M616.50 374.15V407.88M618.50 375.13V407.75M623.50 376.07V408.76M624.50 373.29V409.36M625.50 373.15V407.47M630.50 371.09V406.77M631.50 373.37V408.84M635.50 371.95V406.62M636.50 372.51V408.25M640.50 373.01V406.67M642.50 374.04V408.45M644.50 374.85V407.82M647.50 374.05V407.55M651.50 373.65V408.57M653.50 372.33V408.38M658.50 375.52V410.06M664.50 373.38V409.33M668.50 373.28V408.71M669.50 372.41V405.15M672.50 374.04V408.15M664.50 396.23V433.04"/><path class="pt" d="M444.50 388.88v6.2M445.50 387.28v6.2M446.50 389.38v6.2M447.50 387.37v6.2M448.50 387.31v6.2M449.50 388.10v6.2M450.50 388.19v6.2M451.50 389.01v6.2M452.50 388.20v6.2M453.50 386.04v6.2M454.50 387.07v6.2M455.50 387.96v6.2M456.50 388.01v6.2M457.50 387.30v6.2M458.50 388.75v6.2M459.50 387.30v6.2M460.50 388.23v6.2M461.50 387.86v6.2M462.50 387.85v6.2M463.50 389.32v6.2M464.50 388.52v6.2M465.50 387.11v6.2M466.50 388.17v6.2M467.50 388.31v6.2M468.50 387.16v6.2M469.50 388.70v6.2M470.50 389.04v6.2M471.50 388.91v6.2M472.50 388.04v6.2M473.50 387.14v6.2M474.50 388.69v6.2M475.50 389.00v6.2M476.50 386.49v6.2M477.50 388.66v6.2M478.50 388.09v6.2M479.50 387.70v6.2M480.50 386.76v6.2M481.50 388.07v6.2M482.50 389.06v6.2M483.50 390.33v6.2M484.50 388.64v6.2M485.50 388.73v6.2M486.50 390.35v6.2M487.50 388.50v6.2M488.50 388.36v6.2M489.50 387.97v6.2M490.50 388.42v6.2M491.50 388.08v6.2M492.50 389.28v6.2M493.50 390.11v6.2M494.50 387.93v6.2M495.50 387.14v6.2M496.50 389.89v6.2M497.50 387.38v6.2M498.50 387.40v6.2M499.50 388.89v6.2M500.50 389.07v6.2M501.50 389.77v6.2M502.50 388.34v6.2M503.50 388.06v6.2M504.50 387.87v6.2M505.50 387.87v6.2M506.50 389.38v6.2M507.50 388.14v6.2M508.50 389.31v6.2M509.50 388.17v6.2M510.50 388.93v6.2M511.50 389.54v6.2M512.50 387.59v6.2M513.50 389.66v6.2M514.50 387.41v6.2M515.50 386.77v6.2M516.50 387.96v6.2M517.50 387.07v6.2M518.50 387.97v6.2M519.50 387.17v6.2M520.50 387.97v6.2M521.50 388.27v6.2M522.50 386.68v6.2M523.50 388.56v6.2M524.50 387.05v6.2M525.50 389.76v6.2M526.50 388.26v6.2M527.50 390.36v6.2M528.50 387.79v6.2M529.50 389.29v6.2M530.50 389.07v6.2M531.50 386.87v6.2M532.50 387.99v6.2M533.50 388.02v6.2M534.50 386.33v6.2M535.50 388.18v6.2M536.50 387.61v6.2M537.50 386.89v6.2M538.50 387.47v6.2M539.50 388.38v6.2M540.50 387.97v6.2M541.50 387.76v6.2M542.50 387.27v6.2M543.50 386.93v6.2M544.50 389.60v6.2M545.50 387.33v6.2M546.50 388.58v6.2M547.50 387.88v6.2M548.50 388.19v6.2M549.50 389.11v6.2M550.50 386.01v6.2M551.50 386.97v6.2M552.50 389.00v6.2M553.50 388.72v6.2M554.50 385.08v6.2M555.50 387.29v6.2M556.50 390.36v6.2M557.50 386.88v6.2M558.50 387.18v6.2M559.50 387.88v6.2M560.50 387.65v6.2M561.50 388.38v6.2M562.50 387.66v6.2M563.50 388.59v6.2M564.50 387.14v6.2M565.50 388.33v6.2M566.50 387.18v6.2M567.50 388.86v6.2M568.50 388.69v6.2M569.50 386.89v6.2M570.50 387.51v6.2M571.50 387.31v6.2M572.50 388.50v6.2M573.50 387.93v6.2M574.50 388.77v6.2M575.50 388.71v6.2M576.50 389.65v6.2M577.50 387.60v6.2M578.50 387.54v6.2M579.50 388.63v6.2M580.50 386.48v6.2M581.50 388.66v6.2M582.50 387.38v6.2M583.50 388.80v6.2M584.50 387.79v6.2M585.50 388.75v6.2M586.50 387.49v6.2M587.50 388.13v6.2M588.50 385.60v6.2M589.50 388.85v6.2M590.50 387.95v6.2M591.50 389.78v6.2M592.50 387.31v6.2M593.50 389.62v6.2M594.50 388.87v6.2M595.50 387.74v6.2M596.50 387.68v6.2M597.50 386.61v6.2M598.50 387.95v6.2M599.50 388.15v6.2M600.50 388.21v6.2M601.50 387.68v6.2M602.50 387.78v6.2M603.50 388.14v6.2M604.50 387.38v6.2M605.50 387.45v6.2M606.50 388.81v6.2M607.50 388.69v6.2M608.50 390.02v6.2M609.50 386.54v6.2M610.50 389.19v6.2M611.50 389.49v6.2M612.50 388.44v6.2M613.50 388.47v6.2M614.50 386.40v6.2M615.50 389.25v6.2M616.50 387.91v6.2M617.50 389.12v6.2M618.50 388.34v6.2M619.50 388.20v6.2M620.50 389.00v6.2M621.50 387.59v6.2M622.50 388.55v6.2M623.50 389.31v6.2M624.50 388.23v6.2M625.50 387.21v6.2M626.50 386.86v6.2M627.50 386.77v6.2M628.50 389.22v6.2M629.50 389.32v6.2M630.50 385.83v6.2M631.50 388.01v6.2M632.50 387.76v6.2M633.50 386.81v6.2M634.50 387.69v6.2M635.50 386.19v6.2M636.50 387.28v6.2M637.50 387.15v6.2M638.50 387.93v6.2M639.50 385.84v6.2M640.50 386.74v6.2M641.50 388.95v6.2M642.50 388.14v6.2M643.50 387.86v6.2M644.50 388.23v6.2M645.50 386.29v6.2M646.50 386.82v6.2M647.50 387.70v6.2M648.50 389.75v6.2M649.50 388.36v6.2M650.50 388.25v6.2M651.50 388.01v6.2M652.50 388.70v6.2M653.50 387.25v6.2M654.50 387.38v6.2M655.50 390.09v6.2M656.50 388.42v6.2M657.50 388.49v6.2M658.50 389.69v6.2M659.50 388.68v6.2M660.50 387.97v6.2M661.50 387.59v6.2M662.50 389.15v6.2M663.50 388.85v6.2M664.50 388.26v6.2M665.50 387.71v6.2M666.50 387.89v6.2M667.50 389.08v6.2M668.50 387.89v6.2M669.50 385.68v6.2M670.50 387.81v6.2M671.50 387.89v6.2M672.50 387.99v6.2M673.50 387.94v6.2M674.50 388.73v6.2M664.50 411.53v6.2M669.50 385.66v6.2"/><path class="ph" style="stroke-width:0.6" d="M441.40 392.0h6.2M441.50 375.0h6.0M441.50 409.0h6.0M442.40 390.4h6.2M442.50 373.3h6.0M442.50 407.4h6.0M443.40 392.5h6.2M443.50 375.7h6.0M443.50 409.2h6.0M444.40 390.5h6.2M444.50 373.1h6.0M444.50 407.9h6.0M445.40 390.4h6.2M445.50 373.5h6.0M445.50 407.3h6.0M446.40 391.2h6.2M446.50 374.7h6.0M446.50 407.7h6.0M447.40 391.3h6.2M447.50 373.6h6.0M447.50 409.0h6.0M448.40 392.1h6.2M448.50 374.1h6.0M448.50 410.1h6.0M449.40 391.3h6.2M449.50 373.6h6.0M449.50 409.0h6.0M450.40 389.1h6.2M450.50 371.7h6.0M450.50 406.6h6.0M451.40 390.2h6.2M451.50 372.8h6.0M451.50 407.6h6.0M452.40 391.1h6.2M452.50 374.3h6.0M452.50 407.9h6.0M453.40 391.1h6.2M453.50 374.4h6.0M453.50 407.8h6.0M454.40 390.4h6.2M454.50 372.7h6.0M454.50 408.1h6.0M455.40 391.9h6.2M455.50 374.4h6.0M455.50 409.3h6.0M456.40 390.4h6.2M456.50 372.4h6.0M456.50 408.4h6.0M457.40 391.3h6.2M457.50 373.3h6.0M457.50 409.3h6.0M458.40 391.0h6.2M458.50 373.2h6.0M458.50 408.7h6.0M459.40 390.9h6.2M459.50 374.3h6.0M459.50 407.6h6.0M460.40 392.4h6.2M460.50 375.9h6.0M460.50 409.0h6.0M461.40 391.6h6.2M461.50 375.2h6.0M461.50 408.0h6.0M462.40 390.2h6.2M462.50 372.7h6.0M462.50 407.7h6.0M463.40 391.3h6.2M463.50 373.5h6.0M463.50 409.0h6.0M464.40 391.4h6.2M464.50 374.3h6.0M464.50 408.6h6.0M465.40 390.3h6.2M465.50 372.6h6.0M465.50 408.0h6.0M466.40 391.8h6.2M466.50 374.7h6.0M466.50 408.9h6.0M467.40 392.1h6.2M467.50 375.8h6.0M467.50 408.4h6.0M468.40 392.0h6.2M468.50 375.5h6.0M468.50 408.5h6.0M469.40 391.1h6.2M469.50 374.2h6.0M469.50 408.1h6.0M470.40 390.2h6.2M470.50 373.0h6.0M470.50 407.5h6.0M471.40 391.8h6.2M471.50 375.0h6.0M471.50 408.6h6.0M472.40 392.1h6.2M472.50 374.9h6.0M472.50 409.3h6.0M473.40 389.6h6.2M473.50 372.1h6.0M473.50 407.0h6.0M474.40 391.8h6.2M474.50 374.0h6.0M474.50 409.5h6.0M475.40 391.2h6.2M475.50 374.8h6.0M475.50 407.6h6.0M476.40 390.8h6.2M476.50 374.3h6.0M476.50 407.3h6.0M477.40 389.9h6.2M477.50 371.9h6.0M477.50 407.8h6.0M478.40 391.2h6.2M478.50 374.7h6.0M478.50 407.6h6.0M479.40 392.2h6.2M479.50 374.5h6.0M479.50 409.8h6.0M480.40 393.4h6.2M480.50 376.9h6.0M480.50 410.0h6.0M481.40 391.7h6.2M481.50 375.2h6.0M481.50 408.3h6.0M482.40 391.8h6.2M482.50 375.5h6.0M482.50 408.1h6.0M483.40 393.5h6.2M483.50 377.0h6.0M483.50 409.9h6.0M484.40 391.6h6.2M484.50 375.1h6.0M484.50 408.1h6.0M485.40 391.5h6.2M485.50 374.4h6.0M485.50 408.6h6.0M486.40 391.1h6.2M486.50 373.5h6.0M486.50 408.6h6.0M487.40 391.5h6.2M487.50 375.2h6.0M487.50 407.8h6.0M488.40 391.2h6.2M488.50 374.6h6.0M488.50 407.8h6.0M489.40 392.4h6.2M489.50 375.2h6.0M489.50 409.5h6.0M490.40 393.2h6.2M490.50 376.8h6.0M490.50 409.7h6.0M491.40 391.0h6.2M491.50 374.6h6.0M491.50 407.5h6.0M492.40 390.2h6.2M492.50 373.8h6.0M492.50 406.7h6.0M493.40 393.0h6.2M493.50 376.3h6.0M493.50 409.7h6.0M494.40 390.5h6.2M494.50 372.6h6.0M494.50 408.3h6.0M495.40 390.5h6.2M495.50 373.8h6.0M495.50 407.2h6.0M496.40 392.0h6.2M496.50 375.4h6.0M496.50 408.6h6.0M497.40 392.2h6.2M497.50 374.4h6.0M497.50 410.0h6.0M498.40 392.9h6.2M498.50 376.2h6.0M498.50 409.5h6.0M499.40 391.4h6.2M499.50 374.6h6.0M499.50 408.3h6.0M500.40 391.2h6.2M500.50 374.4h6.0M500.50 408.0h6.0M501.40 391.0h6.2M501.50 372.9h6.0M501.50 409.0h6.0M502.40 391.0h6.2M502.50 374.2h6.0M502.50 407.8h6.0M503.40 392.5h6.2M503.50 375.4h6.0M503.50 409.6h6.0M504.40 391.2h6.2M504.50 373.9h6.0M504.50 408.6h6.0M505.40 392.4h6.2M505.50 376.0h6.0M505.50 408.8h6.0M506.40 391.3h6.2M506.50 373.9h6.0M506.50 408.7h6.0M507.40 392.0h6.2M507.50 375.2h6.0M507.50 408.9h6.0M508.40 392.6h6.2M508.50 375.5h6.0M508.50 409.7h6.0M509.40 390.7h6.2M509.50 374.3h6.0M509.50 407.1h6.0M510.40 392.8h6.2M510.50 375.9h6.0M510.50 409.6h6.0M511.40 390.5h6.2M511.50 373.5h6.0M511.50 407.5h6.0M512.40 389.9h6.2M512.50 372.9h6.0M512.50 406.8h6.0M513.40 391.1h6.2M513.50 373.5h6.0M513.50 408.6h6.0M514.40 390.2h6.2M514.50 372.8h6.0M514.50 407.6h6.0M515.40 391.1h6.2M515.50 373.7h6.0M515.50 408.5h6.0M516.40 390.3h6.2M516.50 373.9h6.0M516.50 406.6h6.0M517.40 391.1h6.2M517.50 373.7h6.0M517.50 408.5h6.0M518.40 391.4h6.2M518.50 374.8h6.0M518.50 407.9h6.0M519.40 389.8h6.2M519.50 373.1h6.0M519.50 406.4h6.0M520.40 391.7h6.2M520.50 374.5h6.0M520.50 408.8h6.0M521.40 390.1h6.2M521.50 372.7h6.0M521.50 407.6h6.0M522.40 392.9h6.2M522.50 375.4h6.0M522.50 410.3h6.0M523.40 391.4h6.2M523.50 374.2h6.0M523.50 408.5h6.0M524.40 393.5h6.2M524.50 376.1h6.0M524.50 410.8h6.0M525.40 390.9h6.2M525.50 374.2h6.0M525.50 407.6h6.0M526.40 392.4h6.2M526.50 375.1h6.0M526.50 409.7h6.0M527.40 392.2h6.2M527.50 374.6h6.0M527.50 409.8h6.0M528.40 390.0h6.2M528.50 372.1h6.0M528.50 407.9h6.0M529.40 391.1h6.2M529.50 373.1h6.0M529.50 409.0h6.0M530.40 391.1h6.2M530.50 373.5h6.0M530.50 408.7h6.0M531.40 389.4h6.2M531.50 371.5h6.0M531.50 407.4h6.0M532.40 391.3h6.2M532.50 374.7h6.0M532.50 407.8h6.0M533.40 390.7h6.2M533.50 373.1h6.0M533.50 408.3h6.0M534.40 390.0h6.2M534.50 373.5h6.0M534.50 406.5h6.0M535.40 390.6h6.2M535.50 373.9h6.0M535.50 407.2h6.0M536.40 391.5h6.2M536.50 374.4h6.0M536.50 408.5h6.0M537.40 391.1h6.2M537.50 374.7h6.0M537.50 407.5h6.0M538.40 390.9h6.2M538.50 374.5h6.0M538.50 407.2h6.0M539.40 390.4h6.2M539.50 372.7h6.0M539.50 408.0h6.0M540.40 390.0h6.2M540.50 372.4h6.0M540.50 407.7h6.0M541.40 392.7h6.2M541.50 376.2h6.0M541.50 409.2h6.0M542.40 390.4h6.2M542.50 372.6h6.0M542.50 408.2h6.0M543.40 391.7h6.2M543.50 374.7h6.0M543.50 408.6h6.0M544.40 391.0h6.2M544.50 374.4h6.0M544.50 407.6h6.0M545.40 391.3h6.2M545.50 375.0h6.0M545.50 407.6h6.0M546.40 392.2h6.2M546.50 375.6h6.0M546.50 408.8h6.0M547.40 389.1h6.2M547.50 372.1h6.0M547.50 406.1h6.0M548.40 390.1h6.2M548.50 372.4h6.0M548.50 407.7h6.0M549.40 392.1h6.2M549.50 374.5h6.0M549.50 409.7h6.0M550.40 391.8h6.2M550.50 374.6h6.0M550.50 409.1h6.0M551.40 388.2h6.2M551.50 371.3h6.0M551.50 405.1h6.0M552.40 390.4h6.2M552.50 373.0h6.0M552.50 407.8h6.0M553.40 393.5h6.2M553.50 376.9h6.0M553.50 410.0h6.0M554.40 390.0h6.2M554.50 373.6h6.0M554.50 406.3h6.0M555.40 390.3h6.2M555.50 372.5h6.0M555.50 408.1h6.0M556.40 391.0h6.2M556.50 373.9h6.0M556.50 408.1h6.0M557.40 390.7h6.2M557.50 372.7h6.0M557.50 408.7h6.0M558.40 391.5h6.2M558.50 374.9h6.0M558.50 408.0h6.0M559.40 390.8h6.2M559.50 373.4h6.0M559.50 408.1h6.0M560.40 391.7h6.2M560.50 374.3h6.0M560.50 409.1h6.0M561.40 390.2h6.2M561.50 372.5h6.0M561.50 408.0h6.0M562.40 391.4h6.2M562.50 375.1h6.0M562.50 407.8h6.0M563.40 390.3h6.2M563.50 373.0h6.0M563.50 407.5h6.0M564.40 392.0h6.2M564.50 374.0h6.0M564.50 410.0h6.0M565.40 391.8h6.2M565.50 374.5h6.0M565.50 409.1h6.0M566.40 390.0h6.2M566.50 373.2h6.0M566.50 406.8h6.0M567.40 390.6h6.2M567.50 373.8h6.0M567.50 407.4h6.0M568.40 390.4h6.2M568.50 373.1h6.0M568.50 407.8h6.0M569.40 391.6h6.2M569.50 374.1h6.0M569.50 409.1h6.0M570.40 391.0h6.2M570.50 373.1h6.0M570.50 408.9h6.0M571.40 391.9h6.2M571.50 375.1h6.0M571.50 408.7h6.0M572.40 391.8h6.2M572.50 373.8h6.0M572.50 409.8h6.0M573.40 392.8h6.2M573.50 376.3h6.0M573.50 409.2h6.0M574.40 390.7h6.2M574.50 373.0h6.0M574.50 408.4h6.0M575.40 390.6h6.2M575.50 373.8h6.0M575.50 407.5h6.0M576.40 391.7h6.2M576.50 374.3h6.0M576.50 409.2h6.0M577.40 389.6h6.2M577.50 373.3h6.0M577.50 405.9h6.0M578.40 391.8h6.2M578.50 375.3h6.0M578.50 408.2h6.0M579.40 390.5h6.2M579.50 372.5h6.0M579.50 408.5h6.0M580.40 391.9h6.2M580.50 374.8h6.0M580.50 409.0h6.0M581.40 390.9h6.2M581.50 372.9h6.0M581.50 408.9h6.0M582.40 391.9h6.2M582.50 374.7h6.0M582.50 409.0h6.0M583.40 390.6h6.2M583.50 374.2h6.0M583.50 407.0h6.0M584.40 391.2h6.2M584.50 374.2h6.0M584.50 408.3h6.0M585.40 388.7h6.2M585.50 370.8h6.0M585.50 406.6h6.0M586.40 392.0h6.2M586.50 375.0h6.0M586.50 409.0h6.0M587.40 391.1h6.2M587.50 373.3h6.0M587.50 408.8h6.0M588.40 392.9h6.2M588.50 374.9h6.0M588.50 410.9h6.0M589.40 390.4h6.2M589.50 373.6h6.0M589.50 407.2h6.0M590.40 392.7h6.2M590.50 376.1h6.0M590.50 409.3h6.0M591.40 392.0h6.2M591.50 374.4h6.0M591.50 409.6h6.0M592.40 390.8h6.2M592.50 374.3h6.0M592.50 407.4h6.0M593.40 390.8h6.2M593.50 374.4h6.0M593.50 407.1h6.0M594.40 389.7h6.2M594.50 373.3h6.0M594.50 406.1h6.0M595.40 391.1h6.2M595.50 374.6h6.0M595.50 407.5h6.0M596.40 391.2h6.2M596.50 373.7h6.0M596.50 408.8h6.0M597.40 391.3h6.2M597.50 374.1h6.0M597.50 408.5h6.0M598.40 390.8h6.2M598.50 373.9h6.0M598.50 407.7h6.0M599.40 390.9h6.2M599.50 374.2h6.0M599.50 407.6h6.0M600.40 391.2h6.2M600.50 374.2h6.0M600.50 408.3h6.0M601.40 390.5h6.2M601.50 373.4h6.0M601.50 407.6h6.0M602.40 390.5h6.2M602.50 372.6h6.0M602.50 408.5h6.0M603.40 391.9h6.2M603.50 375.2h6.0M603.50 408.6h6.0M604.40 391.8h6.2M604.50 375.2h6.0M604.50 408.4h6.0M605.40 393.1h6.2M605.50 375.1h6.0M605.50 411.1h6.0M606.40 389.6h6.2M606.50 373.1h6.0M606.50 406.2h6.0M607.40 392.3h6.2M607.50 374.4h6.0M607.50 410.2h6.0M608.40 392.6h6.2M608.50 375.0h6.0M608.50 410.2h6.0M609.40 391.5h6.2M609.50 374.8h6.0M609.50 408.3h6.0M610.40 391.6h6.2M610.50 373.6h6.0M610.50 409.5h6.0M611.40 389.5h6.2M611.50 372.6h6.0M611.50 406.4h6.0M612.40 392.4h6.2M612.50 374.7h6.0M612.50 410.0h6.0M613.40 391.0h6.2M613.50 374.1h6.0M613.50 407.9h6.0M614.40 392.2h6.2M614.50 375.1h6.0M614.50 409.3h6.0M615.40 391.4h6.2M615.50 375.1h6.0M615.50 407.7h6.0M616.40 391.3h6.2M616.50 373.2h6.0M616.50 409.4h6.0M617.40 392.1h6.2M617.50 374.8h6.0M617.50 409.4h6.0M618.40 390.7h6.2M618.50 373.5h6.0M618.50 407.9h6.0M619.40 391.6h6.2M619.50 375.3h6.0M619.50 407.9h6.0M620.40 392.4h6.2M620.50 376.1h6.0M620.50 408.8h6.0M621.40 391.3h6.2M621.50 373.3h6.0M621.50 409.4h6.0M622.40 390.3h6.2M622.50 373.2h6.0M622.50 407.5h6.0M623.40 390.0h6.2M623.50 373.1h6.0M623.50 406.8h6.0M624.40 389.9h6.2M624.50 372.8h6.0M624.50 406.9h6.0M625.40 392.3h6.2M625.50 375.6h6.0M625.50 409.0h6.0M626.40 392.4h6.2M626.50 375.4h6.0M626.50 409.4h6.0M627.40 388.9h6.2M627.50 371.1h6.0M627.50 406.8h6.0M628.40 391.1h6.2M628.50 373.4h6.0M628.50 408.8h6.0M629.40 390.9h6.2M629.50 373.8h6.0M629.50 407.9h6.0M630.40 389.9h6.2M630.50 373.4h6.0M630.50 406.4h6.0M631.40 390.8h6.2M631.50 373.4h6.0M631.50 408.1h6.0M632.40 389.3h6.2M632.50 371.9h6.0M632.50 406.6h6.0M633.40 390.4h6.2M633.50 372.5h6.0M633.50 408.3h6.0M634.40 390.3h6.2M634.50 373.6h6.0M634.50 406.9h6.0M635.40 391.0h6.2M635.50 374.3h6.0M635.50 407.8h6.0M636.40 388.9h6.2M636.50 371.8h6.0M636.50 406.0h6.0M637.40 389.8h6.2M637.50 373.0h6.0M637.50 406.7h6.0M638.40 392.1h6.2M638.50 375.2h6.0M638.50 408.9h6.0M639.40 391.2h6.2M639.50 374.0h6.0M639.50 408.5h6.0M640.40 391.0h6.2M640.50 374.4h6.0M640.50 407.5h6.0M641.40 391.3h6.2M641.50 374.8h6.0M641.50 407.8h6.0M642.40 389.4h6.2M642.50 373.0h6.0M642.50 405.8h6.0M643.40 389.9h6.2M643.50 373.2h6.0M643.50 406.6h6.0M644.40 390.8h6.2M644.50 374.1h6.0M644.50 407.6h6.0M645.40 392.9h6.2M645.50 374.8h6.0M645.50 410.9h6.0M646.40 391.5h6.2M646.50 375.1h6.0M646.50 407.8h6.0M647.40 391.4h6.2M647.50 374.5h6.0M647.50 408.3h6.0M648.40 391.1h6.2M648.50 373.6h6.0M648.50 408.6h6.0M649.40 391.8h6.2M649.50 375.0h6.0M649.50 408.6h6.0M650.40 390.4h6.2M650.50 372.3h6.0M650.50 408.4h6.0M651.40 390.5h6.2M651.50 373.1h6.0M651.50 407.9h6.0M652.40 393.2h6.2M652.50 375.3h6.0M652.50 411.1h6.0M653.40 391.5h6.2M653.50 375.0h6.0M653.50 408.0h6.0M654.40 391.6h6.2M654.50 373.6h6.0M654.50 409.6h6.0M655.40 392.8h6.2M655.50 375.5h6.0M655.50 410.1h6.0M656.40 391.8h6.2M656.50 373.9h6.0M656.50 409.7h6.0M657.40 391.1h6.2M657.50 374.4h6.0M657.50 407.7h6.0M658.40 390.7h6.2M658.50 373.1h6.0M658.50 408.3h6.0M659.40 392.3h6.2M659.50 375.6h6.0M659.50 408.9h6.0M660.40 392.0h6.2M660.50 374.9h6.0M660.50 409.0h6.0M661.40 391.4h6.2M661.50 373.4h6.0M661.50 409.3h6.0M662.40 390.8h6.2M662.50 373.1h6.0M662.50 408.5h6.0M663.40 391.0h6.2M663.50 373.2h6.0M663.50 408.8h6.0M664.40 392.2h6.2M664.50 374.5h6.0M664.50 409.9h6.0M665.40 391.0h6.2M665.50 373.3h6.0M665.50 408.7h6.0M666.40 388.8h6.2M666.50 372.4h6.0M666.50 405.1h6.0M667.40 390.9h6.2M667.50 373.4h6.0M667.50 408.4h6.0M668.40 391.0h6.2M668.50 374.4h6.0M668.50 407.5h6.0M669.40 391.1h6.2M669.50 374.0h6.0M669.50 408.1h6.0M670.40 391.0h6.2M670.50 374.2h6.0M670.50 407.9h6.0M671.40 391.8h6.2M671.50 374.3h6.0M671.50 409.3h6.0M661.40 414.6h6.2M661.50 396.2h6.0M661.50 433.0h6.0M666.40 388.8h6.2M666.50 368.9h6.0M666.50 408.7h6.0"/>
</g>
<path class="tk" d="M424.5 441v-6M424.5 341.5v6M474.5 441v-6M474.5 341.5v6M524.5 441v-6M524.5 341.5v6M574.5 441v-6M574.5 341.5v6M624.5 441v-6M624.5 341.5v6M674.5 441v-6M674.5 341.5v6M424.5 441h6M674.5 441h-6M424.5 416.12h6M674.5 416.12h-6M424.5 391.25h6M674.5 391.25h-6M424.5 366.38h6M674.5 366.38h-6M424.5 341.5h6M674.5 341.5h-6"/>
<rect class="fr" x="424.5" y="341.5" width="250" height="99.5"/>
<text x="426.5" y="462.6" text-anchor="middle">0</text>
<text x="476.5" y="462.6" text-anchor="middle">5</text>
<text x="526.5" y="462.6" text-anchor="middle">10</text>
<text x="576.5" y="462.6" text-anchor="middle">15</text>
<text x="626.5" y="462.6" text-anchor="middle">20</text>
<text x="676.5" y="462.6" text-anchor="middle">25</text>
<text x="415.2" y="447.1" text-anchor="end">-1</text>
<text x="415.2" y="422.23" text-anchor="end">-0.5</text>
<text x="415.2" y="397.35" text-anchor="end">0</text>
<text x="415.2" y="372.48" text-anchor="end">0.5</text>
<text x="415.2" y="347.6" text-anchor="end">1</text>
<text x="549.5" y="486" text-anchor="middle">Frequency [Hz]</text>
<text transform="translate(367.8,391.25) rotate(-90)" text-anchor="middle">Y2</text>
<text class="cap" x="191.6" y="539.8" textLength="311" lengthAdjust="spacingAndGlyphs">(a) Equilateral triangle (R4-R6-R7)</text>
<clipPath id="c570p"><rect x="68.5" y="579.7" width="250.0" height="99.5"/></clipPath>
<path class="gr" d="M118.5 580.4V679.2M168.5 580.4V679.2M218.5 580.4V679.2M268.5 580.4V679.2M69.2 650.77H318.5M69.2 622.34H318.5M69.2 593.91H318.5"/>
<g clip-path="url(#c570p)">
<path class="eb" style="stroke-width:0.55" stroke-opacity="1.0" d="M87.48 670.77V672.70M88.49 672.20V673.74M89.76 669.87V671.83M91.16 670.13V672.06M92.09 670.52V671.76M93.74 670.55V672.69M93.24 666.33V667.81M94.76 663.85V664.90M95.87 661.78V663.50M97.20 659.48V661.80M98.53 661.65V662.86M99.97 658.79V660.04M101.51 660.18V661.44M102.90 656.37V657.97M104.08 654.55V656.10M105.06 651.57V653.91M106.94 650.09V651.60M107.89 648.59V650.54M109.06 650.00V651.52M110.61 644.78V646.49M111.64 643.53V645.14M113.25 645.03V646.63M114.49 640.64V641.81M115.90 641.93V643.90M116.91 640.41V641.90M118.58 639.60V641.25M118.33 643.32V644.99M120.33 640.68V643.01M121.41 636.98V638.50M122.98 637.62V639.89M124.43 641.38V643.45M126.18 641.59V642.62M127.56 637.29V639.65M129.69 638.28V639.33M130.84 634.95V637.11M132.58 639.39V641.13M134.49 636.75V638.13M136.20 635.19V636.44M137.23 634.91V636.31M139.05 635.63V637.61M140.34 636.83V638.24M141.50 634.22V636.19M142.85 633.16V634.76M144.34 634.28V636.64M144.54 639.01V641.28M146.15 640.04V641.63M147.30 640.03V642.13M148.67 644.70V646.23M150.14 645.04V646.09M151.50 643.80V645.91M152.99 645.29V647.04M154.30 649.79V650.95M155.41 650.61V652.91M155.61 645.40V647.27M156.54 645.45V647.43M157.97 646.99V648.57M159.19 645.38V646.60M160.32 646.68V648.65M161.99 645.16V647.46M163.02 648.23V649.92M164.33 647.57V649.50M165.54 647.64V649.11M167.17 648.72V650.24M168.03 647.91V649.53M169.27 644.90V646.60M170.82 648.26V649.92M172.03 645.60V646.96M173.21 645.24V647.40M174.34 646.72V648.79M174.44 649.20V651.13M176.12 650.04V651.99M177.08 649.93V651.40M178.50 651.59V653.03M179.61 652.19V653.95M181.02 653.00V655.12M182.37 650.46V652.30M183.77 650.84V653.09M185.06 653.91V655.81M186.71 652.61V654.70M187.78 653.22V654.60M189.11 654.30V655.85M190.44 653.34V654.60M190.32 650.33V652.67M191.85 650.72V652.88M193.39 648.59V650.10M194.64 649.98V651.19M196.05 648.18V649.49M197.39 650.18V651.62M198.21 649.71V650.96M198.63 646.92V648.20M200.14 646.48V648.68M202.23 647.80V649.76M204.02 646.26V648.00M205.92 644.59V646.30M207.75 646.33V648.22M209.43 646.78V648.51M211.46 647.34V649.62M213.16 644.65V646.62M215.27 645.85V647.46M216.78 646.11V648.16M218.87 649.17V650.27M220.26 649.49V650.59M222.21 659.69V661.65M224.07 656.97V660.87M225.69 656.53V660.40M226.58 659.67V663.48M228.30 660.29V663.71M229.73 659.13V661.55M231.07 661.63V664.71M232.95 656.67V660.11M234.40 661.01V663.39M235.85 659.49V662.72M236.75 661.97V664.78M238.64 658.60V662.03M238.40 659.57V663.24M240.26 659.60V661.75M241.50 659.03V661.56M242.72 659.51V662.61M244.12 658.13V662.00M245.95 660.24V662.90M247.03 657.16V660.31M248.53 658.17V661.23M250.24 659.33V661.74M251.57 655.69V658.14M253.12 658.81V660.91M254.52 659.98V662.42M255.96 658.35V662.19M257.38 658.66V661.86M257.44 656.20V659.38M258.74 655.84V657.77M260.35 653.91V657.87M262.10 658.03V660.73M263.37 654.36V656.59M264.82 654.94V658.09M266.55 655.34V659.23M267.98 653.27V655.86M269.48 656.07V659.40M271.15 656.83V659.73M272.64 655.07V658.28M274.07 654.09V656.61M275.38 657.30V661.03M275.67 653.15V657.06M277.22 655.00V658.61M278.40 654.50V656.79M279.87 656.60V658.42M281.16 654.66V656.73M282.64 650.68V653.25M284.34 651.69V655.52M285.60 654.43V658.09M287.54 649.80V652.71M288.68 654.65V658.43M290.40 652.21V655.71M291.57 652.20V655.97M292.95 652.43V654.55M294.86 650.33V653.50M296.09 656.31V659.14M297.52 654.09V655.98M299.33 652.68V655.66M300.76 650.03V652.99M302.05 650.58V653.13M303.74 655.95V659.46M303.52 652.98V655.35M304.58 654.64V656.75M306.15 653.82V655.91M307.36 651.46V653.37M308.42 655.98V657.12M309.52 657.11V659.46M310.78 653.70V654.91M312.53 654.17V655.44M313.70 651.30V653.66M314.58 654.77V656.69M315.87 653.55V655.53M317.40 651.71V653.76M318.37 652.41V654.03M124.50 627.18V628.88M127.50 631.44V633.15M133.50 659.87V661.57M157.50 639.97V641.67M165.50 639.97V641.67M221.50 639.97V641.67M228.50 647.08V648.78M314.50 647.93V656.46"/><path class="pt" style="stroke-width:0.75" d="M87.48 668.64v6.2M88.49 669.87v6.2M89.76 667.75v6.2M91.16 667.99v6.2M92.09 668.04v6.2M93.74 668.52v6.2M93.24 663.97v6.2M94.76 661.28v6.2M95.87 659.54v6.2M97.20 657.54v6.2M98.53 659.16v6.2M99.97 656.32v6.2M101.51 657.71v6.2M102.90 654.07v6.2M104.08 652.22v6.2M105.06 649.64v6.2M106.94 647.75v6.2M107.89 646.46v6.2M109.06 647.66v6.2M110.61 642.53v6.2M111.64 641.24v6.2M113.25 642.73v6.2M114.49 638.13v6.2M115.90 639.82v6.2M116.91 638.05v6.2M118.58 637.33v6.2M118.33 641.06v6.2M120.33 638.75v6.2M121.41 634.64v6.2M122.98 635.66v6.2M124.43 639.31v6.2M126.18 639.01v6.2M127.56 635.37v6.2M129.69 635.70v6.2M130.84 632.93v6.2M132.58 637.16v6.2M134.49 634.34v6.2M136.20 632.71v6.2M137.23 632.51v6.2M139.05 633.52v6.2M140.34 634.44v6.2M141.50 632.11v6.2M142.85 630.86v6.2M144.34 632.36v6.2M144.54 637.04v6.2M146.15 637.74v6.2M147.30 637.98v6.2M148.67 642.36v6.2M150.14 642.46v6.2M151.50 641.76v6.2M152.99 643.07v6.2M154.30 647.27v6.2M155.41 648.66v6.2M155.61 643.24v6.2M156.54 643.34v6.2M157.97 644.68v6.2M159.19 642.89v6.2M160.32 644.57v6.2M161.99 643.21v6.2M163.02 645.98v6.2M164.33 645.44v6.2M165.54 645.27v6.2M167.17 646.38v6.2M168.03 645.62v6.2M169.27 642.65v6.2M170.82 645.99v6.2M172.03 643.18v6.2M173.21 643.22v6.2M174.34 644.65v6.2M174.44 647.06v6.2M176.12 647.92v6.2M177.08 647.57v6.2M178.50 649.21v6.2M179.61 649.97v6.2M181.02 650.96v6.2M182.37 648.28v6.2M183.77 648.87v6.2M185.06 651.76v6.2M186.71 650.55v6.2M187.78 650.81v6.2M189.11 651.98v6.2M190.44 650.87v6.2M190.32 648.40v6.2M191.85 648.70v6.2M193.39 646.24v6.2M194.64 647.49v6.2M196.05 645.74v6.2M197.39 647.80v6.2M198.21 647.24v6.2M198.63 644.46v6.2M200.14 644.48v6.2M202.23 645.68v6.2M204.02 644.03v6.2M205.92 642.35v6.2M207.75 644.17v6.2M209.43 644.55v6.2M211.46 645.38v6.2M213.16 642.54v6.2M215.27 643.56v6.2M216.78 644.04v6.2M218.87 646.62v6.2M220.26 646.94v6.2M222.21 657.57v6.2M224.07 655.82v6.2M225.69 655.36v6.2M226.58 658.47v6.2M228.30 658.90v6.2M229.73 657.24v6.2M231.07 660.07v6.2M232.95 655.29v6.2M234.40 659.10v6.2M235.85 658.00v6.2M236.75 660.28v6.2M238.64 657.22v6.2M238.40 658.30v6.2M240.26 657.58v6.2M241.50 657.19v6.2M242.72 657.96v6.2M244.12 656.97v6.2M245.95 658.47v6.2M247.03 655.64v6.2M248.53 656.60v6.2M250.24 657.43v6.2M251.57 653.81v6.2M253.12 656.76v6.2M254.52 658.10v6.2M255.96 657.17v6.2M257.38 657.16v6.2M257.44 654.69v6.2M258.74 653.70v6.2M260.35 652.79v6.2M262.10 656.28v6.2M263.37 652.38v6.2M264.82 653.42v6.2M266.55 654.18v6.2M267.98 651.47v6.2M269.48 654.63v6.2M271.15 655.18v6.2M272.64 653.57v6.2M274.07 652.25v6.2M275.38 656.07v6.2M275.67 652.00v6.2M277.22 653.70v6.2M278.40 652.55v6.2M279.87 654.41v6.2M281.16 652.59v6.2M282.64 648.87v6.2M284.34 650.51v6.2M285.60 653.16v6.2M287.54 648.16v6.2M288.68 653.44v6.2M290.40 650.86v6.2M291.57 650.99v6.2M292.95 650.39v6.2M294.86 648.81v6.2M296.09 654.63v6.2M297.52 651.93v6.2M299.33 651.07v6.2M300.76 648.41v6.2M302.05 648.76v6.2M303.74 654.61v6.2M303.52 651.07v6.2M304.58 652.59v6.2M306.15 651.76v6.2M307.36 649.31v6.2M308.42 653.45v6.2M309.52 655.19v6.2M310.78 651.20v6.2M312.53 651.70v6.2M313.70 649.38v6.2M314.58 652.63v6.2M315.87 651.44v6.2M317.40 649.63v6.2M318.37 650.12v6.2M124.50 624.93v6.2M127.50 629.19v6.2M133.50 657.62v6.2M157.50 637.72v6.2M165.50 637.72v6.2M221.50 637.72v6.2M228.50 644.83v6.2M314.50 649.09v6.2"/><path class="ph" style="stroke-width:0.75" d="M84.38 671.5h6.2M84.48 670.5h6.0M84.48 672.5h6.0M85.39 672.5h6.2M85.49 672.5h6.0M85.49 673.5h6.0M86.66 670.5h6.2M86.76 669.5h6.0M86.76 671.5h6.0M88.06 671.5h6.2M88.16 670.5h6.0M88.16 672.5h6.0M88.99 671.5h6.2M89.09 670.5h6.0M89.09 671.5h6.0M90.64 671.5h6.2M90.74 670.5h6.0M90.74 672.5h6.0M90.14 667.5h6.2M90.24 666.5h6.0M90.24 667.5h6.0M91.66 664.5h6.2M91.76 663.5h6.0M91.76 664.5h6.0M92.77 662.5h6.2M92.87 661.5h6.0M92.87 663.5h6.0M94.10 660.5h6.2M94.20 659.5h6.0M94.20 661.5h6.0M95.43 662.5h6.2M95.53 661.5h6.0M95.53 662.5h6.0M96.87 659.5h6.2M96.97 658.5h6.0M96.97 660.5h6.0M98.41 660.5h6.2M98.51 660.5h6.0M98.51 661.5h6.0M99.80 657.5h6.2M99.90 656.5h6.0M99.90 657.5h6.0M100.98 655.5h6.2M101.08 654.5h6.0M101.08 656.5h6.0M101.96 652.5h6.2M102.06 651.5h6.0M102.06 653.5h6.0M103.84 650.5h6.2M103.94 650.5h6.0M103.94 651.5h6.0M104.79 649.5h6.2M104.89 648.5h6.0M104.89 650.5h6.0M105.96 650.5h6.2M106.06 649.5h6.0M106.06 651.5h6.0M107.51 645.5h6.2M107.61 644.5h6.0M107.61 646.5h6.0M108.54 644.5h6.2M108.64 643.5h6.0M108.64 645.5h6.0M110.15 645.5h6.2M110.25 645.5h6.0M110.25 646.5h6.0M111.39 641.5h6.2M111.49 640.5h6.0M111.49 641.5h6.0M112.80 642.5h6.2M112.90 641.5h6.0M112.90 643.5h6.0M113.81 641.5h6.2M113.91 640.5h6.0M113.91 641.5h6.0M115.48 640.5h6.2M115.58 639.5h6.0M115.58 641.5h6.0M115.23 644.5h6.2M115.33 643.5h6.0M115.33 644.5h6.0M117.23 641.5h6.2M117.33 640.5h6.0M117.33 643.5h6.0M118.31 637.5h6.2M118.41 636.5h6.0M118.41 638.5h6.0M119.88 638.5h6.2M119.98 637.5h6.0M119.98 639.5h6.0M121.33 642.5h6.2M121.43 641.5h6.0M121.43 643.5h6.0M123.08 642.5h6.2M123.18 641.5h6.0M123.18 642.5h6.0M124.46 638.5h6.2M124.56 637.5h6.0M124.56 639.5h6.0M126.59 638.5h6.2M126.69 638.5h6.0M126.69 639.5h6.0M127.74 636.5h6.2M127.84 634.5h6.0M127.84 637.5h6.0M129.48 640.5h6.2M129.58 639.5h6.0M129.58 641.5h6.0M131.39 637.5h6.2M131.49 636.5h6.0M131.49 638.5h6.0M133.10 635.5h6.2M133.20 635.5h6.0M133.20 636.5h6.0M134.13 635.5h6.2M134.23 634.5h6.0M134.23 636.5h6.0M135.95 636.5h6.2M136.05 635.5h6.0M136.05 637.5h6.0M137.24 637.5h6.2M137.34 636.5h6.0M137.34 638.5h6.0M138.40 635.5h6.2M138.50 634.5h6.0M138.50 636.5h6.0M139.75 633.5h6.2M139.85 633.5h6.0M139.85 634.5h6.0M141.24 635.5h6.2M141.34 634.5h6.0M141.34 636.5h6.0M141.44 640.5h6.2M141.54 639.5h6.0M141.54 641.5h6.0M143.05 640.5h6.2M143.15 640.5h6.0M143.15 641.5h6.0M144.20 641.5h6.2M144.30 640.5h6.0M144.30 642.5h6.0M145.57 645.5h6.2M145.67 644.5h6.0M145.67 646.5h6.0M147.04 645.5h6.2M147.14 645.5h6.0M147.14 646.5h6.0M148.40 644.5h6.2M148.50 643.5h6.0M148.50 645.5h6.0M149.89 646.5h6.2M149.99 645.5h6.0M149.99 647.5h6.0M151.20 650.5h6.2M151.30 649.5h6.0M151.30 650.5h6.0M152.31 651.5h6.2M152.41 650.5h6.0M152.41 652.5h6.0M152.51 646.5h6.2M152.61 645.5h6.0M152.61 647.5h6.0M153.44 646.5h6.2M153.54 645.5h6.0M153.54 647.5h6.0M154.87 647.5h6.2M154.97 646.5h6.0M154.97 648.5h6.0M156.09 645.5h6.2M156.19 645.5h6.0M156.19 646.5h6.0M157.22 647.5h6.2M157.32 646.5h6.0M157.32 648.5h6.0M158.89 646.5h6.2M158.99 645.5h6.0M158.99 647.5h6.0M159.92 649.5h6.2M160.02 648.5h6.0M160.02 649.5h6.0M161.23 648.5h6.2M161.33 647.5h6.0M161.33 649.5h6.0M162.44 648.5h6.2M162.54 647.5h6.0M162.54 649.5h6.0M164.07 649.5h6.2M164.17 648.5h6.0M164.17 650.5h6.0M164.93 648.5h6.2M165.03 647.5h6.0M165.03 649.5h6.0M166.17 645.5h6.2M166.27 644.5h6.0M166.27 646.5h6.0M167.72 649.5h6.2M167.82 648.5h6.0M167.82 649.5h6.0M168.93 646.5h6.2M169.03 645.5h6.0M169.03 646.5h6.0M170.11 646.5h6.2M170.21 645.5h6.0M170.21 647.5h6.0M171.24 647.5h6.2M171.34 646.5h6.0M171.34 648.5h6.0M171.34 650.5h6.2M171.44 649.5h6.0M171.44 651.5h6.0M173.02 651.5h6.2M173.12 650.5h6.0M173.12 651.5h6.0M173.98 650.5h6.2M174.08 649.5h6.0M174.08 651.5h6.0M175.40 652.5h6.2M175.50 651.5h6.0M175.50 653.5h6.0M176.51 653.5h6.2M176.61 652.5h6.0M176.61 653.5h6.0M177.92 654.5h6.2M178.02 652.5h6.0M178.02 655.5h6.0M179.27 651.5h6.2M179.37 650.5h6.0M179.37 652.5h6.0M180.67 651.5h6.2M180.77 650.5h6.0M180.77 653.5h6.0M181.96 654.5h6.2M182.06 653.5h6.0M182.06 655.5h6.0M183.61 653.5h6.2M183.71 652.5h6.0M183.71 654.5h6.0M184.68 653.5h6.2M184.78 653.5h6.0M184.78 654.5h6.0M186.01 655.5h6.2M186.11 654.5h6.0M186.11 655.5h6.0M187.34 653.5h6.2M187.44 653.5h6.0M187.44 654.5h6.0M187.22 651.5h6.2M187.32 650.5h6.0M187.32 652.5h6.0M188.75 651.5h6.2M188.85 650.5h6.0M188.85 652.5h6.0M190.29 649.5h6.2M190.39 648.5h6.0M190.39 650.5h6.0M191.54 650.5h6.2M191.64 649.5h6.0M191.64 651.5h6.0M192.95 648.5h6.2M193.05 648.5h6.0M193.05 649.5h6.0M194.29 650.5h6.2M194.39 650.5h6.0M194.39 651.5h6.0M195.11 650.5h6.2M195.21 649.5h6.0M195.21 650.5h6.0M195.53 647.5h6.2M195.63 646.5h6.0M195.63 648.5h6.0M197.04 647.5h6.2M197.14 646.5h6.0M197.14 648.5h6.0M199.13 648.5h6.2M199.23 647.5h6.0M199.23 649.5h6.0M200.92 647.5h6.2M201.02 646.5h6.0M201.02 647.5h6.0M202.82 645.5h6.2M202.92 644.5h6.0M202.92 646.5h6.0M204.65 647.5h6.2M204.75 646.5h6.0M204.75 648.5h6.0M206.33 647.5h6.2M206.43 646.5h6.0M206.43 648.5h6.0M208.36 648.5h6.2M208.46 647.5h6.0M208.46 649.5h6.0M210.06 645.5h6.2M210.16 644.5h6.0M210.16 646.5h6.0M212.17 646.5h6.2M212.27 645.5h6.0M212.27 647.5h6.0M213.68 647.5h6.2M213.78 646.5h6.0M213.78 648.5h6.0M215.77 649.5h6.2M215.87 649.5h6.0M215.87 650.5h6.0M217.16 650.5h6.2M217.26 649.5h6.0M217.26 650.5h6.0M219.11 660.5h6.2M219.21 659.5h6.0M219.21 661.5h6.0M220.97 658.5h6.2M221.07 656.5h6.0M221.07 660.5h6.0M222.59 658.5h6.2M222.69 656.5h6.0M222.69 660.5h6.0M223.48 661.5h6.2M223.58 659.5h6.0M223.58 663.5h6.0M225.20 661.5h6.2M225.30 660.5h6.0M225.30 663.5h6.0M226.63 660.5h6.2M226.73 659.5h6.0M226.73 661.5h6.0M227.97 663.5h6.2M228.07 661.5h6.0M228.07 664.5h6.0M229.85 658.5h6.2M229.95 656.5h6.0M229.95 660.5h6.0M231.30 662.5h6.2M231.40 661.5h6.0M231.40 663.5h6.0M232.75 661.5h6.2M232.85 659.5h6.0M232.85 662.5h6.0M233.65 663.5h6.2M233.75 661.5h6.0M233.75 664.5h6.0M235.54 660.5h6.2M235.64 658.5h6.0M235.64 662.5h6.0M235.30 661.5h6.2M235.40 659.5h6.0M235.40 663.5h6.0M237.16 660.5h6.2M237.26 659.5h6.0M237.26 661.5h6.0M238.40 660.5h6.2M238.50 659.5h6.0M238.50 661.5h6.0M239.62 661.5h6.2M239.72 659.5h6.0M239.72 662.5h6.0M241.02 660.5h6.2M241.12 658.5h6.0M241.12 662.5h6.0M242.85 661.5h6.2M242.95 660.5h6.0M242.95 662.5h6.0M243.93 658.5h6.2M244.03 657.5h6.0M244.03 660.5h6.0M245.43 659.5h6.2M245.53 658.5h6.0M245.53 661.5h6.0M247.14 660.5h6.2M247.24 659.5h6.0M247.24 661.5h6.0M248.47 656.5h6.2M248.57 655.5h6.0M248.57 658.5h6.0M250.02 659.5h6.2M250.12 658.5h6.0M250.12 660.5h6.0M251.42 661.5h6.2M251.52 659.5h6.0M251.52 662.5h6.0M252.86 660.5h6.2M252.96 658.5h6.0M252.96 662.5h6.0M254.28 660.5h6.2M254.38 658.5h6.0M254.38 661.5h6.0M254.34 657.5h6.2M254.44 656.5h6.0M254.44 659.5h6.0M255.64 656.5h6.2M255.74 655.5h6.0M255.74 657.5h6.0M257.25 655.5h6.2M257.35 653.5h6.0M257.35 657.5h6.0M259.00 659.5h6.2M259.10 658.5h6.0M259.10 660.5h6.0M260.27 655.5h6.2M260.37 654.5h6.0M260.37 656.5h6.0M261.72 656.5h6.2M261.82 654.5h6.0M261.82 658.5h6.0M263.45 657.5h6.2M263.55 655.5h6.0M263.55 659.5h6.0M264.88 654.5h6.2M264.98 653.5h6.0M264.98 655.5h6.0M266.38 657.5h6.2M266.48 656.5h6.0M266.48 659.5h6.0M268.05 658.5h6.2M268.15 656.5h6.0M268.15 659.5h6.0M269.54 656.5h6.2M269.64 655.5h6.0M269.64 658.5h6.0M270.97 655.5h6.2M271.07 654.5h6.0M271.07 656.5h6.0M272.28 659.5h6.2M272.38 657.5h6.0M272.38 661.5h6.0M272.57 655.5h6.2M272.67 653.5h6.0M272.67 657.5h6.0M274.12 656.5h6.2M274.22 654.5h6.0M274.22 658.5h6.0M275.30 655.5h6.2M275.40 654.5h6.0M275.40 656.5h6.0M276.77 657.5h6.2M276.87 656.5h6.0M276.87 658.5h6.0M278.06 655.5h6.2M278.16 654.5h6.0M278.16 656.5h6.0M279.54 651.5h6.2M279.64 650.5h6.0M279.64 653.5h6.0M281.24 653.5h6.2M281.34 651.5h6.0M281.34 655.5h6.0M282.50 656.5h6.2M282.60 654.5h6.0M282.60 658.5h6.0M284.44 651.5h6.2M284.54 649.5h6.0M284.54 652.5h6.0M285.58 656.5h6.2M285.68 654.5h6.0M285.68 658.5h6.0M287.30 653.5h6.2M287.40 652.5h6.0M287.40 655.5h6.0M288.47 654.5h6.2M288.57 652.5h6.0M288.57 655.5h6.0M289.85 653.5h6.2M289.95 652.5h6.0M289.95 654.5h6.0M291.76 651.5h6.2M291.86 650.5h6.0M291.86 653.5h6.0M292.99 657.5h6.2M293.09 656.5h6.0M293.09 659.5h6.0M294.42 655.5h6.2M294.52 654.5h6.0M294.52 655.5h6.0M296.23 654.5h6.2M296.33 652.5h6.0M296.33 655.5h6.0M297.66 651.5h6.2M297.76 650.5h6.0M297.76 652.5h6.0M298.95 651.5h6.2M299.05 650.5h6.0M299.05 653.5h6.0M300.64 657.5h6.2M300.74 655.5h6.0M300.74 659.5h6.0M300.42 654.5h6.2M300.52 652.5h6.0M300.52 655.5h6.0M301.48 655.5h6.2M301.58 654.5h6.0M301.58 656.5h6.0M303.05 654.5h6.2M303.15 653.5h6.0M303.15 655.5h6.0M304.26 652.5h6.2M304.36 651.5h6.0M304.36 653.5h6.0M305.32 656.5h6.2M305.42 655.5h6.0M305.42 657.5h6.0M306.42 658.5h6.2M306.52 657.5h6.0M306.52 659.5h6.0M307.68 654.5h6.2M307.78 653.5h6.0M307.78 654.5h6.0M309.43 654.5h6.2M309.53 654.5h6.0M309.53 655.5h6.0M310.60 652.5h6.2M310.70 651.5h6.0M310.70 653.5h6.0M311.48 655.5h6.2M311.58 654.5h6.0M311.58 656.5h6.0M312.77 654.5h6.2M312.87 653.5h6.0M312.87 655.5h6.0M314.30 652.5h6.2M314.40 651.5h6.0M314.40 653.5h6.0M315.27 653.5h6.2M315.37 652.5h6.0M315.37 654.5h6.0M121.40 628.5h6.2M121.50 627.5h6.0M121.50 628.5h6.0M124.40 632.5h6.2M124.50 631.5h6.0M124.50 633.5h6.0M130.40 660.5h6.2M130.50 659.5h6.0M130.50 661.5h6.0M154.40 640.5h6.2M154.50 639.5h6.0M154.50 641.5h6.0M162.40 640.5h6.2M162.50 639.5h6.0M162.50 641.5h6.0M218.40 640.5h6.2M218.50 639.5h6.0M218.50 641.5h6.0M225.40 647.5h6.2M225.50 647.5h6.0M225.50 648.5h6.0M311.40 652.5h6.2M311.50 647.5h6.0M311.50 656.5h6.0"/>
<path d="M68.5 598.5L69.0 598.5L69.5 598.6L70.0 598.6L70.5 598.7L71.0 598.7L71.5 598.8L72.0 598.9L72.5 598.9L73.0 599.0L73.5 599.0L74.0 599.1L74.5 599.1L75.0 599.2L75.5 599.2L76.0 599.3L76.5 599.4L77.0 599.4L77.5 599.5L78.0 599.5L78.5 599.6L79.0 599.6L79.5 599.7L80.0 599.8L80.5 599.8L81.0 599.9L81.5 599.9L82.0 600.0L82.5 600.0L83.0 600.1L83.5 600.1L84.0 600.2L84.5 600.3L85.0 600.3L85.5 600.4L86.0 600.4L86.5 600.5L87.0 600.5L87.5 600.6L88.0 600.7L88.5 600.7L89.0 600.8L89.5 600.9L90.0 601.0L90.5 601.0L91.0 601.1L91.5 601.2L92.0 601.2L92.5 601.3L93.0 601.4L93.5 601.4L94.0 601.5L94.5 601.6L95.0 601.7L95.5 601.7L96.0 601.8L96.5 601.9L97.0 601.9L97.5 602.0L98.0 602.1L98.5 602.2L99.0 602.2L99.5 602.3L100.0 602.4L100.5 602.4L101.0 602.5L101.5 602.6L102.0 602.7L102.5 602.7L103.0 602.8L103.5 602.9L104.0 602.9L104.5 603.0L105.0 603.1L105.5 603.2L106.0 603.2L106.5 603.3L107.0 603.4L107.5 603.6L108.0 603.7L108.5 603.8L109.0 604.0L109.5 604.1L110.0 604.2L110.5 604.3L111.0 604.5L111.5 604.6L112.0 604.7L112.5 604.9L113.0 605.0L113.5 605.1L114.0 605.3L114.5 605.5L115.0 605.8L115.5 606.1L116.0 606.4L116.5 606.7L117.0 607.0L117.5 607.3L118.0 607.6L118.5 607.9L119.0 608.3L119.5 608.9L120.0 609.4L120.5 609.9L121.0 610.5L121.5 611.0L122.0 611.5L122.5 612.1L123.0 612.6L123.5 613.1L124.0 613.6L124.5 614.2L125.0 614.7L125.5 615.2L126.0 615.7L126.5 616.2L127.0 616.6L127.5 617.1L128.0 617.6L128.5 618.0L129.0 618.5L129.5 619.0L130.0 619.4L130.5 619.9L131.0 620.4L131.5 620.8L132.0 621.3L132.5 621.8L133.0 622.2L133.5 622.7L134.0 623.2L134.5 623.7L135.0 624.2L135.5 624.7L136.0 625.2L136.5 625.7L137.0 626.2L137.5 626.7L138.0 627.2L138.5 627.7L139.0 628.2L139.5 628.7L140.0 629.2L140.5 629.7L141.0 630.2L141.5 630.8L142.0 631.3L142.5 631.8L143.0 632.3L143.5 632.8L144.0 633.3L144.5 633.9L145.0 634.4L145.5 634.9L146.0 635.4L146.5 635.9L147.0 636.4L147.5 636.9L148.0 637.5L148.5 638.0L149.0 638.5L149.5 639.0L150.0 639.5L150.5 640.0L151.0 640.6L151.5 641.1L152.0 641.6L152.5 642.1L153.0 642.6L153.5 643.1L154.0 643.7L154.5 644.0L155.0 644.4L155.5 644.7L156.0 645.1L156.5 645.4L157.0 645.8L157.5 646.1L158.0 646.5L158.5 646.8L159.0 647.2L159.5 647.5L160.0 647.7L160.5 647.8L161.0 648.0L161.5 648.2L162.0 648.3L162.5 648.5L163.0 648.7L163.5 648.9L164.0 649.0L164.5 649.2L165.0 649.4L165.5 649.5L166.0 649.7L166.5 649.9L167.0 650.0L167.5 650.2L168.0 650.4L168.5 650.5L169.0 650.7L169.5 650.8L170.0 650.9L170.5 651.0L171.0 651.1L171.5 651.2L172.0 651.3L172.5 651.4L173.0 651.5L173.5 651.6L174.0 651.6L174.5 651.7L175.0 651.8L175.5 651.9L176.0 652.0L176.5 652.1L177.0 652.2L177.5 652.3L178.0 652.4L178.5 652.5L179.0 652.6L179.5 652.6L180.0 652.7L180.5 652.8L181.0 652.9L181.5 653.0L182.0 653.1L182.5 653.2L183.0 653.2L183.5 653.3L184.0 653.3L184.5 653.3L185.0 653.4L185.5 653.4L186.0 653.4L186.5 653.5L187.0 653.5L187.5 653.5L188.0 653.6L188.5 653.6L189.0 653.6L189.5 653.7L190.0 653.7L190.5 653.8L191.0 653.8L191.5 653.8L192.0 653.9L192.5 653.9L193.0 653.9L193.5 654.0L194.0 654.0L194.5 654.0L195.0 654.1L195.5 654.1L196.0 654.1L196.5 654.2L197.0 654.2L197.5 654.3L198.0 654.3L198.5 654.3L199.0 654.3L199.5 654.4L200.0 654.4L200.5 654.4L201.0 654.4L201.5 654.4L202.0 654.4L202.5 654.4L203.0 654.5L203.5 654.5L204.0 654.5L204.5 654.5L205.0 654.5L205.5 654.5L206.0 654.5L206.5 654.6L207.0 654.6L207.5 654.6L208.0 654.6L208.5 654.6L209.0 654.6L209.5 654.6L210.0 654.7L210.5 654.7L211.0 654.7L211.5 654.7L212.0 654.7L212.5 654.7L213.0 654.7L213.5 654.8L214.0 654.8L214.5 654.8L215.0 654.8L215.5 654.8L216.0 654.8L216.5 654.8L217.0 654.9L217.5 654.9L218.0 654.9L218.5 654.9L219.0 654.9L219.5 654.9L220.0 654.9L220.5 654.9L221.0 654.9L221.5 654.9L222.0 654.9L222.5 654.9L223.0 654.9L223.5 654.9L224.0 654.9L224.5 654.9L225.0 654.9L225.5 655.0L226.0 655.0L226.5 655.0L227.0 655.0L227.5 655.0L228.0 655.0L228.5 655.0L229.0 655.0L229.5 655.0L230.0 655.0L230.5 655.0L231.0 655.0L231.5 655.0L232.0 655.0L232.5 655.0L233.0 655.0L233.5 655.0L234.0 655.0L234.5 655.0L235.0 655.0L235.5 655.0L236.0 655.0L236.5 655.0L237.0 655.1L237.5 655.1L238.0 655.1L238.5 655.1L239.0 655.1L239.5 655.1L240.0 655.1L240.5 655.1L241.0 655.1L241.5 655.1L242.0 655.1L242.5 655.1L243.0 655.1L243.5 655.1L244.0 655.1L244.5 655.1L245.0 655.1L245.5 655.1L246.0 655.1L246.5 655.1L247.0 655.1L247.5 655.1L248.0 655.1L248.5 655.1L249.0 655.2L249.5 655.2L250.0 655.2L250.5 655.2L251.0 655.2L251.5 655.2L252.0 655.2L252.5 655.2L253.0 655.2L253.5 655.2L254.0 655.2L254.5 655.2L255.0 655.2L255.5 655.2L256.0 655.2L256.5 655.2L257.0 655.2L257.5 655.2L258.0 655.2L258.5 655.2L259.0 655.2L259.5 655.2L260.0 655.2L260.5 655.3L261.0 655.3L261.5 655.3L262.0 655.3L262.5 655.3L263.0 655.3L263.5 655.3L264.0 655.3L264.5 655.3L265.0 655.3L265.5 655.3L266.0 655.3L266.5 655.3L267.0 655.3L267.5 655.3L268.0 655.3L268.5 655.3L269.0 655.3L269.5 655.3L270.0 655.3L270.5 655.3L271.0 655.3L271.5 655.3L272.0 655.3L272.5 655.4L273.0 655.4L273.5 655.4L274.0 655.4L274.5 655.4L275.0 655.4L275.5 655.4L276.0 655.4L276.5 655.4L277.0 655.4L277.5 655.4L278.0 655.4L278.5 655.4L279.0 655.4L279.5 655.4L280.0 655.4L280.5 655.4L281.0 655.4L281.5 655.4L282.0 655.4L282.5 655.4L283.0 655.4L283.5 655.4L284.0 655.5L284.5 655.5L285.0 655.5L285.5 655.5L286.0 655.5L286.5 655.5L287.0 655.5L287.5 655.5L288.0 655.5L288.5 655.5L289.0 655.5L289.5 655.5L290.0 655.5L290.5 655.5L291.0 655.5L291.5 655.5L292.0 655.5L292.5 655.5L293.0 655.5L293.5 655.5L294.0 655.5L294.5 655.5L295.0 655.5L295.5 655.6L296.0 655.6L296.5 655.6L297.0 655.6L297.5 655.6L298.0 655.6L298.5 655.6L299.0 655.6L299.5 655.6L300.0 655.6L300.5 655.6L301.0 655.6L301.5 655.6L302.0 655.6L302.5 655.6L303.0 655.6L303.5 655.6L304.0 655.6L304.5 655.6L305.0 655.6L305.5 655.6L306.0 655.6L306.5 655.6L307.0 655.6L307.5 655.7L308.0 655.7L308.5 655.7L309.0 655.7L309.5 655.7L310.0 655.7L310.5 655.7L311.0 655.7L311.5 655.7L312.0 655.7L312.5 655.7L313.0 655.7L313.5 655.7L314.0 655.7L314.5 655.7L315.0 655.7L315.5 655.7L316.0 655.7L316.5 655.7L317.0 655.7L317.5 655.7L318.0 655.7L318.5 655.7" fill="none" stroke="#4a4a4a" stroke-width="1.2"/>
</g>
<rect x="151" y="586.1" width="159" height="14.6" fill="#fff"/>
<text x="245.5" y="599.4" text-anchor="end">Analytical</text>
<path d="M255.5 593.91H299.6" stroke="#777" stroke-width="1.4"/>
<path class="tk" d="M68.5 679.2v-6M68.5 579.7v6M118.5 679.2v-6M118.5 579.7v6M168.5 679.2v-6M168.5 579.7v6M218.5 679.2v-6M218.5 579.7v6M268.5 679.2v-6M268.5 579.7v6M318.5 679.2v-6M318.5 579.7v6M68.5 679.2h6M318.5 679.2h-6M68.5 650.77h6M318.5 650.77h-6M68.5 622.34h6M318.5 622.34h-6M68.5 593.91h6M318.5 593.91h-6"/>
<rect class="fr" x="68.5" y="579.7" width="250" height="99.5"/>
<text x="70.5" y="700.8" text-anchor="middle">0</text>
<text x="120.5" y="700.8" text-anchor="middle">5</text>
<text x="170.5" y="700.8" text-anchor="middle">10</text>
<text x="220.5" y="700.8" text-anchor="middle">15</text>
<text x="270.5" y="700.8" text-anchor="middle">20</text>
<text x="320.5" y="700.8" text-anchor="middle">25</text>
<text x="59.2" y="685.3" text-anchor="end">0</text>
<text x="59.2" y="656.87" text-anchor="end">0.2</text>
<text x="59.2" y="628.44" text-anchor="end">0.4</text>
<text x="59.2" y="600.01" text-anchor="end">0.6</text>
<text x="193.5" y="724.2" text-anchor="middle">Frequency [Hz]</text>
<text transform="translate(11.8,629.45) rotate(-90)" text-anchor="middle">Phase vel. [km/s]</text>
<path class="gr" d="M515.3 580.5V679.1M540.2 580.5V679.1M565.1 580.5V679.1M491.1 666.69H590M491.1 641.86H590M491.1 617.04H590M491.1 592.21H590"/>
<path d="M502.8 666.7L577.5 666.7L540.2 656.0Z" fill="none" stroke="#9400D3" stroke-width="1.3"/>
<path d="M499.8 668.5L502.8 663.5L505.8 668.5ZM574.5 668.5L577.5 663.5L580.5 668.5ZM537.2 603.9L540.2 598.9L543.2 603.9ZM537.2 625.5L540.2 620.5L543.2 625.5ZM537.2 646.9L540.2 641.9L543.2 646.9ZM537.2 657.8L540.2 652.8L543.2 657.8Z" fill="#9400D3"/>
<path class="tk" d="M490.4 679.1v-6M490.4 579.8v6M515.3 679.1v-6M515.3 579.8v6M540.2 679.1v-6M540.2 579.8v6M565.1 679.1v-6M565.1 579.8v6M590 679.1v-6M590 579.8v6M490.4 666.69h6M590 666.69h-6M490.4 641.86h6M590 641.86h-6M490.4 617.04h6M590 617.04h-6M490.4 592.21h6M590 592.21h-6"/>
<rect class="fr" x="490.4" y="579.8" width="99.6" height="99.3"/>
<text x="490.7" y="700.7" text-anchor="middle">-2</text>
<text x="515.6" y="700.7" text-anchor="middle">-1</text>
<text x="542.2" y="700.7" text-anchor="middle">0</text>
<text x="567.1" y="700.7" text-anchor="middle">1</text>
<text x="592" y="700.7" text-anchor="middle">2</text>
<text x="481.1" y="672.79" text-anchor="end">0</text>
<text x="481.1" y="647.96" text-anchor="end">1</text>
<text x="481.1" y="623.14" text-anchor="end">2</text>
<text x="481.1" y="598.31" text-anchor="end">3</text>
<text x="540.2" y="724.1" text-anchor="middle">Position [m]</text>
<text transform="translate(452.1,629.45) rotate(-90)" text-anchor="middle">Position [m]</text>
<clipPath id="c570X1"><rect x="64.5" y="741.8" width="258.0" height="107.5"/></clipPath>
<path class="gr" d="M118.5 746.5V845.3M168.5 746.5V845.3M218.5 746.5V845.3M268.5 746.5V845.3M69.2 820.42H318.5M69.2 795.55H318.5M69.2 770.67H318.5"/>
<g clip-path="url(#c570X1)">
<path class="eb" style="stroke-width:0.55" stroke-opacity="1.0" d="M88.51 841.68V842.49M89.71 841.38V842.07M91.26 843.47V843.84M92.43 840.38V840.86M93.83 841.33V842.10M95.43 840.27V841.10M96.24 838.31V839.09M97.62 838.21V838.83M99.44 839.39V840.01M100.73 837.18V837.69M101.58 835.57V836.16M103.46 837.85V838.60M104.69 834.41V834.78M104.42 837.73V838.45M105.79 831.29V831.83M107.41 830.55V831.02M108.66 828.93V829.54M109.92 831.96V832.70M111.19 828.97V829.59M112.78 830.48V831.16M114.37 828.13V828.65M115.75 825.48V825.97M115.21 823.43V823.95M116.48 825.85V826.51M117.64 824.48V824.87M118.79 818.50V818.87M119.54 819.41V819.96M120.64 816.04V816.68M121.43 821.37V821.85M122.29 821.16V821.62M123.71 816.14V816.88M124.75 813.04V813.43M125.76 817.54V818.26M126.70 812.14V812.69M127.25 816.07V816.73M128.35 811.45V811.93M129.30 812.23V812.93M130.49 810.26V810.85M131.53 808.20V808.77M132.78 805.06V805.53M133.39 808.87V809.40M134.22 803.54V804.16M134.45 802.16V802.67M135.55 800.73V801.35M136.57 804.08V804.91M137.65 803.66V804.19M138.55 801.01V801.62M139.32 799.76V800.45M140.66 799.49V800.06M141.50 797.95V798.54M142.21 799.30V800.13M143.70 796.25V796.97M144.33 797.27V797.88M144.62 797.53V798.11M146.03 793.56V794.39M146.83 791.59V792.35M148.07 792.64V793.36M149.48 791.12V791.89M151.10 791.33V791.72M152.24 791.66V792.28M153.36 790.12V790.74M151.69 787.39V787.94M152.70 788.08V788.60M154.65 787.91V788.28M152.64 802.26V802.77M153.73 802.36V802.83M155.16 804.82V805.24M156.35 804.38V804.88M156.32 808.49V808.95M158.12 806.73V807.16M159.04 809.12V809.73M160.43 809.12V809.84M161.63 809.54V809.98M163.19 811.48V812.22M164.73 808.40V808.95M165.90 813.52V814.21M167.33 812.66V813.17M168.65 811.16V811.90M168.37 815.51V815.99M169.58 817.18V817.60M171.03 814.05V814.83M172.23 815.85V816.66M173.31 814.71V815.43M174.73 810.37V811.08M175.98 811.03V811.83M177.38 816.24V816.64M178.82 810.92V811.59M180.06 811.68V812.15M180.99 811.02V811.78M182.40 815.36V815.76M183.64 810.88V811.34M184.86 816.88V817.51M185.97 812.44V813.04M187.45 815.38V815.89M187.74 807.23V807.95M188.73 810.64V811.17M190.53 804.37V804.84M191.78 806.34V806.92M192.92 803.01V803.74M194.76 802.54V803.11M194.59 802.29V803.07M196.06 800.99V801.54M197.29 796.49V797.18M198.54 795.13V795.93M200.31 796.97V797.55M201.44 793.43V794.02M201.78 807.46V807.83M202.82 808.29V808.77M203.89 809.69V810.25M205.25 809.89V810.54M206.69 811.20V811.74M208.02 810.84V811.57M209.22 812.18V812.79M206.75 821.06V821.55M207.87 819.39V820.20M209.27 825.91V826.44M210.40 824.11V824.83M211.71 819.18V819.54M213.21 826.02V826.62M214.12 823.90V824.55M215.91 826.76V827.31M216.70 821.27V821.70M218.06 820.84V821.22M219.77 825.00V825.83M220.61 826.54V827.12M222.04 822.29V822.79M223.35 827.40V827.80M224.46 823.73V824.50M226.09 825.00V825.58M227.53 820.81V821.21M228.76 825.24V826.04M230.11 823.03V823.71M231.44 827.31V827.82M232.31 826.55V827.35M233.93 826.41V826.91M235.15 827.26V828.01M236.43 827.63V828.23M232.45 811.31V815.34M233.34 813.85V818.44M234.28 809.83V816.26M235.70 811.07V815.93M236.67 816.82V820.20M237.32 812.57V816.39M238.46 808.01V813.46M239.32 817.19V820.20M240.23 813.82V819.64M241.70 813.17V816.34M242.54 806.24V809.29M243.58 804.69V808.96M244.56 805.91V811.55M245.30 806.12V811.44M246.60 807.45V813.72M247.54 804.69V808.12M248.21 813.06V818.06M249.63 804.27V807.28M250.20 809.17V814.78M250.44 811.27V815.82M251.63 804.93V813.06M252.40 806.72V814.90M253.62 810.27V817.33M254.47 814.15V818.23M255.50 810.69V815.51M256.63 810.98V816.72M257.51 813.62V821.04M258.36 812.17V818.21M259.33 814.93V819.05M260.22 809.93V815.07M261.33 811.19V818.81M262.55 807.17V810.80M263.75 813.37V820.60M264.59 809.12V814.31M265.52 805.54V813.15M266.23 812.92V819.48M267.37 806.65V812.07M268.22 803.73V808.20M268.40 802.45V811.72M269.71 801.51V807.47M270.34 806.65V815.45M271.59 804.68V812.79M272.33 806.26V812.82M273.73 809.52V816.73M274.58 803.33V811.89M275.65 810.81V820.36M276.22 804.31V810.19M277.26 809.98V814.80M278.33 799.62V808.32M279.42 806.80V814.32M280.39 812.24V818.88M281.71 800.28V807.84M282.68 807.33V815.89M283.69 802.24V807.49M284.51 812.70V820.12M285.48 805.63V812.78M286.41 812.50V818.46M286.67 806.14V817.07M287.70 807.95V815.60M288.68 810.48V820.16M289.44 803.63V808.46M290.59 811.36V817.95M291.57 803.08V810.16M292.35 807.02V813.72M293.34 808.03V815.97M294.65 800.35V807.64M295.77 805.57V815.66M296.69 799.68V810.25M297.56 799.92V806.43M298.50 803.44V811.61M299.24 807.47V816.27M300.42 800.95V810.40M301.53 809.79V817.41M302.75 808.39V813.74M303.66 807.31V813.36M303.51 795.50V805.94M304.33 808.68V818.00M305.36 793.54V806.54M306.79 796.64V804.84M307.58 800.67V810.88M308.52 806.83V814.03M309.23 800.20V807.50M310.72 800.22V808.63M312.74 815.26V822.84M313.68 808.30V821.49M314.50 813.74V827.11M315.79 807.85V819.51M316.61 812.92V824.90M317.50 807.06V813.07M89.50 837.04V837.64M109.50 826.10V826.69M132.50 776.64V781.62M132.50 785.60V790.57M157.50 797.24V797.84M178.00 823.11V823.71M197.50 821.12V821.72M247.50 823.91V828.88M261.50 787.59V799.53M292.50 823.91V828.88M294.50 826.89V831.87M302.50 821.42V827.39M313.50 775.65V795.55M314.50 825.40V835.35"/><path class="pt" d="M88.51 838.98v6.2M89.71 838.63v6.2M91.26 840.56v6.2M92.43 837.52v6.2M93.83 838.61v6.2M95.43 837.58v6.2M96.24 835.60v6.2M97.62 835.42v6.2M99.44 836.60v6.2M100.73 834.33v6.2M101.58 832.76v6.2M103.46 835.12v6.2M104.69 831.49v6.2M104.42 834.99v6.2M105.79 828.46v6.2M107.41 827.68v6.2M108.66 826.13v6.2M109.92 829.23v6.2M111.19 826.18v6.2M112.78 827.72v6.2M114.37 825.29v6.2M115.75 822.63v6.2M115.21 820.59v6.2M116.48 823.08v6.2M117.64 821.58v6.2M118.79 815.59v6.2M119.54 816.59v6.2M120.64 813.26v6.2M121.43 818.51v6.2M122.29 818.29v6.2M123.71 813.41v6.2M124.75 810.14v6.2M125.76 814.80v6.2M126.70 809.31v6.2M127.25 813.30v6.2M128.35 808.59v6.2M129.30 809.48v6.2M130.49 807.45v6.2M131.53 805.38v6.2M132.78 802.20v6.2M133.39 806.04v6.2M134.22 800.75v6.2M134.45 799.31v6.2M135.55 797.94v6.2M136.57 801.39v6.2M137.65 800.83v6.2M138.55 798.22v6.2M139.32 797.01v6.2M140.66 796.67v6.2M141.50 795.14v6.2M142.21 796.61v6.2M143.70 793.51v6.2M144.33 794.48v6.2M144.62 794.72v6.2M146.03 790.88v6.2M146.83 788.87v6.2M148.07 789.90v6.2M149.48 788.41v6.2M151.10 788.43v6.2M152.24 788.87v6.2M153.36 787.33v6.2M151.69 784.56v6.2M152.70 785.24v6.2M154.65 785.00v6.2M152.64 799.41v6.2M153.73 799.49v6.2M155.16 801.93v6.2M156.35 801.53v6.2M156.32 805.62v6.2M158.12 803.85v6.2M159.04 806.32v6.2M160.43 806.38v6.2M161.63 806.66v6.2M163.19 808.75v6.2M164.73 805.57v6.2M165.90 810.76v6.2M167.33 809.81v6.2M168.65 808.43v6.2M168.37 812.65v6.2M169.58 814.29v6.2M171.03 811.34v6.2M172.23 813.15v6.2M173.31 811.97v6.2M174.73 807.63v6.2M175.98 808.33v6.2M177.38 813.34v6.2M178.82 808.16v6.2M180.06 808.81v6.2M180.99 808.30v6.2M182.40 812.46v6.2M183.64 808.01v6.2M184.86 814.09v6.2M185.97 809.64v6.2M187.45 812.53v6.2M187.74 804.49v6.2M188.73 807.81v6.2M190.53 801.51v6.2M191.78 803.53v6.2M192.92 800.28v6.2M194.76 799.73v6.2M194.59 799.58v6.2M196.06 798.16v6.2M197.29 793.74v6.2M198.54 792.43v6.2M200.31 794.16v6.2M201.44 790.62v6.2M201.78 804.54v6.2M202.82 805.43v6.2M203.89 806.87v6.2M205.25 807.12v6.2M206.69 808.37v6.2M208.02 808.11v6.2M209.22 809.38v6.2M206.75 818.20v6.2M207.87 816.69v6.2M209.27 823.07v6.2M210.40 821.37v6.2M211.71 816.26v6.2M213.21 823.22v6.2M214.12 821.13v6.2M215.91 823.94v6.2M216.70 818.39v6.2M218.06 817.93v6.2M219.77 822.32v6.2M220.61 823.73v6.2M222.04 819.44v6.2M223.35 824.50v6.2M224.46 821.01v6.2M226.09 822.19v6.2M227.53 817.91v6.2M228.76 822.54v6.2M230.11 820.27v6.2M231.44 824.47v6.2M232.31 823.85v6.2M233.93 823.56v6.2M235.15 824.54v6.2M236.43 824.83v6.2M232.45 810.22v6.2M233.34 813.05v6.2M234.28 809.94v6.2M235.70 810.40v6.2M236.67 815.41v6.2M237.32 811.38v6.2M238.46 807.64v6.2M239.32 815.60v6.2M240.23 813.63v6.2M241.70 811.65v6.2M242.54 804.66v6.2M243.58 803.72v6.2M244.56 805.63v6.2M245.30 805.68v6.2M246.60 807.49v6.2M247.54 803.30v6.2M248.21 812.46v6.2M249.63 802.68v6.2M250.20 808.88v6.2M250.44 810.44v6.2M251.63 805.89v6.2M252.40 807.71v6.2M253.62 810.70v6.2M254.47 813.09v6.2M255.50 810.00v6.2M256.63 810.75v6.2M257.51 814.23v6.2M258.36 812.09v6.2M259.33 813.89v6.2M260.22 809.40v6.2M261.33 811.90v6.2M262.55 805.89v6.2M263.75 813.89v6.2M264.59 808.62v6.2M265.52 806.24v6.2M266.23 813.10v6.2M267.37 806.26v6.2M268.22 802.87v6.2M268.40 803.98v6.2M269.71 801.39v6.2M270.34 807.95v6.2M271.59 805.63v6.2M272.33 806.44v6.2M273.73 810.03v6.2M274.58 804.51v6.2M275.65 812.48v6.2M276.22 804.15v6.2M277.26 809.29v6.2M278.33 800.87v6.2M279.42 807.46v6.2M280.39 812.46v6.2M281.71 800.96v6.2M282.68 808.51v6.2M283.69 801.77v6.2M284.51 813.31v6.2M285.48 806.11v6.2M286.41 812.38v6.2M286.67 808.50v6.2M287.70 808.68v6.2M288.68 812.22v6.2M289.44 802.95v6.2M290.59 811.55v6.2M291.57 803.52v6.2M292.35 807.27v6.2M293.34 808.90v6.2M294.65 800.90v6.2M295.77 807.52v6.2M296.69 801.86v6.2M297.56 800.08v6.2M298.50 804.42v6.2M299.24 808.77v6.2M300.42 802.57v6.2M301.53 810.50v6.2M302.75 807.97v6.2M303.66 807.23v6.2M303.51 797.62v6.2M304.33 810.24v6.2M305.36 796.94v6.2M306.79 797.64v6.2M307.58 802.67v6.2M308.52 807.33v6.2M309.23 800.75v6.2M310.72 801.33v6.2M312.74 815.95v6.2M313.68 811.80v6.2M314.50 817.32v6.2M315.79 810.58v6.2M316.61 815.81v6.2M317.50 806.96v6.2M89.50 834.24v6.2M109.50 823.29v6.2M132.50 776.03v6.2M132.50 784.99v6.2M157.50 794.44v6.2M178.00 820.31v6.2M197.50 818.32v6.2M247.50 823.29v6.2M261.50 790.46v6.2M292.50 823.29v6.2M294.50 826.28v6.2M302.50 821.30v6.2M313.50 782.50v6.2M314.50 827.27v6.2"/><path class="ph" d="M85.41 842.5h6.2M85.51 841.5h6.0M85.51 842.5h6.0M86.61 841.5h6.2M86.71 841.5h6.0M86.71 842.5h6.0M88.16 843.5h6.2M88.26 843.5h6.0M88.26 843.5h6.0M89.33 840.5h6.2M89.43 840.5h6.0M89.43 840.5h6.0M90.73 841.5h6.2M90.83 841.5h6.0M90.83 842.5h6.0M92.33 840.5h6.2M92.43 840.5h6.0M92.43 841.5h6.0M93.14 838.5h6.2M93.24 838.5h6.0M93.24 839.5h6.0M94.52 838.5h6.2M94.62 838.5h6.0M94.62 838.5h6.0M96.34 839.5h6.2M96.44 839.5h6.0M96.44 840.5h6.0M97.63 837.5h6.2M97.73 837.5h6.0M97.73 837.5h6.0M98.48 835.5h6.2M98.58 835.5h6.0M98.58 836.5h6.0M100.36 838.5h6.2M100.46 837.5h6.0M100.46 838.5h6.0M101.59 834.5h6.2M101.69 834.5h6.0M101.69 834.5h6.0M101.32 838.5h6.2M101.42 837.5h6.0M101.42 838.5h6.0M102.69 831.5h6.2M102.79 831.5h6.0M102.79 831.5h6.0M104.31 830.5h6.2M104.41 830.5h6.0M104.41 831.5h6.0M105.56 829.5h6.2M105.66 828.5h6.0M105.66 829.5h6.0M106.82 832.5h6.2M106.92 831.5h6.0M106.92 832.5h6.0M108.09 829.5h6.2M108.19 828.5h6.0M108.19 829.5h6.0M109.68 830.5h6.2M109.78 830.5h6.0M109.78 831.5h6.0M111.27 828.5h6.2M111.37 828.5h6.0M111.37 828.5h6.0M112.65 825.5h6.2M112.75 825.5h6.0M112.75 825.5h6.0M112.11 823.5h6.2M112.21 823.5h6.0M112.21 823.5h6.0M113.38 826.5h6.2M113.48 825.5h6.0M113.48 826.5h6.0M114.54 824.5h6.2M114.64 824.5h6.0M114.64 824.5h6.0M115.69 818.5h6.2M115.79 818.5h6.0M115.79 818.5h6.0M116.44 819.5h6.2M116.54 819.5h6.0M116.54 819.5h6.0M117.54 816.5h6.2M117.64 816.5h6.0M117.64 816.5h6.0M118.33 821.5h6.2M118.43 821.5h6.0M118.43 821.5h6.0M119.19 821.5h6.2M119.29 821.5h6.0M119.29 821.5h6.0M120.61 816.5h6.2M120.71 816.5h6.0M120.71 816.5h6.0M121.65 813.5h6.2M121.75 813.5h6.0M121.75 813.5h6.0M122.66 817.5h6.2M122.76 817.5h6.0M122.76 818.5h6.0M123.60 812.5h6.2M123.70 812.5h6.0M123.70 812.5h6.0M124.15 816.5h6.2M124.25 816.5h6.0M124.25 816.5h6.0M125.25 811.5h6.2M125.35 811.5h6.0M125.35 811.5h6.0M126.20 812.5h6.2M126.30 812.5h6.0M126.30 812.5h6.0M127.39 810.5h6.2M127.49 810.5h6.0M127.49 810.5h6.0M128.43 808.5h6.2M128.53 808.5h6.0M128.53 808.5h6.0M129.68 805.5h6.2M129.78 805.5h6.0M129.78 805.5h6.0M130.29 809.5h6.2M130.39 808.5h6.0M130.39 809.5h6.0M131.12 803.5h6.2M131.22 803.5h6.0M131.22 804.5h6.0M131.35 802.5h6.2M131.45 802.5h6.0M131.45 802.5h6.0M132.45 801.5h6.2M132.55 800.5h6.0M132.55 801.5h6.0M133.47 804.5h6.2M133.57 804.5h6.0M133.57 804.5h6.0M134.55 803.5h6.2M134.65 803.5h6.0M134.65 804.5h6.0M135.45 801.5h6.2M135.55 801.5h6.0M135.55 801.5h6.0M136.22 800.5h6.2M136.32 799.5h6.0M136.32 800.5h6.0M137.56 799.5h6.2M137.66 799.5h6.0M137.66 800.5h6.0M138.40 798.5h6.2M138.50 797.5h6.0M138.50 798.5h6.0M139.11 799.5h6.2M139.21 799.5h6.0M139.21 800.5h6.0M140.60 796.5h6.2M140.70 796.5h6.0M140.70 796.5h6.0M141.23 797.5h6.2M141.33 797.5h6.0M141.33 797.5h6.0M141.52 797.5h6.2M141.62 797.5h6.0M141.62 798.5h6.0M142.93 793.5h6.2M143.03 793.5h6.0M143.03 794.5h6.0M143.73 791.5h6.2M143.83 791.5h6.0M143.83 792.5h6.0M144.97 792.5h6.2M145.07 792.5h6.0M145.07 793.5h6.0M146.38 791.5h6.2M146.48 791.5h6.0M146.48 791.5h6.0M148.00 791.5h6.2M148.10 791.5h6.0M148.10 791.5h6.0M149.14 791.5h6.2M149.24 791.5h6.0M149.24 792.5h6.0M150.26 790.5h6.2M150.36 790.5h6.0M150.36 790.5h6.0M148.59 787.5h6.2M148.69 787.5h6.0M148.69 787.5h6.0M149.60 788.5h6.2M149.70 788.5h6.0M149.70 788.5h6.0M151.55 788.5h6.2M151.65 787.5h6.0M151.65 788.5h6.0M149.54 802.5h6.2M149.64 802.5h6.0M149.64 802.5h6.0M150.63 802.5h6.2M150.73 802.5h6.0M150.73 802.5h6.0M152.06 805.5h6.2M152.16 804.5h6.0M152.16 805.5h6.0M153.25 804.5h6.2M153.35 804.5h6.0M153.35 804.5h6.0M153.22 808.5h6.2M153.32 808.5h6.0M153.32 808.5h6.0M155.02 806.5h6.2M155.12 806.5h6.0M155.12 807.5h6.0M155.94 809.5h6.2M156.04 809.5h6.0M156.04 809.5h6.0M157.33 809.5h6.2M157.43 809.5h6.0M157.43 809.5h6.0M158.53 809.5h6.2M158.63 809.5h6.0M158.63 809.5h6.0M160.09 811.5h6.2M160.19 811.5h6.0M160.19 812.5h6.0M161.63 808.5h6.2M161.73 808.5h6.0M161.73 808.5h6.0M162.80 813.5h6.2M162.90 813.5h6.0M162.90 814.5h6.0M164.23 812.5h6.2M164.33 812.5h6.0M164.33 813.5h6.0M165.55 811.5h6.2M165.65 811.5h6.0M165.65 811.5h6.0M165.27 815.5h6.2M165.37 815.5h6.0M165.37 815.5h6.0M166.48 817.5h6.2M166.58 817.5h6.0M166.58 817.5h6.0M167.93 814.5h6.2M168.03 814.5h6.0M168.03 814.5h6.0M169.13 816.5h6.2M169.23 815.5h6.0M169.23 816.5h6.0M170.21 815.5h6.2M170.31 814.5h6.0M170.31 815.5h6.0M171.63 810.5h6.2M171.73 810.5h6.0M171.73 811.5h6.0M172.88 811.5h6.2M172.98 811.5h6.0M172.98 811.5h6.0M174.28 816.5h6.2M174.38 816.5h6.0M174.38 816.5h6.0M175.72 811.5h6.2M175.82 810.5h6.0M175.82 811.5h6.0M176.96 811.5h6.2M177.06 811.5h6.0M177.06 812.5h6.0M177.89 811.5h6.2M177.99 811.5h6.0M177.99 811.5h6.0M179.30 815.5h6.2M179.40 815.5h6.0M179.40 815.5h6.0M180.54 811.5h6.2M180.64 810.5h6.0M180.64 811.5h6.0M181.76 817.5h6.2M181.86 816.5h6.0M181.86 817.5h6.0M182.87 812.5h6.2M182.97 812.5h6.0M182.97 813.5h6.0M184.35 815.5h6.2M184.45 815.5h6.0M184.45 815.5h6.0M184.64 807.5h6.2M184.74 807.5h6.0M184.74 807.5h6.0M185.63 810.5h6.2M185.73 810.5h6.0M185.73 811.5h6.0M187.43 804.5h6.2M187.53 804.5h6.0M187.53 804.5h6.0M188.68 806.5h6.2M188.78 806.5h6.0M188.78 806.5h6.0M189.82 803.5h6.2M189.92 803.5h6.0M189.92 803.5h6.0M191.66 802.5h6.2M191.76 802.5h6.0M191.76 803.5h6.0M191.49 802.5h6.2M191.59 802.5h6.0M191.59 803.5h6.0M192.96 801.5h6.2M193.06 800.5h6.0M193.06 801.5h6.0M194.19 796.5h6.2M194.29 796.5h6.0M194.29 797.5h6.0M195.44 795.5h6.2M195.54 795.5h6.0M195.54 795.5h6.0M197.21 797.5h6.2M197.31 796.5h6.0M197.31 797.5h6.0M198.34 793.5h6.2M198.44 793.5h6.0M198.44 794.5h6.0M198.68 807.5h6.2M198.78 807.5h6.0M198.78 807.5h6.0M199.72 808.5h6.2M199.82 808.5h6.0M199.82 808.5h6.0M200.79 809.5h6.2M200.89 809.5h6.0M200.89 810.5h6.0M202.15 810.5h6.2M202.25 809.5h6.0M202.25 810.5h6.0M203.59 811.5h6.2M203.69 811.5h6.0M203.69 811.5h6.0M204.92 811.5h6.2M205.02 810.5h6.0M205.02 811.5h6.0M206.12 812.5h6.2M206.22 812.5h6.0M206.22 812.5h6.0M203.65 821.5h6.2M203.75 821.5h6.0M203.75 821.5h6.0M204.77 819.5h6.2M204.87 819.5h6.0M204.87 820.5h6.0M206.17 826.5h6.2M206.27 825.5h6.0M206.27 826.5h6.0M207.30 824.5h6.2M207.40 824.5h6.0M207.40 824.5h6.0M208.61 819.5h6.2M208.71 819.5h6.0M208.71 819.5h6.0M210.11 826.5h6.2M210.21 826.5h6.0M210.21 826.5h6.0M211.02 824.5h6.2M211.12 823.5h6.0M211.12 824.5h6.0M212.81 827.5h6.2M212.91 826.5h6.0M212.91 827.5h6.0M213.60 821.5h6.2M213.70 821.5h6.0M213.70 821.5h6.0M214.96 821.5h6.2M215.06 820.5h6.0M215.06 821.5h6.0M216.67 825.5h6.2M216.77 825.5h6.0M216.77 825.5h6.0M217.51 826.5h6.2M217.61 826.5h6.0M217.61 827.5h6.0M218.94 822.5h6.2M219.04 822.5h6.0M219.04 822.5h6.0M220.25 827.5h6.2M220.35 827.5h6.0M220.35 827.5h6.0M221.36 824.5h6.2M221.46 823.5h6.0M221.46 824.5h6.0M222.99 825.5h6.2M223.09 825.5h6.0M223.09 825.5h6.0M224.43 821.5h6.2M224.53 820.5h6.0M224.53 821.5h6.0M225.66 825.5h6.2M225.76 825.5h6.0M225.76 826.5h6.0M227.01 823.5h6.2M227.11 823.5h6.0M227.11 823.5h6.0M228.34 827.5h6.2M228.44 827.5h6.0M228.44 827.5h6.0M229.21 826.5h6.2M229.31 826.5h6.0M229.31 827.5h6.0M230.83 826.5h6.2M230.93 826.5h6.0M230.93 826.5h6.0M232.05 827.5h6.2M232.15 827.5h6.0M232.15 828.5h6.0M233.33 827.5h6.2M233.43 827.5h6.0M233.43 828.5h6.0M229.35 813.5h6.2M229.45 811.5h6.0M229.45 815.5h6.0M230.24 816.5h6.2M230.34 813.5h6.0M230.34 818.5h6.0M231.18 813.5h6.2M231.28 809.5h6.0M231.28 816.5h6.0M232.60 813.5h6.2M232.70 811.5h6.0M232.70 815.5h6.0M233.57 818.5h6.2M233.67 816.5h6.0M233.67 820.5h6.0M234.22 814.5h6.2M234.32 812.5h6.0M234.32 816.5h6.0M235.36 810.5h6.2M235.46 808.5h6.0M235.46 813.5h6.0M236.22 818.5h6.2M236.32 817.5h6.0M236.32 820.5h6.0M237.13 816.5h6.2M237.23 813.5h6.0M237.23 819.5h6.0M238.60 814.5h6.2M238.70 813.5h6.0M238.70 816.5h6.0M239.44 807.5h6.2M239.54 806.5h6.0M239.54 809.5h6.0M240.48 806.5h6.2M240.58 804.5h6.0M240.58 808.5h6.0M241.46 808.5h6.2M241.56 805.5h6.0M241.56 811.5h6.0M242.20 808.5h6.2M242.30 806.5h6.0M242.30 811.5h6.0M243.50 810.5h6.2M243.60 807.5h6.0M243.60 813.5h6.0M244.44 806.5h6.2M244.54 804.5h6.0M244.54 808.5h6.0M245.11 815.5h6.2M245.21 813.5h6.0M245.21 818.5h6.0M246.53 805.5h6.2M246.63 804.5h6.0M246.63 807.5h6.0M247.10 811.5h6.2M247.20 809.5h6.0M247.20 814.5h6.0M247.34 813.5h6.2M247.44 811.5h6.0M247.44 815.5h6.0M248.53 808.5h6.2M248.63 804.5h6.0M248.63 813.5h6.0M249.30 810.5h6.2M249.40 806.5h6.0M249.40 814.5h6.0M250.52 813.5h6.2M250.62 810.5h6.0M250.62 817.5h6.0M251.37 816.5h6.2M251.47 814.5h6.0M251.47 818.5h6.0M252.40 813.5h6.2M252.50 810.5h6.0M252.50 815.5h6.0M253.53 813.5h6.2M253.63 810.5h6.0M253.63 816.5h6.0M254.41 817.5h6.2M254.51 813.5h6.0M254.51 821.5h6.0M255.26 815.5h6.2M255.36 812.5h6.0M255.36 818.5h6.0M256.23 816.5h6.2M256.33 814.5h6.0M256.33 819.5h6.0M257.12 812.5h6.2M257.22 809.5h6.0M257.22 815.5h6.0M258.23 815.5h6.2M258.33 811.5h6.0M258.33 818.5h6.0M259.45 808.5h6.2M259.55 807.5h6.0M259.55 810.5h6.0M260.65 816.5h6.2M260.75 813.5h6.0M260.75 820.5h6.0M261.49 811.5h6.2M261.59 809.5h6.0M261.59 814.5h6.0M262.42 809.5h6.2M262.52 805.5h6.0M262.52 813.5h6.0M263.13 816.5h6.2M263.23 812.5h6.0M263.23 819.5h6.0M264.27 809.5h6.2M264.37 806.5h6.0M264.37 812.5h6.0M265.12 805.5h6.2M265.22 803.5h6.0M265.22 808.5h6.0M265.30 807.5h6.2M265.40 802.5h6.0M265.40 811.5h6.0M266.61 804.5h6.2M266.71 801.5h6.0M266.71 807.5h6.0M267.24 811.5h6.2M267.34 806.5h6.0M267.34 815.5h6.0M268.49 808.5h6.2M268.59 804.5h6.0M268.59 812.5h6.0M269.23 809.5h6.2M269.33 806.5h6.0M269.33 812.5h6.0M270.63 813.5h6.2M270.73 809.5h6.0M270.73 816.5h6.0M271.48 807.5h6.2M271.58 803.5h6.0M271.58 811.5h6.0M272.55 815.5h6.2M272.65 810.5h6.0M272.65 820.5h6.0M273.12 807.5h6.2M273.22 804.5h6.0M273.22 810.5h6.0M274.16 812.5h6.2M274.26 809.5h6.0M274.26 814.5h6.0M275.23 803.5h6.2M275.33 799.5h6.0M275.33 808.5h6.0M276.32 810.5h6.2M276.42 806.5h6.0M276.42 814.5h6.0M277.29 815.5h6.2M277.39 812.5h6.0M277.39 818.5h6.0M278.61 804.5h6.2M278.71 800.5h6.0M278.71 807.5h6.0M279.58 811.5h6.2M279.68 807.5h6.0M279.68 815.5h6.0M280.59 804.5h6.2M280.69 802.5h6.0M280.69 807.5h6.0M281.41 816.5h6.2M281.51 812.5h6.0M281.51 820.5h6.0M282.38 809.5h6.2M282.48 805.5h6.0M282.48 812.5h6.0M283.31 815.5h6.2M283.41 812.5h6.0M283.41 818.5h6.0M283.57 811.5h6.2M283.67 806.5h6.0M283.67 817.5h6.0M284.60 811.5h6.2M284.70 807.5h6.0M284.70 815.5h6.0M285.58 815.5h6.2M285.68 810.5h6.0M285.68 820.5h6.0M286.34 806.5h6.2M286.44 803.5h6.0M286.44 808.5h6.0M287.49 814.5h6.2M287.59 811.5h6.0M287.59 817.5h6.0M288.47 806.5h6.2M288.57 803.5h6.0M288.57 810.5h6.0M289.25 810.5h6.2M289.35 807.5h6.0M289.35 813.5h6.0M290.24 812.5h6.2M290.34 808.5h6.0M290.34 815.5h6.0M291.55 803.5h6.2M291.65 800.5h6.0M291.65 807.5h6.0M292.67 810.5h6.2M292.77 805.5h6.0M292.77 815.5h6.0M293.59 804.5h6.2M293.69 799.5h6.0M293.69 810.5h6.0M294.46 803.5h6.2M294.56 799.5h6.0M294.56 806.5h6.0M295.40 807.5h6.2M295.50 803.5h6.0M295.50 811.5h6.0M296.14 811.5h6.2M296.24 807.5h6.0M296.24 816.5h6.0M297.32 805.5h6.2M297.42 800.5h6.0M297.42 810.5h6.0M298.43 813.5h6.2M298.53 809.5h6.0M298.53 817.5h6.0M299.65 811.5h6.2M299.75 808.5h6.0M299.75 813.5h6.0M300.56 810.5h6.2M300.66 807.5h6.0M300.66 813.5h6.0M300.41 800.5h6.2M300.51 795.5h6.0M300.51 805.5h6.0M301.23 813.5h6.2M301.33 808.5h6.0M301.33 818.5h6.0M302.26 800.5h6.2M302.36 793.5h6.0M302.36 806.5h6.0M303.69 800.5h6.2M303.79 796.5h6.0M303.79 804.5h6.0M304.48 805.5h6.2M304.58 800.5h6.0M304.58 810.5h6.0M305.42 810.5h6.2M305.52 806.5h6.0M305.52 814.5h6.0M306.13 803.5h6.2M306.23 800.5h6.0M306.23 807.5h6.0M307.62 804.5h6.2M307.72 800.5h6.0M307.72 808.5h6.0M309.64 819.5h6.2M309.74 815.5h6.0M309.74 822.5h6.0M310.58 814.5h6.2M310.68 808.5h6.0M310.68 821.5h6.0M311.40 820.5h6.2M311.50 813.5h6.0M311.50 827.5h6.0M312.69 813.5h6.2M312.79 807.5h6.0M312.79 819.5h6.0M313.51 818.5h6.2M313.61 812.5h6.0M313.61 824.5h6.0M314.40 810.5h6.2M314.50 807.5h6.0M314.50 813.5h6.0M86.40 837.5h6.2M86.50 837.5h6.0M86.50 837.5h6.0M106.40 826.5h6.2M106.50 826.5h6.0M106.50 826.5h6.0M129.40 779.5h6.2M129.50 776.5h6.0M129.50 781.5h6.0M129.40 788.5h6.2M129.50 785.5h6.0M129.50 790.5h6.0M154.40 797.5h6.2M154.50 797.5h6.0M154.50 797.5h6.0M174.90 823.5h6.2M175.00 823.5h6.0M175.00 823.5h6.0M194.40 821.5h6.2M194.50 821.5h6.0M194.50 821.5h6.0M244.40 826.5h6.2M244.50 823.5h6.0M244.50 828.5h6.0M258.40 793.5h6.2M258.50 787.5h6.0M258.50 799.5h6.0M289.40 826.5h6.2M289.50 823.5h6.0M289.50 828.5h6.0M291.40 829.5h6.2M291.50 826.5h6.0M291.50 831.5h6.0M299.40 824.5h6.2M299.50 821.5h6.0M299.50 827.5h6.0M310.40 785.5h6.2M310.50 775.5h6.0M310.50 795.5h6.0M311.40 830.5h6.2M311.50 825.5h6.0M311.50 835.5h6.0"/>
</g>
<path class="tk" d="M68.5 845.3v-6M68.5 745.8v6M118.5 845.3v-6M118.5 745.8v6M168.5 845.3v-6M168.5 745.8v6M218.5 845.3v-6M218.5 745.8v6M268.5 845.3v-6M268.5 745.8v6M318.5 845.3v-6M318.5 745.8v6M68.5 845.3h6M318.5 845.3h-6M68.5 820.42h6M318.5 820.42h-6M68.5 795.55h6M318.5 795.55h-6M68.5 770.67h6M318.5 770.67h-6M68.5 745.8h6M318.5 745.8h-6"/>
<rect class="fr" x="68.5" y="745.8" width="250" height="99.5"/>
<text x="70.5" y="866.9" text-anchor="middle">0</text>
<text x="120.5" y="866.9" text-anchor="middle">5</text>
<text x="170.5" y="866.9" text-anchor="middle">10</text>
<text x="220.5" y="866.9" text-anchor="middle">15</text>
<text x="270.5" y="866.9" text-anchor="middle">20</text>
<text x="320.5" y="866.9" text-anchor="middle">25</text>
<text x="59.2" y="851.4" text-anchor="end">-1</text>
<text x="59.2" y="826.52" text-anchor="end">-0.5</text>
<text x="59.2" y="801.65" text-anchor="end">0</text>
<text x="59.2" y="776.77" text-anchor="end">0.5</text>
<text x="59.2" y="751.9" text-anchor="end">1</text>
<text x="193.5" y="890.3" text-anchor="middle">Frequency [Hz]</text>
<text transform="translate(11.8,795.55) rotate(-90)" text-anchor="middle">X1</text>
<clipPath id="c570Y1"><rect x="420.5" y="741.8" width="258.0" height="107.5"/></clipPath>
<path class="gr" d="M474.5 746.5V845.3M524.5 746.5V845.3M574.5 746.5V845.3M624.5 746.5V845.3M425.2 820.42H674.5M425.2 795.55H674.5M425.2 770.67H674.5"/>
<g clip-path="url(#c570Y1)">
<path class="eb" style="stroke-width:0.55" stroke-opacity="1.0" d="M443.31 797.34V797.86M444.61 799.36V799.95M446.07 799.79V800.27M447.23 796.98V797.50M448.77 795.72V796.49M450.22 802.46V802.94M451.39 798.40V798.86M452.65 794.69V795.45M453.66 801.75V802.11M455.41 802.52V803.22M456.44 798.11V798.72M457.90 798.09V798.59M458.77 799.40V800.20M460.08 797.00V797.66M461.38 802.69V803.37M462.84 800.35V800.93M463.93 796.77V797.41M465.48 801.07V801.82M466.94 798.79V799.19M467.83 803.48V803.88M469.42 798.78V799.24M470.87 797.61V798.35M472.11 797.06V797.67M473.50 803.57V804.26M474.73 799.41V800.16M465.31 792.07V792.56M466.64 791.25V791.68M467.80 790.78V791.29M468.88 790.28V790.90M470.01 791.64V792.07M471.30 791.02V791.69M472.46 810.08V810.71M473.98 812.43V813.16M475.66 812.08V812.63M475.57 802.02V802.57M476.98 797.77V798.20M477.80 798.78V799.59M479.39 803.85V804.23M480.70 797.38V798.10M481.89 797.01V797.62M483.26 804.19V804.58M484.45 799.67V800.41M485.28 803.69V804.33M486.49 803.40V804.05M488.26 799.56V800.11M489.19 801.53V802.25M490.80 806.48V807.28M490.68 796.53V797.01M491.65 795.54V795.97M492.85 792.72V793.29M494.12 791.63V792.39M495.50 791.72V792.45M496.95 796.17V796.87M498.44 791.34V792.15M499.30 791.01V791.42M496.42 803.83V804.49M497.85 801.49V802.22M499.38 804.07V804.64M500.21 804.55V805.35M501.65 802.61V802.98M503.10 805.03V805.73M504.55 809.52V809.99M508.28 764.44V764.80M509.78 766.45V767.02M511.21 770.17V770.97M504.51 806.02V806.45M505.77 806.19V806.68M506.77 800.87V801.60M508.30 800.71V801.20M509.86 804.88V805.68M510.54 799.59V800.37M512.14 805.75V806.19M513.66 794.71V795.18M514.58 796.73V797.51M515.62 800.69V801.17M516.92 798.41V799.00M518.26 797.34V797.85M519.56 803.62V804.07M521.17 802.80V803.61M522.35 799.74V800.53M523.42 806.67V807.34M524.24 783.57V784.39M525.77 788.95V789.77M527.02 784.14V784.73M528.73 785.20V785.63M529.73 788.08V788.54M531.42 789.82V790.29M532.31 790.25V790.99M533.65 788.13V788.55M535.35 787.19V788.00M536.23 788.15V788.85M528.40 799.74V800.25M530.02 798.68V799.44M531.33 803.67V804.49M532.74 802.42V802.98M534.29 802.35V802.76M535.81 801.42V802.18M537.29 805.41V805.90M538.58 806.36V806.86M540.16 800.25V800.97M541.95 804.40V804.85M543.21 802.86V803.70M544.47 802.63V803.45M546.04 805.12V805.53M547.67 809.03V809.76M549.19 803.18V803.94M550.24 803.09V803.79M537.77 787.48V788.07M538.99 792.18V793.00M540.15 787.95V788.57M541.36 791.79V792.53M542.61 791.87V792.58M543.91 790.36V791.10M545.09 788.62V789.24M546.33 790.80V791.44M547.49 792.07V792.58M549.08 791.77V792.50M550.12 786.60V787.01M551.71 787.18V787.94M552.85 790.76V791.58M553.88 788.01V788.57M555.06 789.98V790.49M556.76 791.22V791.97M557.58 792.06V792.71M559.39 788.39V788.83M560.66 787.96V788.32M561.46 789.76V790.37M562.99 786.54V787.19M564.50 789.53V790.05M565.60 786.00V786.56M552.23 779.88V780.34M554.94 780.03V780.60M556.97 781.19V781.59M559.11 780.42V780.81M561.45 778.37V779.02M563.28 777.96V778.79M566.27 785.28V785.67M567.64 788.18V789.00M569.22 786.34V787.12M570.56 788.78V789.18M571.84 785.69V786.47M573.67 788.88V789.56M574.64 786.38V786.75M576.38 784.22V784.94M577.58 787.78V788.54M575.50 777.74V778.23M576.64 777.51V778.02M577.89 779.15V779.71M579.31 779.72V780.42M578.48 796.18V796.88M579.63 796.08V796.91M581.17 795.72V796.17M582.63 796.47V796.93M583.94 796.76V797.34M585.43 796.32V796.80M582.53 802.12V802.70M583.67 801.76V802.42M585.00 804.74V805.55M586.02 801.23V801.73M587.75 806.38V807.07M588.74 803.13V803.53M589.93 804.51V805.13M591.38 801.07V801.57M592.23 805.50V806.30M593.78 802.59V803.43M595.18 803.11V803.84M596.05 801.87V802.31M597.73 801.60V802.23M588.37 812.40V812.99M589.61 811.21V811.64M590.82 808.69V809.42M592.41 809.91V810.65M593.70 810.20V810.59M594.68 809.87V810.49M596.08 809.39V809.97M597.55 808.71V809.28M599.02 811.62V812.29M600.22 811.73V812.34M601.58 810.38V811.03M602.77 813.57V814.20M604.13 810.91V811.72M604.95 814.50V814.97M606.77 810.38V810.86M606.24 798.49V799.25M607.90 797.02V797.83M609.06 800.24V800.69M610.30 796.33V797.11M611.36 795.79V796.15M612.43 799.92V800.75M609.72 785.26V789.39M610.91 786.02V789.31M612.07 783.84V788.87M613.56 786.59V790.29M615.26 786.62V791.16M616.27 783.74V788.24M614.43 800.65V805.23M615.87 804.51V807.39M616.93 799.17V804.74M618.27 797.73V802.56M619.69 801.94V804.59M621.36 800.75V805.80M622.45 801.45V805.58M624.01 800.22V804.67M625.11 803.89V807.04M626.69 804.37V809.34M624.52 792.53V796.36M625.75 789.88V794.60M627.35 791.46V795.88M628.22 791.15V793.60M629.91 789.16V792.96M630.77 793.32V797.63M632.01 793.48V795.88M633.34 793.25V798.60M635.06 791.49V796.10M635.97 790.68V793.83M637.62 791.74V796.86M626.24 810.62V815.80M627.90 810.71V813.50M628.92 809.61V813.29M630.30 811.30V814.93M631.39 809.58V813.33M632.57 810.77V814.77M632.23 805.41V807.92M633.75 805.01V810.56M635.51 806.40V809.21M636.88 800.58V805.93M638.30 802.61V808.16M639.66 804.51V808.48M640.74 801.00V805.39M642.02 802.36V805.83M643.56 804.57V808.35M645.51 808.56V814.25M647.04 809.63V813.46M648.24 807.62V810.76M649.38 806.94V813.73M651.00 808.83V813.66M652.39 806.87V810.88M653.34 805.75V812.00M655.12 800.93V807.42M655.89 803.94V809.54M657.28 809.26V814.17M658.72 802.14V807.88M660.10 804.18V807.25M661.52 807.73V811.85M659.54 790.39V797.16M660.75 795.09V801.72M662.20 789.40V794.50M662.95 791.26V794.62M664.48 795.53V801.40M665.72 788.00V794.59M666.88 794.92V800.76M668.49 788.69V793.69M669.37 795.36V801.42M670.65 788.85V795.68M672.11 791.78V798.57M673.39 791.74V797.16M674.52 795.86V799.10M493.50 782.32V782.91M504.50 809.18V809.78M507.50 786.30V786.89M606.50 821.92V828.88M615.00 774.65V779.63M619.50 783.31V783.91M564.50 797.74V798.34M565.50 800.23V800.82M639.50 818.43V822.41M644.50 793.26V793.86M650.50 815.45V820.42M655.50 778.14V783.11M665.50 812.46V816.44M664.50 825.40V840.32M670.50 822.91V832.86M672.50 806.99V811.97"/><path class="pt" d="M443.31 794.50v6.2M444.61 796.56v6.2M446.07 796.93v6.2M447.23 794.14v6.2M448.77 793.00v6.2M450.22 799.60v6.2M451.39 795.53v6.2M452.65 791.97v6.2M453.66 798.83v6.2M455.41 799.77v6.2M456.44 795.31v6.2M457.90 795.24v6.2M458.77 796.70v6.2M460.08 794.23v6.2M461.38 799.93v6.2M462.84 797.54v6.2M463.93 793.99v6.2M465.48 798.34v6.2M466.94 795.89v6.2M467.83 800.58v6.2M469.42 795.91v6.2M470.87 794.88v6.2M472.11 794.26v6.2M473.50 800.81v6.2M474.73 796.69v6.2M465.31 789.22v6.2M466.64 788.36v6.2M467.80 787.93v6.2M468.88 787.49v6.2M470.01 788.75v6.2M471.30 788.25v6.2M472.46 807.30v6.2M473.98 809.70v6.2M475.66 809.26v6.2M475.57 799.20v6.2M476.98 794.89v6.2M477.80 796.09v6.2M479.39 800.94v6.2M480.70 794.64v6.2M481.89 794.21v6.2M483.26 801.28v6.2M484.45 796.94v6.2M485.28 800.91v6.2M486.49 800.62v6.2M488.26 796.74v6.2M489.19 798.79v6.2M490.80 803.78v6.2M490.68 793.67v6.2M491.65 792.66v6.2M492.85 789.91v6.2M494.12 788.91v6.2M495.50 788.99v6.2M496.95 793.42v6.2M498.44 788.65v6.2M499.30 788.12v6.2M496.42 801.06v6.2M497.85 798.75v6.2M499.38 801.25v6.2M500.21 801.85v6.2M501.65 799.69v6.2M503.10 802.28v6.2M504.55 806.66v6.2M508.28 761.52v6.2M509.78 763.64v6.2M511.21 767.47v6.2M504.51 803.14v6.2M505.77 803.34v6.2M506.77 798.14v6.2M508.30 797.85v6.2M509.86 802.18v6.2M510.54 796.88v6.2M512.14 802.87v6.2M513.66 791.84v6.2M514.58 794.02v6.2M515.62 797.83v6.2M516.92 795.60v6.2M518.26 794.49v6.2M519.56 800.74v6.2M521.17 800.10v6.2M522.35 797.03v6.2M523.42 803.91v6.2M524.24 780.88v6.2M525.77 786.26v6.2M527.02 781.34v6.2M528.73 782.31v6.2M529.73 785.21v6.2M531.42 786.95v6.2M532.31 787.52v6.2M533.65 785.24v6.2M535.35 784.50v6.2M536.23 785.40v6.2M528.40 796.89v6.2M530.02 795.96v6.2M531.33 800.98v6.2M532.74 799.60v6.2M534.29 799.45v6.2M535.81 798.70v6.2M537.29 802.55v6.2M538.58 803.51v6.2M540.16 797.51v6.2M541.95 801.53v6.2M543.21 800.18v6.2M544.47 799.94v6.2M546.04 802.22v6.2M547.67 806.30v6.2M549.19 800.46v6.2M550.24 800.34v6.2M537.77 784.67v6.2M538.99 789.49v6.2M540.15 785.16v6.2M541.36 789.06v6.2M542.61 789.13v6.2M543.91 787.63v6.2M545.09 785.83v6.2M546.33 788.02v6.2M547.49 789.23v6.2M549.08 789.03v6.2M550.12 783.70v6.2M551.71 784.46v6.2M552.85 788.07v6.2M553.88 785.19v6.2M555.06 787.13v6.2M556.76 788.49v6.2M557.58 789.28v6.2M559.39 785.51v6.2M560.66 785.04v6.2M561.46 786.96v6.2M562.99 783.77v6.2M564.50 786.69v6.2M565.60 783.18v6.2M552.23 777.01v6.2M554.94 777.21v6.2M556.97 778.29v6.2M559.11 777.52v6.2M561.45 775.59v6.2M563.28 775.28v6.2M566.27 782.37v6.2M567.64 785.49v6.2M569.22 783.63v6.2M570.56 785.88v6.2M571.84 782.98v6.2M573.67 786.12v6.2M574.64 783.47v6.2M576.38 781.48v6.2M577.58 785.06v6.2M575.50 774.89v6.2M576.64 774.67v6.2M577.89 776.33v6.2M579.31 776.97v6.2M578.48 793.43v6.2M579.63 793.40v6.2M581.17 792.85v6.2M582.63 793.60v6.2M583.94 793.95v6.2M585.43 793.46v6.2M582.53 799.31v6.2M583.67 798.99v6.2M585.00 802.04v6.2M586.02 798.38v6.2M587.75 803.62v6.2M588.74 800.23v6.2M589.93 801.72v6.2M591.38 798.22v6.2M592.23 802.80v6.2M593.78 799.91v6.2M595.18 800.37v6.2M596.05 798.99v6.2M597.73 798.81v6.2M588.37 809.59v6.2M589.61 808.32v6.2M590.82 805.96v6.2M592.41 807.18v6.2M593.70 807.29v6.2M594.68 807.08v6.2M596.08 806.58v6.2M597.55 805.89v6.2M599.02 808.85v6.2M600.22 808.93v6.2M601.58 807.61v6.2M602.77 810.79v6.2M604.13 808.21v6.2M604.95 811.64v6.2M606.77 807.52v6.2M606.24 795.77v6.2M607.90 794.33v6.2M609.06 797.36v6.2M610.30 793.62v6.2M611.36 792.87v6.2M612.43 797.23v6.2M609.72 784.22v6.2M610.91 784.57v6.2M612.07 783.25v6.2M613.56 785.34v6.2M615.26 785.79v6.2M616.27 782.89v6.2M614.43 799.84v6.2M615.87 802.85v6.2M616.93 798.86v6.2M618.27 797.05v6.2M619.69 800.16v6.2M621.36 800.17v6.2M622.45 800.42v6.2M624.01 799.35v6.2M625.11 802.36v6.2M626.69 803.76v6.2M624.52 791.35v6.2M625.75 789.14v6.2M627.35 790.57v6.2M628.22 789.28v6.2M629.91 787.96v6.2M630.77 792.37v6.2M632.01 791.58v6.2M633.34 792.83v6.2M635.06 790.70v6.2M635.97 789.15v6.2M637.62 791.20v6.2M626.24 810.11v6.2M627.90 809.00v6.2M628.92 808.35v6.2M630.30 810.02v6.2M631.39 808.36v6.2M632.57 809.67v6.2M632.23 803.56v6.2M633.75 804.69v6.2M635.51 804.70v6.2M636.88 800.16v6.2M638.30 802.29v6.2M639.66 803.40v6.2M640.74 800.10v6.2M642.02 801.00v6.2M643.56 803.36v6.2M645.51 808.31v6.2M647.04 808.44v6.2M648.24 806.09v6.2M649.38 807.24v6.2M651.00 808.14v6.2M652.39 805.77v6.2M653.34 805.78v6.2M655.12 801.07v6.2M655.89 803.64v6.2M657.28 808.62v6.2M658.72 801.91v6.2M660.10 802.61v6.2M661.52 806.69v6.2M659.54 790.67v6.2M660.75 795.31v6.2M662.20 788.85v6.2M662.95 789.84v6.2M664.48 795.36v6.2M665.72 788.20v6.2M666.88 794.74v6.2M668.49 788.09v6.2M669.37 795.29v6.2M670.65 789.16v6.2M672.11 792.08v6.2M673.39 791.35v6.2M674.52 794.38v6.2M493.50 779.51v6.2M504.50 806.38v6.2M507.50 783.49v6.2M606.50 822.30v6.2M615.00 774.04v6.2M619.50 780.51v6.2M564.50 794.94v6.2M565.50 797.42v6.2M639.50 817.32v6.2M644.50 790.46v6.2M650.50 814.84v6.2M655.50 777.52v6.2M665.50 811.35v6.2M664.50 829.76v6.2M670.50 824.79v6.2M672.50 806.38v6.2"/><path class="ph" d="M440.21 797.5h6.2M440.31 797.5h6.0M440.31 797.5h6.0M441.51 799.5h6.2M441.61 799.5h6.0M441.61 799.5h6.0M442.97 800.5h6.2M443.07 799.5h6.0M443.07 800.5h6.0M444.13 797.5h6.2M444.23 796.5h6.0M444.23 797.5h6.0M445.67 796.5h6.2M445.77 795.5h6.0M445.77 796.5h6.0M447.12 802.5h6.2M447.22 802.5h6.0M447.22 802.5h6.0M448.29 798.5h6.2M448.39 798.5h6.0M448.39 798.5h6.0M449.55 795.5h6.2M449.65 794.5h6.0M449.65 795.5h6.0M450.56 801.5h6.2M450.66 801.5h6.0M450.66 802.5h6.0M452.31 802.5h6.2M452.41 802.5h6.0M452.41 803.5h6.0M453.34 798.5h6.2M453.44 798.5h6.0M453.44 798.5h6.0M454.80 798.5h6.2M454.90 798.5h6.0M454.90 798.5h6.0M455.67 799.5h6.2M455.77 799.5h6.0M455.77 800.5h6.0M456.98 797.5h6.2M457.08 797.5h6.0M457.08 797.5h6.0M458.28 803.5h6.2M458.38 802.5h6.0M458.38 803.5h6.0M459.74 800.5h6.2M459.84 800.5h6.0M459.84 800.5h6.0M460.83 797.5h6.2M460.93 796.5h6.0M460.93 797.5h6.0M462.38 801.5h6.2M462.48 801.5h6.0M462.48 801.5h6.0M463.84 798.5h6.2M463.94 798.5h6.0M463.94 799.5h6.0M464.73 803.5h6.2M464.83 803.5h6.0M464.83 803.5h6.0M466.32 799.5h6.2M466.42 798.5h6.0M466.42 799.5h6.0M467.77 797.5h6.2M467.87 797.5h6.0M467.87 798.5h6.0M469.01 797.5h6.2M469.11 797.5h6.0M469.11 797.5h6.0M470.40 803.5h6.2M470.50 803.5h6.0M470.50 804.5h6.0M471.63 799.5h6.2M471.73 799.5h6.0M471.73 800.5h6.0M462.21 792.5h6.2M462.31 792.5h6.0M462.31 792.5h6.0M463.54 791.5h6.2M463.64 791.5h6.0M463.64 791.5h6.0M464.70 791.5h6.2M464.80 790.5h6.0M464.80 791.5h6.0M465.78 790.5h6.2M465.88 790.5h6.0M465.88 790.5h6.0M466.91 791.5h6.2M467.01 791.5h6.0M467.01 792.5h6.0M468.20 791.5h6.2M468.30 791.5h6.0M468.30 791.5h6.0M469.36 810.5h6.2M469.46 810.5h6.0M469.46 810.5h6.0M470.88 812.5h6.2M470.98 812.5h6.0M470.98 813.5h6.0M472.56 812.5h6.2M472.66 812.5h6.0M472.66 812.5h6.0M472.47 802.5h6.2M472.57 802.5h6.0M472.57 802.5h6.0M473.88 797.5h6.2M473.98 797.5h6.0M473.98 798.5h6.0M474.70 799.5h6.2M474.80 798.5h6.0M474.80 799.5h6.0M476.29 804.5h6.2M476.39 803.5h6.0M476.39 804.5h6.0M477.60 797.5h6.2M477.70 797.5h6.0M477.70 798.5h6.0M478.79 797.5h6.2M478.89 797.5h6.0M478.89 797.5h6.0M480.16 804.5h6.2M480.26 804.5h6.0M480.26 804.5h6.0M481.35 800.5h6.2M481.45 799.5h6.0M481.45 800.5h6.0M482.18 804.5h6.2M482.28 803.5h6.0M482.28 804.5h6.0M483.39 803.5h6.2M483.49 803.5h6.0M483.49 804.5h6.0M485.16 799.5h6.2M485.26 799.5h6.0M485.26 800.5h6.0M486.09 801.5h6.2M486.19 801.5h6.0M486.19 802.5h6.0M487.70 806.5h6.2M487.80 806.5h6.0M487.80 807.5h6.0M487.58 796.5h6.2M487.68 796.5h6.0M487.68 797.5h6.0M488.55 795.5h6.2M488.65 795.5h6.0M488.65 795.5h6.0M489.75 793.5h6.2M489.85 792.5h6.0M489.85 793.5h6.0M491.02 792.5h6.2M491.12 791.5h6.0M491.12 792.5h6.0M492.40 792.5h6.2M492.50 791.5h6.0M492.50 792.5h6.0M493.85 796.5h6.2M493.95 796.5h6.0M493.95 796.5h6.0M495.34 791.5h6.2M495.44 791.5h6.0M495.44 792.5h6.0M496.20 791.5h6.2M496.30 791.5h6.0M496.30 791.5h6.0M493.32 804.5h6.2M493.42 803.5h6.0M493.42 804.5h6.0M494.75 801.5h6.2M494.85 801.5h6.0M494.85 802.5h6.0M496.28 804.5h6.2M496.38 804.5h6.0M496.38 804.5h6.0M497.11 804.5h6.2M497.21 804.5h6.0M497.21 805.5h6.0M498.55 802.5h6.2M498.65 802.5h6.0M498.65 802.5h6.0M500.00 805.5h6.2M500.10 805.5h6.0M500.10 805.5h6.0M501.45 809.5h6.2M501.55 809.5h6.0M501.55 809.5h6.0M505.18 764.5h6.2M505.28 764.5h6.0M505.28 764.5h6.0M506.68 766.5h6.2M506.78 766.5h6.0M506.78 767.5h6.0M508.11 770.5h6.2M508.21 770.5h6.0M508.21 770.5h6.0M501.41 806.5h6.2M501.51 806.5h6.0M501.51 806.5h6.0M502.67 806.5h6.2M502.77 806.5h6.0M502.77 806.5h6.0M503.67 801.5h6.2M503.77 800.5h6.0M503.77 801.5h6.0M505.20 800.5h6.2M505.30 800.5h6.0M505.30 801.5h6.0M506.76 805.5h6.2M506.86 804.5h6.0M506.86 805.5h6.0M507.44 799.5h6.2M507.54 799.5h6.0M507.54 800.5h6.0M509.04 805.5h6.2M509.14 805.5h6.0M509.14 806.5h6.0M510.56 794.5h6.2M510.66 794.5h6.0M510.66 795.5h6.0M511.48 797.5h6.2M511.58 796.5h6.0M511.58 797.5h6.0M512.52 800.5h6.2M512.62 800.5h6.0M512.62 801.5h6.0M513.82 798.5h6.2M513.92 798.5h6.0M513.92 798.5h6.0M515.16 797.5h6.2M515.26 797.5h6.0M515.26 797.5h6.0M516.46 803.5h6.2M516.56 803.5h6.0M516.56 804.5h6.0M518.07 803.5h6.2M518.17 802.5h6.0M518.17 803.5h6.0M519.25 800.5h6.2M519.35 799.5h6.0M519.35 800.5h6.0M520.32 807.5h6.2M520.42 806.5h6.0M520.42 807.5h6.0M521.14 783.5h6.2M521.24 783.5h6.0M521.24 784.5h6.0M522.67 789.5h6.2M522.77 788.5h6.0M522.77 789.5h6.0M523.92 784.5h6.2M524.02 784.5h6.0M524.02 784.5h6.0M525.63 785.5h6.2M525.73 785.5h6.0M525.73 785.5h6.0M526.63 788.5h6.2M526.73 788.5h6.0M526.73 788.5h6.0M528.32 790.5h6.2M528.42 789.5h6.0M528.42 790.5h6.0M529.21 790.5h6.2M529.31 790.5h6.0M529.31 790.5h6.0M530.55 788.5h6.2M530.65 788.5h6.0M530.65 788.5h6.0M532.25 787.5h6.2M532.35 787.5h6.0M532.35 788.5h6.0M533.13 788.5h6.2M533.23 788.5h6.0M533.23 788.5h6.0M525.30 799.5h6.2M525.40 799.5h6.0M525.40 800.5h6.0M526.92 799.5h6.2M527.02 798.5h6.0M527.02 799.5h6.0M528.23 804.5h6.2M528.33 803.5h6.0M528.33 804.5h6.0M529.64 802.5h6.2M529.74 802.5h6.0M529.74 802.5h6.0M531.19 802.5h6.2M531.29 802.5h6.0M531.29 802.5h6.0M532.71 801.5h6.2M532.81 801.5h6.0M532.81 802.5h6.0M534.19 805.5h6.2M534.29 805.5h6.0M534.29 805.5h6.0M535.48 806.5h6.2M535.58 806.5h6.0M535.58 806.5h6.0M537.06 800.5h6.2M537.16 800.5h6.0M537.16 800.5h6.0M538.85 804.5h6.2M538.95 804.5h6.0M538.95 804.5h6.0M540.11 803.5h6.2M540.21 802.5h6.0M540.21 803.5h6.0M541.37 803.5h6.2M541.47 802.5h6.0M541.47 803.5h6.0M542.94 805.5h6.2M543.04 805.5h6.0M543.04 805.5h6.0M544.57 809.5h6.2M544.67 809.5h6.0M544.67 809.5h6.0M546.09 803.5h6.2M546.19 803.5h6.0M546.19 803.5h6.0M547.14 803.5h6.2M547.24 803.5h6.0M547.24 803.5h6.0M534.67 787.5h6.2M534.77 787.5h6.0M534.77 788.5h6.0M535.89 792.5h6.2M535.99 792.5h6.0M535.99 792.5h6.0M537.05 788.5h6.2M537.15 787.5h6.0M537.15 788.5h6.0M538.26 792.5h6.2M538.36 791.5h6.0M538.36 792.5h6.0M539.51 792.5h6.2M539.61 791.5h6.0M539.61 792.5h6.0M540.81 790.5h6.2M540.91 790.5h6.0M540.91 791.5h6.0M541.99 788.5h6.2M542.09 788.5h6.0M542.09 789.5h6.0M543.23 791.5h6.2M543.33 790.5h6.0M543.33 791.5h6.0M544.39 792.5h6.2M544.49 792.5h6.0M544.49 792.5h6.0M545.98 792.5h6.2M546.08 791.5h6.0M546.08 792.5h6.0M547.02 786.5h6.2M547.12 786.5h6.0M547.12 787.5h6.0M548.61 787.5h6.2M548.71 787.5h6.0M548.71 787.5h6.0M549.75 791.5h6.2M549.85 790.5h6.0M549.85 791.5h6.0M550.78 788.5h6.2M550.88 788.5h6.0M550.88 788.5h6.0M551.96 790.5h6.2M552.06 789.5h6.0M552.06 790.5h6.0M553.66 791.5h6.2M553.76 791.5h6.0M553.76 791.5h6.0M554.48 792.5h6.2M554.58 792.5h6.0M554.58 792.5h6.0M556.29 788.5h6.2M556.39 788.5h6.0M556.39 788.5h6.0M557.56 788.5h6.2M557.66 787.5h6.0M557.66 788.5h6.0M558.36 790.5h6.2M558.46 789.5h6.0M558.46 790.5h6.0M559.89 786.5h6.2M559.99 786.5h6.0M559.99 787.5h6.0M561.40 789.5h6.2M561.50 789.5h6.0M561.50 790.5h6.0M562.50 786.5h6.2M562.60 785.5h6.0M562.60 786.5h6.0M549.13 780.5h6.2M549.23 779.5h6.0M549.23 780.5h6.0M551.84 780.5h6.2M551.94 780.5h6.0M551.94 780.5h6.0M553.87 781.5h6.2M553.97 781.5h6.0M553.97 781.5h6.0M556.01 780.5h6.2M556.11 780.5h6.0M556.11 780.5h6.0M558.35 778.5h6.2M558.45 778.5h6.0M558.45 779.5h6.0M560.18 778.5h6.2M560.28 777.5h6.0M560.28 778.5h6.0M563.17 785.5h6.2M563.27 785.5h6.0M563.27 785.5h6.0M564.54 788.5h6.2M564.64 788.5h6.0M564.64 788.5h6.0M566.12 786.5h6.2M566.22 786.5h6.0M566.22 787.5h6.0M567.46 788.5h6.2M567.56 788.5h6.0M567.56 789.5h6.0M568.74 786.5h6.2M568.84 785.5h6.0M568.84 786.5h6.0M570.57 789.5h6.2M570.67 788.5h6.0M570.67 789.5h6.0M571.54 786.5h6.2M571.64 786.5h6.0M571.64 786.5h6.0M573.28 784.5h6.2M573.38 784.5h6.0M573.38 784.5h6.0M574.48 788.5h6.2M574.58 787.5h6.0M574.58 788.5h6.0M572.40 777.5h6.2M572.50 777.5h6.0M572.50 778.5h6.0M573.54 777.5h6.2M573.64 777.5h6.0M573.64 778.5h6.0M574.79 779.5h6.2M574.89 779.5h6.0M574.89 779.5h6.0M576.21 780.5h6.2M576.31 779.5h6.0M576.31 780.5h6.0M575.38 796.5h6.2M575.48 796.5h6.0M575.48 796.5h6.0M576.53 796.5h6.2M576.63 796.5h6.0M576.63 796.5h6.0M578.07 795.5h6.2M578.17 795.5h6.0M578.17 796.5h6.0M579.53 796.5h6.2M579.63 796.5h6.0M579.63 796.5h6.0M580.84 797.5h6.2M580.94 796.5h6.0M580.94 797.5h6.0M582.33 796.5h6.2M582.43 796.5h6.0M582.43 796.5h6.0M579.43 802.5h6.2M579.53 802.5h6.0M579.53 802.5h6.0M580.57 802.5h6.2M580.67 801.5h6.0M580.67 802.5h6.0M581.90 805.5h6.2M582.00 804.5h6.0M582.00 805.5h6.0M582.92 801.5h6.2M583.02 801.5h6.0M583.02 801.5h6.0M584.65 806.5h6.2M584.75 806.5h6.0M584.75 807.5h6.0M585.64 803.5h6.2M585.74 803.5h6.0M585.74 803.5h6.0M586.83 804.5h6.2M586.93 804.5h6.0M586.93 805.5h6.0M588.28 801.5h6.2M588.38 801.5h6.0M588.38 801.5h6.0M589.13 805.5h6.2M589.23 805.5h6.0M589.23 806.5h6.0M590.68 803.5h6.2M590.78 802.5h6.0M590.78 803.5h6.0M592.08 803.5h6.2M592.18 803.5h6.0M592.18 803.5h6.0M592.95 802.5h6.2M593.05 801.5h6.0M593.05 802.5h6.0M594.63 801.5h6.2M594.73 801.5h6.0M594.73 802.5h6.0M585.27 812.5h6.2M585.37 812.5h6.0M585.37 812.5h6.0M586.51 811.5h6.2M586.61 811.5h6.0M586.61 811.5h6.0M587.72 809.5h6.2M587.82 808.5h6.0M587.82 809.5h6.0M589.31 810.5h6.2M589.41 809.5h6.0M589.41 810.5h6.0M590.60 810.5h6.2M590.70 810.5h6.0M590.70 810.5h6.0M591.58 810.5h6.2M591.68 809.5h6.0M591.68 810.5h6.0M592.98 809.5h6.2M593.08 809.5h6.0M593.08 809.5h6.0M594.45 808.5h6.2M594.55 808.5h6.0M594.55 809.5h6.0M595.92 811.5h6.2M596.02 811.5h6.0M596.02 812.5h6.0M597.12 812.5h6.2M597.22 811.5h6.0M597.22 812.5h6.0M598.48 810.5h6.2M598.58 810.5h6.0M598.58 811.5h6.0M599.67 813.5h6.2M599.77 813.5h6.0M599.77 814.5h6.0M601.03 811.5h6.2M601.13 810.5h6.0M601.13 811.5h6.0M601.85 814.5h6.2M601.95 814.5h6.0M601.95 814.5h6.0M603.67 810.5h6.2M603.77 810.5h6.0M603.77 810.5h6.0M603.14 798.5h6.2M603.24 798.5h6.0M603.24 799.5h6.0M604.80 797.5h6.2M604.90 797.5h6.0M604.90 797.5h6.0M605.96 800.5h6.2M606.06 800.5h6.0M606.06 800.5h6.0M607.20 796.5h6.2M607.30 796.5h6.0M607.30 797.5h6.0M608.26 795.5h6.2M608.36 795.5h6.0M608.36 796.5h6.0M609.33 800.5h6.2M609.43 799.5h6.0M609.43 800.5h6.0M606.62 787.5h6.2M606.72 785.5h6.0M606.72 789.5h6.0M607.81 787.5h6.2M607.91 786.5h6.0M607.91 789.5h6.0M608.97 786.5h6.2M609.07 783.5h6.0M609.07 788.5h6.0M610.46 788.5h6.2M610.56 786.5h6.0M610.56 790.5h6.0M612.16 788.5h6.2M612.26 786.5h6.0M612.26 791.5h6.0M613.17 785.5h6.2M613.27 783.5h6.0M613.27 788.5h6.0M611.33 802.5h6.2M611.43 800.5h6.0M611.43 805.5h6.0M612.77 805.5h6.2M612.87 804.5h6.0M612.87 807.5h6.0M613.83 801.5h6.2M613.93 799.5h6.0M613.93 804.5h6.0M615.17 800.5h6.2M615.27 797.5h6.0M615.27 802.5h6.0M616.59 803.5h6.2M616.69 801.5h6.0M616.69 804.5h6.0M618.26 803.5h6.2M618.36 800.5h6.0M618.36 805.5h6.0M619.35 803.5h6.2M619.45 801.5h6.0M619.45 805.5h6.0M620.91 802.5h6.2M621.01 800.5h6.0M621.01 804.5h6.0M622.01 805.5h6.2M622.11 803.5h6.0M622.11 807.5h6.0M623.59 806.5h6.2M623.69 804.5h6.0M623.69 809.5h6.0M621.42 794.5h6.2M621.52 792.5h6.0M621.52 796.5h6.0M622.65 792.5h6.2M622.75 789.5h6.0M622.75 794.5h6.0M624.25 793.5h6.2M624.35 791.5h6.0M624.35 795.5h6.0M625.12 792.5h6.2M625.22 791.5h6.0M625.22 793.5h6.0M626.81 791.5h6.2M626.91 789.5h6.0M626.91 792.5h6.0M627.67 795.5h6.2M627.77 793.5h6.0M627.77 797.5h6.0M628.91 794.5h6.2M629.01 793.5h6.0M629.01 795.5h6.0M630.24 795.5h6.2M630.34 793.5h6.0M630.34 798.5h6.0M631.96 793.5h6.2M632.06 791.5h6.0M632.06 796.5h6.0M632.87 792.5h6.2M632.97 790.5h6.0M632.97 793.5h6.0M634.52 794.5h6.2M634.62 791.5h6.0M634.62 796.5h6.0M623.14 813.5h6.2M623.24 810.5h6.0M623.24 815.5h6.0M624.80 812.5h6.2M624.90 810.5h6.0M624.90 813.5h6.0M625.82 811.5h6.2M625.92 809.5h6.0M625.92 813.5h6.0M627.20 813.5h6.2M627.30 811.5h6.0M627.30 814.5h6.0M628.29 811.5h6.2M628.39 809.5h6.0M628.39 813.5h6.0M629.47 812.5h6.2M629.57 810.5h6.0M629.57 814.5h6.0M629.13 806.5h6.2M629.23 805.5h6.0M629.23 807.5h6.0M630.65 807.5h6.2M630.75 805.5h6.0M630.75 810.5h6.0M632.41 807.5h6.2M632.51 806.5h6.0M632.51 809.5h6.0M633.78 803.5h6.2M633.88 800.5h6.0M633.88 805.5h6.0M635.20 805.5h6.2M635.30 802.5h6.0M635.30 808.5h6.0M636.56 806.5h6.2M636.66 804.5h6.0M636.66 808.5h6.0M637.64 803.5h6.2M637.74 801.5h6.0M637.74 805.5h6.0M638.92 804.5h6.2M639.02 802.5h6.0M639.02 805.5h6.0M640.46 806.5h6.2M640.56 804.5h6.0M640.56 808.5h6.0M642.41 811.5h6.2M642.51 808.5h6.0M642.51 814.5h6.0M643.94 811.5h6.2M644.04 809.5h6.0M644.04 813.5h6.0M645.14 809.5h6.2M645.24 807.5h6.0M645.24 810.5h6.0M646.28 810.5h6.2M646.38 806.5h6.0M646.38 813.5h6.0M647.90 811.5h6.2M648.00 808.5h6.0M648.00 813.5h6.0M649.29 808.5h6.2M649.39 806.5h6.0M649.39 810.5h6.0M650.24 808.5h6.2M650.34 805.5h6.0M650.34 811.5h6.0M652.02 804.5h6.2M652.12 800.5h6.0M652.12 807.5h6.0M652.79 806.5h6.2M652.89 803.5h6.0M652.89 809.5h6.0M654.18 811.5h6.2M654.28 809.5h6.0M654.28 814.5h6.0M655.62 805.5h6.2M655.72 802.5h6.0M655.72 807.5h6.0M657.00 805.5h6.2M657.10 804.5h6.0M657.10 807.5h6.0M658.42 809.5h6.2M658.52 807.5h6.0M658.52 811.5h6.0M656.44 793.5h6.2M656.54 790.5h6.0M656.54 797.5h6.0M657.65 798.5h6.2M657.75 795.5h6.0M657.75 801.5h6.0M659.10 791.5h6.2M659.20 789.5h6.0M659.20 794.5h6.0M659.85 792.5h6.2M659.95 791.5h6.0M659.95 794.5h6.0M661.38 798.5h6.2M661.48 795.5h6.0M661.48 801.5h6.0M662.62 791.5h6.2M662.72 787.5h6.0M662.72 794.5h6.0M663.78 797.5h6.2M663.88 794.5h6.0M663.88 800.5h6.0M665.39 791.5h6.2M665.49 788.5h6.0M665.49 793.5h6.0M666.27 798.5h6.2M666.37 795.5h6.0M666.37 801.5h6.0M667.55 792.5h6.2M667.65 788.5h6.0M667.65 795.5h6.0M669.01 795.5h6.2M669.11 791.5h6.0M669.11 798.5h6.0M670.29 794.5h6.2M670.39 791.5h6.0M670.39 797.5h6.0M671.42 797.5h6.2M671.52 795.5h6.0M671.52 799.5h6.0M490.40 782.5h6.2M490.50 782.5h6.0M490.50 782.5h6.0M501.40 809.5h6.2M501.50 809.5h6.0M501.50 809.5h6.0M504.40 786.5h6.2M504.50 786.5h6.0M504.50 786.5h6.0M603.40 825.5h6.2M603.50 821.5h6.0M603.50 828.5h6.0M611.90 777.5h6.2M612.00 774.5h6.0M612.00 779.5h6.0M616.40 783.5h6.2M616.50 783.5h6.0M616.50 783.5h6.0M561.40 798.5h6.2M561.50 797.5h6.0M561.50 798.5h6.0M562.40 800.5h6.2M562.50 800.5h6.0M562.50 800.5h6.0M636.40 820.5h6.2M636.50 818.5h6.0M636.50 822.5h6.0M641.40 793.5h6.2M641.50 793.5h6.0M641.50 793.5h6.0M647.40 817.5h6.2M647.50 815.5h6.0M647.50 820.5h6.0M652.40 780.5h6.2M652.50 778.5h6.0M652.50 783.5h6.0M662.40 814.5h6.2M662.50 812.5h6.0M662.50 816.5h6.0M661.40 832.5h6.2M661.50 825.5h6.0M661.50 840.5h6.0M667.40 827.5h6.2M667.50 822.5h6.0M667.50 832.5h6.0M669.40 809.5h6.2M669.50 806.5h6.0M669.50 811.5h6.0"/>
</g>
<path class="tk" d="M424.5 845.3v-6M424.5 745.8v6M474.5 845.3v-6M474.5 745.8v6M524.5 845.3v-6M524.5 745.8v6M574.5 845.3v-6M574.5 745.8v6M624.5 845.3v-6M624.5 745.8v6M674.5 845.3v-6M674.5 745.8v6M424.5 845.3h6M674.5 845.3h-6M424.5 820.42h6M674.5 820.42h-6M424.5 795.55h6M674.5 795.55h-6M424.5 770.67h6M674.5 770.67h-6M424.5 745.8h6M674.5 745.8h-6"/>
<rect class="fr" x="424.5" y="745.8" width="250" height="99.5"/>
<text x="426.5" y="866.9" text-anchor="middle">0</text>
<text x="476.5" y="866.9" text-anchor="middle">5</text>
<text x="526.5" y="866.9" text-anchor="middle">10</text>
<text x="576.5" y="866.9" text-anchor="middle">15</text>
<text x="626.5" y="866.9" text-anchor="middle">20</text>
<text x="676.5" y="866.9" text-anchor="middle">25</text>
<text x="415.2" y="851.4" text-anchor="end">-1</text>
<text x="415.2" y="826.52" text-anchor="end">-0.5</text>
<text x="415.2" y="801.65" text-anchor="end">0</text>
<text x="415.2" y="776.77" text-anchor="end">0.5</text>
<text x="415.2" y="751.9" text-anchor="end">1</text>
<text x="549.5" y="890.3" text-anchor="middle">Frequency [Hz]</text>
<text transform="translate(367.8,795.55) rotate(-90)" text-anchor="middle">Y1</text>
<clipPath id="c570X2"><rect x="64.5" y="907.6" width="258.0" height="107.5"/></clipPath>
<path class="gr" d="M118.5 912.3V1011.1M168.5 912.3V1011.1M218.5 912.3V1011.1M268.5 912.3V1011.1M69.2 986.23H318.5M69.2 961.35H318.5M69.2 936.48H318.5"/>
<g clip-path="url(#c570X2)">
<path class="eb" stroke-opacity="0.7" d="M88.50 944.15V980.09M94.50 943.13V977.82M99.50 942.32V977.63M103.50 942.69V980.50M104.50 943.10V977.33M106.50 943.43V978.59M108.50 942.54V979.59M109.50 944.60V977.48M115.50 943.46V978.54M117.50 942.64V976.24M119.50 941.62V977.21M124.50 945.24V978.17M126.50 943.32V977.18M128.50 942.33V978.87M137.50 939.97V977.43M138.50 943.20V977.21M151.50 942.44V977.54M154.50 940.48V977.30M159.50 940.89V975.49M160.50 941.97V977.15M163.50 939.25V976.32M167.50 941.58V978.78M168.50 941.63V975.35M169.50 942.28V976.84M173.50 940.37V977.89M174.50 941.61V976.51M183.50 941.00V975.18M189.50 940.80V976.25M190.50 937.57V976.15M191.50 938.99V976.23M204.50 941.63V974.67M209.50 938.06V973.07M211.50 939.13V973.47M213.50 939.11V976.62M214.50 939.92V974.38M219.50 938.75V974.78M225.50 930.69V967.98M226.50 937.71V970.22M227.50 939.92V961.25M229.50 934.84V953.52M233.50 931.52V961.98M234.50 926.21V963.40M239.50 930.95V958.95M241.50 937.99V965.47M242.50 930.10V966.09M244.50 931.13V966.15M247.50 928.24V954.67M253.50 930.56V957.90M254.50 937.06V957.41M255.50 930.85V957.02M256.50 925.54V960.71M257.50 930.87V960.89M259.50 933.96V964.35M264.50 934.76V960.48M269.50 929.72V959.29M270.50 927.78V959.61M279.50 945.53V962.28M280.50 945.05V962.44M283.50 936.81V961.64M288.50 924.55V962.56M293.50 929.53V965.48M295.50 930.63V949.23M299.50 934.31V951.97M301.50 931.70V951.64M302.50 937.54V957.82M309.50 932.95V961.10M310.50 930.07V967.08M311.50 934.47V961.35M312.50 930.05V956.03M313.50 940.48V963.30M89.50 954.38V990.21M310.50 954.68V982.28M313.50 950.89V979.75"/><path class="eb" stroke-opacity="0.85" d="M92.50 943.89V978.68M97.50 942.67V978.75M98.50 943.47V981.10M100.50 941.01V978.35M101.50 942.41V977.61M105.50 945.17V981.26M107.50 945.71V979.38M110.50 944.99V978.54M111.50 942.47V978.18M120.50 944.29V977.40M121.50 941.88V975.96M122.50 944.23V977.67M123.50 945.20V978.43M127.50 942.47V977.01M129.50 940.95V979.04M130.50 941.86V978.57M133.50 940.66V979.17M134.50 940.60V976.95M135.50 941.19V979.75M142.50 941.26V978.42M144.50 943.32V977.86M145.50 942.85V978.69M146.50 944.00V977.20M149.50 940.62V976.52M157.50 941.72V976.45M161.50 937.09V975.73M162.50 940.27V976.41M165.50 942.62V975.73M166.50 942.38V976.68M171.50 941.62V977.14M172.50 942.56V977.50M175.50 940.20V978.56M176.50 941.13V975.78M177.50 939.40V975.72M182.50 943.14V976.13M184.50 939.91V977.45M185.50 940.03V975.35M186.50 940.66V974.43M188.50 939.94V977.29M192.50 939.66V974.11M194.50 938.86V977.46M195.50 941.39V976.75M197.50 941.48V974.43M198.50 941.26V979.66M199.50 940.63V979.36M200.50 941.29V974.55M201.50 938.07V976.46M202.50 939.07V975.89M206.50 938.71V977.42M210.50 939.13V974.89M217.50 940.14V973.40M221.50 936.78V972.77M223.50 936.99V968.94M224.50 936.08V973.04M228.50 944.12V964.75M235.50 943.94V959.20M245.50 931.82V956.49M248.50 942.27V957.03M249.50 931.47V965.36M260.50 927.57V958.16M271.50 927.06V960.55M273.50 930.71V962.87M275.50 927.54V959.92M284.50 934.54V958.74M285.50 936.53V963.02M289.50 938.88V964.89M292.50 934.27V959.68M294.50 931.12V961.92M297.50 932.69V966.56M298.50 932.30V956.85M304.50 935.50V963.23M305.50 927.63V961.48M307.50 929.62V962.17M317.50 933.21V960.59M318.50 932.75V948.53M88.50 910.11V913.09"/><path class="eb" stroke-opacity="1.0" d="M89.50 944.94V980.83M90.50 946.65V981.22M91.50 942.31V976.03M93.50 943.21V977.64M95.50 942.47V978.70M96.50 943.97V978.01M102.50 942.23V980.53M112.50 942.48V980.66M113.50 941.58V979.59M114.50 943.48V976.47M116.50 942.12V976.52M118.50 942.03V979.26M125.50 942.55V977.99M131.50 942.07V978.68M132.50 940.66V977.39M136.50 942.99V976.19M139.50 942.37V978.33M140.50 942.37V977.14M141.50 942.32V978.21M143.50 938.33V976.87M147.50 940.10V978.01M148.50 939.70V978.08M150.50 941.12V976.74M152.50 942.07V977.57M153.50 939.58V977.44M155.50 941.38V977.38M156.50 942.02V977.01M158.50 942.59V977.62M164.50 942.87V979.21M170.50 943.12V976.38M178.50 941.47V975.44M179.50 942.45V975.66M180.50 939.81V975.56M181.50 938.40V976.88M187.50 940.42V974.36M193.50 942.24V977.98M196.50 939.91V975.30M203.50 938.52V977.01M205.50 938.98V976.71M207.50 941.24V975.76M208.50 939.55V972.72M212.50 938.53V977.23M215.50 938.03V974.30M216.50 939.82V975.59M218.50 938.52V972.72M220.50 938.55V972.92M222.50 936.09V968.94M230.50 933.76V950.39M231.50 930.37V970.15M232.50 931.07V966.31M236.50 934.57V954.96M237.50 930.39V964.72M238.50 931.95V963.60M240.50 940.16V957.07M243.50 930.58V955.03M246.50 935.55V962.08M250.50 938.34V963.69M251.50 934.58V956.36M252.50 934.91V950.69M258.50 928.81V959.81M261.50 936.33V955.57M262.50 929.12V964.40M263.50 928.48V958.50M265.50 931.00V958.44M266.50 936.69V955.04M267.50 930.06V960.19M268.50 930.25V957.50M272.50 930.92V965.04M274.50 932.49V959.43M276.50 926.03V962.77M277.50 936.79V955.77M278.50 932.24V965.28M281.50 932.32V964.80M282.50 936.87V959.33M286.50 929.54V957.89M287.50 936.03V956.41M290.50 935.05V960.51M291.50 930.90V958.95M296.50 938.30V956.82M300.50 930.46V961.32M303.50 930.82V964.10M306.50 932.03V968.26M308.50 934.16V963.59M314.50 929.18V950.34M315.50 934.08V956.93M316.50 922.49V960.90M260.50 949.19V964.56"/><path class="pt" d="M88.50 959.02v6.2M89.50 959.78v6.2M90.50 960.84v6.2M91.50 956.07v6.2M92.50 958.18v6.2M93.50 957.33v6.2M94.50 957.38v6.2M95.50 957.48v6.2M96.50 957.89v6.2M97.50 957.61v6.2M98.50 959.18v6.2M99.50 956.87v6.2M100.50 956.58v6.2M101.50 956.91v6.2M102.50 958.28v6.2M103.50 958.49v6.2M104.50 957.12v6.2M105.50 960.11v6.2M106.50 957.91v6.2M107.50 959.45v6.2M108.50 957.97v6.2M109.50 957.94v6.2M110.50 958.67v6.2M111.50 957.23v6.2M112.50 958.47v6.2M113.50 957.49v6.2M114.50 956.88v6.2M115.50 957.90v6.2M116.50 956.22v6.2M117.50 956.34v6.2M118.50 957.54v6.2M119.50 956.31v6.2M120.50 957.74v6.2M121.50 955.82v6.2M122.50 957.85v6.2M123.50 958.71v6.2M124.50 958.60v6.2M125.50 957.17v6.2M126.50 957.15v6.2M127.50 956.64v6.2M128.50 957.50v6.2M129.50 956.89v6.2M130.50 957.11v6.2M131.50 957.28v6.2M132.50 955.92v6.2M133.50 956.82v6.2M134.50 955.68v6.2M135.50 957.37v6.2M136.50 956.49v6.2M137.50 955.60v6.2M138.50 957.11v6.2M139.50 957.25v6.2M140.50 956.65v6.2M141.50 957.17v6.2M142.50 956.74v6.2M143.50 954.50v6.2M144.50 957.49v6.2M145.50 957.67v6.2M146.50 957.50v6.2M147.50 955.96v6.2M148.50 955.79v6.2M149.50 955.47v6.2M150.50 955.83v6.2M151.50 956.89v6.2M152.50 956.72v6.2M153.50 955.41v6.2M154.50 955.79v6.2M155.50 956.28v6.2M156.50 956.41v6.2M157.50 955.99v6.2M158.50 957.00v6.2M159.50 955.09v6.2M160.50 956.46v6.2M161.50 953.31v6.2M162.50 955.24v6.2M163.50 954.69v6.2M164.50 957.94v6.2M165.50 956.08v6.2M166.50 956.43v6.2M167.50 957.08v6.2M168.50 955.39v6.2M169.50 956.46v6.2M170.50 956.65v6.2M171.50 956.28v6.2M172.50 956.93v6.2M173.50 956.03v6.2M174.50 955.96v6.2M175.50 956.28v6.2M176.50 955.36v6.2M177.50 954.46v6.2M178.50 955.35v6.2M179.50 955.95v6.2M180.50 954.59v6.2M181.50 954.54v6.2M182.50 956.53v6.2M183.50 954.99v6.2M184.50 955.58v6.2M185.50 954.59v6.2M186.50 954.44v6.2M187.50 954.29v6.2M188.50 955.52v6.2M189.50 955.42v6.2M190.50 953.76v6.2M191.50 954.51v6.2M192.50 953.79v6.2M193.50 957.01v6.2M194.50 955.06v6.2M195.50 955.97v6.2M196.50 954.50v6.2M197.50 954.85v6.2M198.50 957.36v6.2M199.50 956.90v6.2M200.50 954.82v6.2M201.50 954.16v6.2M202.50 954.38v6.2M203.50 954.67v6.2M204.50 955.05v6.2M205.50 954.74v6.2M206.50 954.96v6.2M207.50 955.40v6.2M208.50 953.03v6.2M209.50 952.46v6.2M210.50 953.91v6.2M211.50 953.20v6.2M212.50 954.78v6.2M213.50 954.76v6.2M214.50 954.05v6.2M215.50 953.07v6.2M216.50 954.60v6.2M217.50 953.67v6.2M218.50 952.52v6.2M219.50 953.66v6.2M220.50 952.64v6.2M221.50 951.68v6.2M222.50 949.42v6.2M223.50 949.87v6.2M224.50 951.46v6.2M225.50 946.23v6.2M226.50 950.86v6.2M227.50 947.48v6.2M228.50 951.34v6.2M229.50 941.08v6.2M230.50 938.97v6.2M231.50 947.16v6.2M232.50 945.59v6.2M233.50 943.65v6.2M234.50 941.70v6.2M235.50 948.47v6.2M236.50 941.66v6.2M237.50 944.45v6.2M238.50 944.68v6.2M239.50 941.85v6.2M240.50 945.52v6.2M241.50 948.63v6.2M242.50 945.00v6.2M243.50 939.70v6.2M244.50 945.54v6.2M245.50 941.06v6.2M246.50 945.71v6.2M247.50 938.36v6.2M248.50 946.55v6.2M249.50 945.32v6.2M250.50 947.91v6.2M251.50 942.37v6.2M252.50 939.70v6.2M253.50 941.13v6.2M254.50 944.13v6.2M255.50 940.84v6.2M256.50 940.03v6.2M257.50 942.78v6.2M258.50 941.21v6.2M259.50 946.05v6.2M260.50 939.77v6.2M261.50 942.85v6.2M262.50 943.66v6.2M263.50 940.39v6.2M264.50 944.52v6.2M265.50 941.62v6.2M266.50 942.77v6.2M267.50 942.02v6.2M268.50 940.78v6.2M269.50 941.40v6.2M270.50 940.60v6.2M271.50 940.71v6.2M272.50 944.88v6.2M273.50 943.69v6.2M274.50 942.86v6.2M275.50 940.63v6.2M276.50 941.30v6.2M277.50 943.18v6.2M278.50 945.66v6.2M279.50 950.81v6.2M280.50 950.64v6.2M281.50 945.46v6.2M282.50 945.00v6.2M283.50 946.12v6.2M284.50 943.54v6.2M285.50 946.67v6.2M286.50 940.62v6.2M287.50 943.12v6.2M288.50 940.46v6.2M289.50 948.79v6.2M290.50 944.68v6.2M291.50 941.82v6.2M292.50 943.88v6.2M293.50 944.41v6.2M294.50 943.42v6.2M295.50 936.83v6.2M296.50 944.46v6.2M297.50 946.53v6.2M298.50 941.47v6.2M299.50 940.04v6.2M300.50 942.79v6.2M301.50 938.57v6.2M302.50 944.58v6.2M303.50 944.36v6.2M304.50 946.27v6.2M305.50 941.46v6.2M306.50 947.05v6.2M307.50 942.80v6.2M308.50 945.77v6.2M309.50 943.92v6.2M310.50 945.48v6.2M311.50 944.81v6.2M312.50 939.94v6.2M313.50 948.79v6.2M314.50 936.66v6.2M315.50 942.40v6.2M316.50 938.59v6.2M317.50 943.80v6.2M318.50 937.54v6.2M88.50 908.50v6.2M89.50 969.20v6.2M260.50 953.77v6.2M310.50 965.38v6.2M313.50 962.22v6.2"/><path class="ph" style="stroke-width:0.6" d="M85.40 962.1h6.2M85.50 944.1h6.0M85.50 980.1h6.0M86.40 962.9h6.2M86.50 944.9h6.0M86.50 980.8h6.0M87.40 963.9h6.2M87.50 946.7h6.0M87.50 981.2h6.0M88.40 959.2h6.2M88.50 942.3h6.0M88.50 976.0h6.0M89.40 961.3h6.2M89.50 943.9h6.0M89.50 978.7h6.0M90.40 960.4h6.2M90.50 943.2h6.0M90.50 977.6h6.0M91.40 960.5h6.2M91.50 943.1h6.0M91.50 977.8h6.0M92.40 960.6h6.2M92.50 942.5h6.0M92.50 978.7h6.0M93.40 961.0h6.2M93.50 944.0h6.0M93.50 978.0h6.0M94.40 960.7h6.2M94.50 942.7h6.0M94.50 978.7h6.0M95.40 962.3h6.2M95.50 943.5h6.0M95.50 981.1h6.0M96.40 960.0h6.2M96.50 942.3h6.0M96.50 977.6h6.0M97.40 959.7h6.2M97.50 941.0h6.0M97.50 978.4h6.0M98.40 960.0h6.2M98.50 942.4h6.0M98.50 977.6h6.0M99.40 961.4h6.2M99.50 942.2h6.0M99.50 980.5h6.0M100.40 961.6h6.2M100.50 942.7h6.0M100.50 980.5h6.0M101.40 960.2h6.2M101.50 943.1h6.0M101.50 977.3h6.0M102.40 963.2h6.2M102.50 945.2h6.0M102.50 981.3h6.0M103.40 961.0h6.2M103.50 943.4h6.0M103.50 978.6h6.0M104.40 962.5h6.2M104.50 945.7h6.0M104.50 979.4h6.0M105.40 961.1h6.2M105.50 942.5h6.0M105.50 979.6h6.0M106.40 961.0h6.2M106.50 944.6h6.0M106.50 977.5h6.0M107.40 961.8h6.2M107.50 945.0h6.0M107.50 978.5h6.0M108.40 960.3h6.2M108.50 942.5h6.0M108.50 978.2h6.0M109.40 961.6h6.2M109.50 942.5h6.0M109.50 980.7h6.0M110.40 960.6h6.2M110.50 941.6h6.0M110.50 979.6h6.0M111.40 960.0h6.2M111.50 943.5h6.0M111.50 976.5h6.0M112.40 961.0h6.2M112.50 943.5h6.0M112.50 978.5h6.0M113.40 959.3h6.2M113.50 942.1h6.0M113.50 976.5h6.0M114.40 959.4h6.2M114.50 942.6h6.0M114.50 976.2h6.0M115.40 960.6h6.2M115.50 942.0h6.0M115.50 979.3h6.0M116.40 959.4h6.2M116.50 941.6h6.0M116.50 977.2h6.0M117.40 960.8h6.2M117.50 944.3h6.0M117.50 977.4h6.0M118.40 958.9h6.2M118.50 941.9h6.0M118.50 976.0h6.0M119.40 960.9h6.2M119.50 944.2h6.0M119.50 977.7h6.0M120.40 961.8h6.2M120.50 945.2h6.0M120.50 978.4h6.0M121.40 961.7h6.2M121.50 945.2h6.0M121.50 978.2h6.0M122.40 960.3h6.2M122.50 942.5h6.0M122.50 978.0h6.0M123.40 960.3h6.2M123.50 943.3h6.0M123.50 977.2h6.0M124.40 959.7h6.2M124.50 942.5h6.0M124.50 977.0h6.0M125.40 960.6h6.2M125.50 942.3h6.0M125.50 978.9h6.0M126.40 960.0h6.2M126.50 941.0h6.0M126.50 979.0h6.0M127.40 960.2h6.2M127.50 941.9h6.0M127.50 978.6h6.0M128.40 960.4h6.2M128.50 942.1h6.0M128.50 978.7h6.0M129.40 959.0h6.2M129.50 940.7h6.0M129.50 977.4h6.0M130.40 959.9h6.2M130.50 940.7h6.0M130.50 979.2h6.0M131.40 958.8h6.2M131.50 940.6h6.0M131.50 977.0h6.0M132.40 960.5h6.2M132.50 941.2h6.0M132.50 979.7h6.0M133.40 959.6h6.2M133.50 943.0h6.0M133.50 976.2h6.0M134.40 958.7h6.2M134.50 940.0h6.0M134.50 977.4h6.0M135.40 960.2h6.2M135.50 943.2h6.0M135.50 977.2h6.0M136.40 960.4h6.2M136.50 942.4h6.0M136.50 978.3h6.0M137.40 959.8h6.2M137.50 942.4h6.0M137.50 977.1h6.0M138.40 960.3h6.2M138.50 942.3h6.0M138.50 978.2h6.0M139.40 959.8h6.2M139.50 941.3h6.0M139.50 978.4h6.0M140.40 957.6h6.2M140.50 938.3h6.0M140.50 976.9h6.0M141.40 960.6h6.2M141.50 943.3h6.0M141.50 977.9h6.0M142.40 960.8h6.2M142.50 942.8h6.0M142.50 978.7h6.0M143.40 960.6h6.2M143.50 944.0h6.0M143.50 977.2h6.0M144.40 959.1h6.2M144.50 940.1h6.0M144.50 978.0h6.0M145.40 958.9h6.2M145.50 939.7h6.0M145.50 978.1h6.0M146.40 958.6h6.2M146.50 940.6h6.0M146.50 976.5h6.0M147.40 958.9h6.2M147.50 941.1h6.0M147.50 976.7h6.0M148.40 960.0h6.2M148.50 942.4h6.0M148.50 977.5h6.0M149.40 959.8h6.2M149.50 942.1h6.0M149.50 977.6h6.0M150.40 958.5h6.2M150.50 939.6h6.0M150.50 977.4h6.0M151.40 958.9h6.2M151.50 940.5h6.0M151.50 977.3h6.0M152.40 959.4h6.2M152.50 941.4h6.0M152.50 977.4h6.0M153.40 959.5h6.2M153.50 942.0h6.0M153.50 977.0h6.0M154.40 959.1h6.2M154.50 941.7h6.0M154.50 976.5h6.0M155.40 960.1h6.2M155.50 942.6h6.0M155.50 977.6h6.0M156.40 958.2h6.2M156.50 940.9h6.0M156.50 975.5h6.0M157.40 959.6h6.2M157.50 942.0h6.0M157.50 977.1h6.0M158.40 956.4h6.2M158.50 937.1h6.0M158.50 975.7h6.0M159.40 958.3h6.2M159.50 940.3h6.0M159.50 976.4h6.0M160.40 957.8h6.2M160.50 939.2h6.0M160.50 976.3h6.0M161.40 961.0h6.2M161.50 942.9h6.0M161.50 979.2h6.0M162.40 959.2h6.2M162.50 942.6h6.0M162.50 975.7h6.0M163.40 959.5h6.2M163.50 942.4h6.0M163.50 976.7h6.0M164.40 960.2h6.2M164.50 941.6h6.0M164.50 978.8h6.0M165.40 958.5h6.2M165.50 941.6h6.0M165.50 975.4h6.0M166.40 959.6h6.2M166.50 942.3h6.0M166.50 976.8h6.0M167.40 959.8h6.2M167.50 943.1h6.0M167.50 976.4h6.0M168.40 959.4h6.2M168.50 941.6h6.0M168.50 977.1h6.0M169.40 960.0h6.2M169.50 942.6h6.0M169.50 977.5h6.0M170.40 959.1h6.2M170.50 940.4h6.0M170.50 977.9h6.0M171.40 959.1h6.2M171.50 941.6h6.0M171.50 976.5h6.0M172.40 959.4h6.2M172.50 940.2h6.0M172.50 978.6h6.0M173.40 958.5h6.2M173.50 941.1h6.0M173.50 975.8h6.0M174.40 957.6h6.2M174.50 939.4h6.0M174.50 975.7h6.0M175.40 958.5h6.2M175.50 941.5h6.0M175.50 975.4h6.0M176.40 959.1h6.2M176.50 942.4h6.0M176.50 975.7h6.0M177.40 957.7h6.2M177.50 939.8h6.0M177.50 975.6h6.0M178.40 957.6h6.2M178.50 938.4h6.0M178.50 976.9h6.0M179.40 959.6h6.2M179.50 943.1h6.0M179.50 976.1h6.0M180.40 958.1h6.2M180.50 941.0h6.0M180.50 975.2h6.0M181.40 958.7h6.2M181.50 939.9h6.0M181.50 977.5h6.0M182.40 957.7h6.2M182.50 940.0h6.0M182.50 975.3h6.0M183.40 957.5h6.2M183.50 940.7h6.0M183.50 974.4h6.0M184.40 957.4h6.2M184.50 940.4h6.0M184.50 974.4h6.0M185.40 958.6h6.2M185.50 939.9h6.0M185.50 977.3h6.0M186.40 958.5h6.2M186.50 940.8h6.0M186.50 976.3h6.0M187.40 956.9h6.2M187.50 937.6h6.0M187.50 976.1h6.0M188.40 957.6h6.2M188.50 939.0h6.0M188.50 976.2h6.0M189.40 956.9h6.2M189.50 939.7h6.0M189.50 974.1h6.0M190.40 960.1h6.2M190.50 942.2h6.0M190.50 978.0h6.0M191.40 958.2h6.2M191.50 938.9h6.0M191.50 977.5h6.0M192.40 959.1h6.2M192.50 941.4h6.0M192.50 976.8h6.0M193.40 957.6h6.2M193.50 939.9h6.0M193.50 975.3h6.0M194.40 958.0h6.2M194.50 941.5h6.0M194.50 974.4h6.0M195.40 960.5h6.2M195.50 941.3h6.0M195.50 979.7h6.0M196.40 960.0h6.2M196.50 940.6h6.0M196.50 979.4h6.0M197.40 957.9h6.2M197.50 941.3h6.0M197.50 974.5h6.0M198.40 957.3h6.2M198.50 938.1h6.0M198.50 976.5h6.0M199.40 957.5h6.2M199.50 939.1h6.0M199.50 975.9h6.0M200.40 957.8h6.2M200.50 938.5h6.0M200.50 977.0h6.0M201.40 958.1h6.2M201.50 941.6h6.0M201.50 974.7h6.0M202.40 957.8h6.2M202.50 939.0h6.0M202.50 976.7h6.0M203.40 958.1h6.2M203.50 938.7h6.0M203.50 977.4h6.0M204.40 958.5h6.2M204.50 941.2h6.0M204.50 975.8h6.0M205.40 956.1h6.2M205.50 939.5h6.0M205.50 972.7h6.0M206.40 955.6h6.2M206.50 938.1h6.0M206.50 973.1h6.0M207.40 957.0h6.2M207.50 939.1h6.0M207.50 974.9h6.0M208.40 956.3h6.2M208.50 939.1h6.0M208.50 973.5h6.0M209.40 957.9h6.2M209.50 938.5h6.0M209.50 977.2h6.0M210.40 957.9h6.2M210.50 939.1h6.0M210.50 976.6h6.0M211.40 957.1h6.2M211.50 939.9h6.0M211.50 974.4h6.0M212.40 956.2h6.2M212.50 938.0h6.0M212.50 974.3h6.0M213.40 957.7h6.2M213.50 939.8h6.0M213.50 975.6h6.0M214.40 956.8h6.2M214.50 940.1h6.0M214.50 973.4h6.0M215.40 955.6h6.2M215.50 938.5h6.0M215.50 972.7h6.0M216.40 956.8h6.2M216.50 938.7h6.0M216.50 974.8h6.0M217.40 955.7h6.2M217.50 938.5h6.0M217.50 972.9h6.0M218.40 954.8h6.2M218.50 936.8h6.0M218.50 972.8h6.0M219.40 952.5h6.2M219.50 936.1h6.0M219.50 968.9h6.0M220.40 953.0h6.2M220.50 937.0h6.0M220.50 968.9h6.0M221.40 954.6h6.2M221.50 936.1h6.0M221.50 973.0h6.0M222.40 949.3h6.2M222.50 930.7h6.0M222.50 968.0h6.0M223.40 954.0h6.2M223.50 937.7h6.0M223.50 970.2h6.0M224.40 950.6h6.2M224.50 939.9h6.0M224.50 961.3h6.0M225.40 954.4h6.2M225.50 944.1h6.0M225.50 964.8h6.0M226.40 944.2h6.2M226.50 934.8h6.0M226.50 953.5h6.0M227.40 942.1h6.2M227.50 933.8h6.0M227.50 950.4h6.0M228.40 950.3h6.2M228.50 930.4h6.0M228.50 970.2h6.0M229.40 948.7h6.2M229.50 931.1h6.0M229.50 966.3h6.0M230.40 946.7h6.2M230.50 931.5h6.0M230.50 962.0h6.0M231.40 944.8h6.2M231.50 926.2h6.0M231.50 963.4h6.0M232.40 951.6h6.2M232.50 943.9h6.0M232.50 959.2h6.0M233.40 944.8h6.2M233.50 934.6h6.0M233.50 955.0h6.0M234.40 947.6h6.2M234.50 930.4h6.0M234.50 964.7h6.0M235.40 947.8h6.2M235.50 932.0h6.0M235.50 963.6h6.0M236.40 945.0h6.2M236.50 930.9h6.0M236.50 959.0h6.0M237.40 948.6h6.2M237.50 940.2h6.0M237.50 957.1h6.0M238.40 951.7h6.2M238.50 938.0h6.0M238.50 965.5h6.0M239.40 948.1h6.2M239.50 930.1h6.0M239.50 966.1h6.0M240.40 942.8h6.2M240.50 930.6h6.0M240.50 955.0h6.0M241.40 948.6h6.2M241.50 931.1h6.0M241.50 966.1h6.0M242.40 944.2h6.2M242.50 931.8h6.0M242.50 956.5h6.0M243.40 948.8h6.2M243.50 935.5h6.0M243.50 962.1h6.0M244.40 941.5h6.2M244.50 928.2h6.0M244.50 954.7h6.0M245.40 949.6h6.2M245.50 942.3h6.0M245.50 957.0h6.0M246.40 948.4h6.2M246.50 931.5h6.0M246.50 965.4h6.0M247.40 951.0h6.2M247.50 938.3h6.0M247.50 963.7h6.0M248.40 945.5h6.2M248.50 934.6h6.0M248.50 956.4h6.0M249.40 942.8h6.2M249.50 934.9h6.0M249.50 950.7h6.0M250.40 944.2h6.2M250.50 930.6h6.0M250.50 957.9h6.0M251.40 947.2h6.2M251.50 937.1h6.0M251.50 957.4h6.0M252.40 943.9h6.2M252.50 930.9h6.0M252.50 957.0h6.0M253.40 943.1h6.2M253.50 925.5h6.0M253.50 960.7h6.0M254.40 945.9h6.2M254.50 930.9h6.0M254.50 960.9h6.0M255.40 944.3h6.2M255.50 928.8h6.0M255.50 959.8h6.0M256.40 949.2h6.2M256.50 934.0h6.0M256.50 964.3h6.0M257.40 942.9h6.2M257.50 927.6h6.0M257.50 958.2h6.0M258.40 946.0h6.2M258.50 936.3h6.0M258.50 955.6h6.0M259.40 946.8h6.2M259.50 929.1h6.0M259.50 964.4h6.0M260.40 943.5h6.2M260.50 928.5h6.0M260.50 958.5h6.0M261.40 947.6h6.2M261.50 934.8h6.0M261.50 960.5h6.0M262.40 944.7h6.2M262.50 931.0h6.0M262.50 958.4h6.0M263.40 945.9h6.2M263.50 936.7h6.0M263.50 955.0h6.0M264.40 945.1h6.2M264.50 930.1h6.0M264.50 960.2h6.0M265.40 943.9h6.2M265.50 930.3h6.0M265.50 957.5h6.0M266.40 944.5h6.2M266.50 929.7h6.0M266.50 959.3h6.0M267.40 943.7h6.2M267.50 927.8h6.0M267.50 959.6h6.0M268.40 943.8h6.2M268.50 927.1h6.0M268.50 960.6h6.0M269.40 948.0h6.2M269.50 930.9h6.0M269.50 965.0h6.0M270.40 946.8h6.2M270.50 930.7h6.0M270.50 962.9h6.0M271.40 946.0h6.2M271.50 932.5h6.0M271.50 959.4h6.0M272.40 943.7h6.2M272.50 927.5h6.0M272.50 959.9h6.0M273.40 944.4h6.2M273.50 926.0h6.0M273.50 962.8h6.0M274.40 946.3h6.2M274.50 936.8h6.0M274.50 955.8h6.0M275.40 948.8h6.2M275.50 932.2h6.0M275.50 965.3h6.0M276.40 953.9h6.2M276.50 945.5h6.0M276.50 962.3h6.0M277.40 953.7h6.2M277.50 945.0h6.0M277.50 962.4h6.0M278.40 948.6h6.2M278.50 932.3h6.0M278.50 964.8h6.0M279.40 948.1h6.2M279.50 936.9h6.0M279.50 959.3h6.0M280.40 949.2h6.2M280.50 936.8h6.0M280.50 961.6h6.0M281.40 946.6h6.2M281.50 934.5h6.0M281.50 958.7h6.0M282.40 949.8h6.2M282.50 936.5h6.0M282.50 963.0h6.0M283.40 943.7h6.2M283.50 929.5h6.0M283.50 957.9h6.0M284.40 946.2h6.2M284.50 936.0h6.0M284.50 956.4h6.0M285.40 943.6h6.2M285.50 924.6h6.0M285.50 962.6h6.0M286.40 951.9h6.2M286.50 938.9h6.0M286.50 964.9h6.0M287.40 947.8h6.2M287.50 935.1h6.0M287.50 960.5h6.0M288.40 944.9h6.2M288.50 930.9h6.0M288.50 958.9h6.0M289.40 947.0h6.2M289.50 934.3h6.0M289.50 959.7h6.0M290.40 947.5h6.2M290.50 929.5h6.0M290.50 965.5h6.0M291.40 946.5h6.2M291.50 931.1h6.0M291.50 961.9h6.0M292.40 939.9h6.2M292.50 930.6h6.0M292.50 949.2h6.0M293.40 947.6h6.2M293.50 938.3h6.0M293.50 956.8h6.0M294.40 949.6h6.2M294.50 932.7h6.0M294.50 966.6h6.0M295.40 944.6h6.2M295.50 932.3h6.0M295.50 956.8h6.0M296.40 943.1h6.2M296.50 934.3h6.0M296.50 952.0h6.0M297.40 945.9h6.2M297.50 930.5h6.0M297.50 961.3h6.0M298.40 941.7h6.2M298.50 931.7h6.0M298.50 951.6h6.0M299.40 947.7h6.2M299.50 937.5h6.0M299.50 957.8h6.0M300.40 947.5h6.2M300.50 930.8h6.0M300.50 964.1h6.0M301.40 949.4h6.2M301.50 935.5h6.0M301.50 963.2h6.0M302.40 944.6h6.2M302.50 927.6h6.0M302.50 961.5h6.0M303.40 950.1h6.2M303.50 932.0h6.0M303.50 968.3h6.0M304.40 945.9h6.2M304.50 929.6h6.0M304.50 962.2h6.0M305.40 948.9h6.2M305.50 934.2h6.0M305.50 963.6h6.0M306.40 947.0h6.2M306.50 933.0h6.0M306.50 961.1h6.0M307.40 948.6h6.2M307.50 930.1h6.0M307.50 967.1h6.0M308.40 947.9h6.2M308.50 934.5h6.0M308.50 961.4h6.0M309.40 943.0h6.2M309.50 930.0h6.0M309.50 956.0h6.0M310.40 951.9h6.2M310.50 940.5h6.0M310.50 963.3h6.0M311.40 939.8h6.2M311.50 929.2h6.0M311.50 950.3h6.0M312.40 945.5h6.2M312.50 934.1h6.0M312.50 956.9h6.0M313.40 941.7h6.2M313.50 922.5h6.0M313.50 960.9h6.0M314.40 946.9h6.2M314.50 933.2h6.0M314.50 960.6h6.0M315.40 940.6h6.2M315.50 932.7h6.0M315.50 948.5h6.0M85.40 911.6h6.2M85.50 910.1h6.0M85.50 913.1h6.0M86.40 972.3h6.2M86.50 954.4h6.0M86.50 990.2h6.0M257.40 956.9h6.2M257.50 949.2h6.0M257.50 964.6h6.0M307.40 968.5h6.2M307.50 954.7h6.0M307.50 982.3h6.0M310.40 965.3h6.2M310.50 950.9h6.0M310.50 979.7h6.0"/>
</g>
<path class="tk" d="M68.5 1011.1v-6M68.5 911.6v6M118.5 1011.1v-6M118.5 911.6v6M168.5 1011.1v-6M168.5 911.6v6M218.5 1011.1v-6M218.5 911.6v6M268.5 1011.1v-6M268.5 911.6v6M318.5 1011.1v-6M318.5 911.6v6M68.5 1011.1h6M318.5 1011.1h-6M68.5 986.23h6M318.5 986.23h-6M68.5 961.35h6M318.5 961.35h-6M68.5 936.48h6M318.5 936.48h-6M68.5 911.6h6M318.5 911.6h-6"/>
<rect class="fr" x="68.5" y="911.6" width="250" height="99.5"/>
<text x="70.5" y="1032.7" text-anchor="middle">0</text>
<text x="120.5" y="1032.7" text-anchor="middle">5</text>
<text x="170.5" y="1032.7" text-anchor="middle">10</text>
<text x="220.5" y="1032.7" text-anchor="middle">15</text>
<text x="270.5" y="1032.7" text-anchor="middle">20</text>
<text x="320.5" y="1032.7" text-anchor="middle">25</text>
<text x="59.2" y="1017.2" text-anchor="end">-1</text>
<text x="59.2" y="992.33" text-anchor="end">-0.5</text>
<text x="59.2" y="967.45" text-anchor="end">0</text>
<text x="59.2" y="942.58" text-anchor="end">0.5</text>
<text x="59.2" y="917.7" text-anchor="end">1</text>
<text x="193.5" y="1056.1" text-anchor="middle">Frequency [Hz]</text>
<text transform="translate(11.8,961.35) rotate(-90)" text-anchor="middle">X2</text>
<clipPath id="c570Y2"><rect x="420.5" y="907.6" width="258.0" height="107.5"/></clipPath>
<path class="gr" d="M474.5 912.3V1011.1M524.5 912.3V1011.1M574.5 912.3V1011.1M624.5 912.3V1011.1M425.2 986.23H674.5M425.2 961.35H674.5M425.2 936.48H674.5"/>
<g clip-path="url(#c570Y2)">
<path class="eb" stroke-opacity="0.7" d="M445.50 944.56V979.84M448.50 945.14V978.65M461.50 943.64V978.21M462.50 944.46V977.35M463.50 945.85V977.94M465.50 944.84V979.19M468.50 946.03V978.66M470.50 942.55V978.16M471.50 945.44V979.56M473.50 943.99V977.89M476.50 944.12V978.49M478.50 944.69V978.63M480.50 943.73V976.19M481.50 944.02V977.69M482.50 944.19V978.90M488.50 943.92V978.35M489.50 944.37V978.30M491.50 944.19V977.22M496.50 945.07V977.78M498.50 945.30V980.59M503.50 941.58V977.09M504.50 946.01V979.70M507.50 944.40V978.95M511.50 944.43V979.49M513.50 942.34V977.06M517.50 943.53V977.92M518.50 943.09V978.20M520.50 943.72V979.08M522.50 943.34V978.15M523.50 945.44V978.53M531.50 945.00V977.57M535.50 944.01V977.09M536.50 946.02V979.12M538.50 943.69V977.00M544.50 945.10V979.59M545.50 945.55V979.52M548.50 944.90V978.75M550.50 944.32V979.61M553.50 944.64V979.83M556.50 944.49V976.87M559.50 944.35V978.09M562.50 943.40V977.24M566.50 945.56V978.28M570.50 944.96V977.41M577.50 944.44V977.14M580.50 944.28V979.60M581.50 943.19V978.38M584.50 941.82V977.00M587.50 943.76V978.25M589.50 943.31V977.80M591.50 945.69V980.25M593.50 944.15V979.64M596.50 945.75V978.64M600.50 943.49V976.48M605.50 943.53V977.63M609.50 943.30V978.04M614.50 945.78V978.88M618.50 945.88V978.57M619.50 943.63V976.72M620.50 941.72V977.02M621.50 941.61V977.18M623.50 945.45V978.71M624.50 944.86V977.37M625.50 944.97V980.18M627.50 944.54V978.39M632.50 943.44V978.93M634.50 947.09V979.55M636.50 944.51V979.95M638.50 946.38V978.50M640.50 945.64V978.70M643.50 945.02V977.18M645.50 944.26V977.95M646.50 943.50V978.47M650.50 941.98V977.49M651.50 943.51V978.87M652.50 945.93V980.39M653.50 945.62V977.68M654.50 944.74V978.32M657.50 944.30V978.35M664.50 946.31V978.50M665.50 944.92V977.10M666.50 942.52V977.27M667.50 946.14V979.84M671.50 947.00V979.92M672.50 943.65V979.00"/><path class="eb" stroke-opacity="0.85" d="M444.50 942.70V977.49M447.50 942.36V977.52M450.50 942.93V978.38M451.50 944.00V977.65M452.50 943.48V978.77M458.50 944.26V977.32M459.50 942.67V977.18M464.50 945.60V978.13M466.50 945.93V978.52M467.50 944.82V979.15M472.50 944.52V978.74M474.50 946.70V981.75M487.50 944.36V978.21M490.50 944.54V977.03M492.50 945.51V978.26M494.50 944.15V979.36M497.50 944.17V978.48M499.50 943.72V976.82M500.50 944.67V979.13M506.50 944.29V979.62M515.50 944.97V979.10M516.50 945.76V977.98M521.50 943.38V975.75M524.50 944.06V976.84M526.50 943.57V978.55M529.50 943.44V978.26M533.50 943.42V976.86M534.50 945.01V979.57M537.50 944.96V979.74M540.50 945.51V979.29M541.50 946.33V979.64M542.50 941.69V975.98M543.50 946.04V980.09M547.50 946.03V979.97M549.50 944.28V977.42M551.50 944.99V977.49M560.50 944.40V978.85M563.50 943.42V976.96M572.50 942.40V977.04M576.50 944.37V979.31M579.50 945.53V978.77M582.50 944.01V978.18M583.50 944.16V978.01M588.50 947.44V979.63M592.50 946.34V978.94M594.50 943.86V977.87M595.50 944.47V978.43M601.50 945.79V978.93M602.50 945.10V980.36M603.50 943.96V979.33M607.50 945.82V978.12M608.50 947.09V979.13M610.50 946.12V980.16M611.50 943.01V976.70M612.50 944.94V978.64M616.50 944.60V977.06M617.50 943.98V976.14M622.50 945.47V978.50M626.50 945.07V977.44M630.50 943.90V979.45M631.50 943.51V978.28M633.50 945.37V978.50M637.50 944.39V979.91M641.50 944.20V977.92M647.50 943.95V979.17M648.50 946.69V978.82M659.50 946.13V978.99M660.50 945.20V977.49M662.50 943.56V978.60M668.50 944.15V978.06M670.50 945.86V981.27M674.50 943.48V977.65"/><path class="eb" stroke-opacity="1.0" d="M446.50 943.80V979.08M449.50 943.82V979.42M453.50 943.89V977.13M454.50 945.14V980.07M455.50 943.83V977.63M456.50 944.14V976.30M457.50 944.53V976.90M460.50 945.03V977.15M469.50 944.03V979.40M475.50 943.91V976.36M477.50 944.81V977.98M479.50 946.40V981.17M483.50 944.83V977.20M484.50 944.16V978.58M485.50 944.37V977.49M486.50 944.71V977.54M493.50 944.47V977.32M495.50 942.97V977.33M501.50 944.52V976.92M502.50 945.00V978.37M505.50 944.00V976.39M508.50 946.56V980.56M509.50 944.01V979.51M510.50 944.94V978.03M512.50 942.98V975.17M514.50 945.00V979.19M519.50 945.28V978.74M525.50 945.29V977.52M527.50 944.97V977.08M528.50 944.53V977.08M530.50 943.20V976.49M532.50 944.73V977.66M539.50 944.53V977.02M546.50 944.15V978.50M552.50 942.77V978.06M554.50 943.17V978.77M555.50 943.45V977.85M557.50 944.39V977.52M558.50 945.00V977.20M561.50 945.31V979.69M564.50 943.04V977.53M565.50 944.20V979.03M567.50 944.75V977.83M568.50 944.84V977.12M569.50 943.02V977.81M571.50 946.35V979.16M573.50 944.98V980.13M574.50 944.33V977.93M575.50 943.69V977.43M578.50 946.70V979.28M585.50 943.87V977.92M586.50 943.28V978.32M590.50 944.25V976.63M597.50 943.72V978.38M598.50 945.51V979.37M599.50 944.89V977.95M604.50 943.47V975.56M606.50 944.84V977.69M613.50 942.20V976.74M615.50 946.70V979.12M628.50 946.79V979.59M629.50 943.28V978.84M635.50 944.86V977.00M639.50 942.80V977.41M642.50 946.11V978.24M644.50 942.66V976.21M649.50 943.96V977.41M655.50 944.31V977.54M656.50 944.97V977.43M658.50 943.01V978.20M661.50 943.44V977.35M663.50 944.64V977.57M669.50 944.41V977.23M673.50 943.31V978.82M666.50 939.96V977.77"/><path class="pt" d="M444.50 956.99v6.2M445.50 959.10v6.2M446.50 958.34v6.2M447.50 956.84v6.2M448.50 958.79v6.2M449.50 958.52v6.2M450.50 957.55v6.2M451.50 957.72v6.2M452.50 958.03v6.2M453.50 957.41v6.2M454.50 959.51v6.2M455.50 957.63v6.2M456.50 957.12v6.2M457.50 957.61v6.2M458.50 957.69v6.2M459.50 956.83v6.2M460.50 957.99v6.2M461.50 957.82v6.2M462.50 957.81v6.2M463.50 958.79v6.2M464.50 958.77v6.2M465.50 958.91v6.2M466.50 959.13v6.2M467.50 958.89v6.2M468.50 959.25v6.2M469.50 958.61v6.2M470.50 957.26v6.2M471.50 959.40v6.2M472.50 958.53v6.2M473.50 957.84v6.2M474.50 961.12v6.2M475.50 957.04v6.2M476.50 958.20v6.2M477.50 958.29v6.2M478.50 958.56v6.2M479.50 960.69v6.2M480.50 956.86v6.2M481.50 957.76v6.2M482.50 958.44v6.2M483.50 957.91v6.2M484.50 958.27v6.2M485.50 957.83v6.2M486.50 958.03v6.2M487.50 958.19v6.2M488.50 958.03v6.2M489.50 958.23v6.2M490.50 957.68v6.2M491.50 957.60v6.2M492.50 958.78v6.2M493.50 957.80v6.2M494.50 958.65v6.2M495.50 957.05v6.2M496.50 958.33v6.2M497.50 958.22v6.2M498.50 959.85v6.2M499.50 957.17v6.2M500.50 958.80v6.2M501.50 957.62v6.2M502.50 958.59v6.2M503.50 956.23v6.2M504.50 959.75v6.2M505.50 957.10v6.2M506.50 958.86v6.2M507.50 958.57v6.2M508.50 960.46v6.2M509.50 958.66v6.2M510.50 958.39v6.2M511.50 958.86v6.2M512.50 955.97v6.2M513.50 956.60v6.2M514.50 959.00v6.2M515.50 958.94v6.2M516.50 958.77v6.2M517.50 957.62v6.2M518.50 957.54v6.2M519.50 958.91v6.2M520.50 958.30v6.2M521.50 956.46v6.2M522.50 957.65v6.2M523.50 958.88v6.2M524.50 957.35v6.2M525.50 958.31v6.2M526.50 957.96v6.2M527.50 957.92v6.2M528.50 957.71v6.2M529.50 957.75v6.2M530.50 956.75v6.2M531.50 958.19v6.2M532.50 958.10v6.2M533.50 957.04v6.2M534.50 959.19v6.2M535.50 957.45v6.2M536.50 959.47v6.2M537.50 959.25v6.2M538.50 957.24v6.2M539.50 957.67v6.2M540.50 959.30v6.2M541.50 959.89v6.2M542.50 955.74v6.2M543.50 959.96v6.2M544.50 959.25v6.2M545.50 959.44v6.2M546.50 958.23v6.2M547.50 959.90v6.2M548.50 958.72v6.2M549.50 957.75v6.2M550.50 958.87v6.2M551.50 958.14v6.2M552.50 957.32v6.2M553.50 959.13v6.2M554.50 957.87v6.2M555.50 957.55v6.2M556.50 957.58v6.2M557.50 957.85v6.2M558.50 958.00v6.2M559.50 958.12v6.2M560.50 958.52v6.2M561.50 959.40v6.2M562.50 957.22v6.2M563.50 957.09v6.2M564.50 957.18v6.2M565.50 958.51v6.2M566.50 958.82v6.2M567.50 958.19v6.2M568.50 957.88v6.2M569.50 957.31v6.2M570.50 958.08v6.2M571.50 959.66v6.2M572.50 956.62v6.2M573.50 959.45v6.2M574.50 958.03v6.2M575.50 957.46v6.2M576.50 958.74v6.2M577.50 957.69v6.2M578.50 959.89v6.2M579.50 959.05v6.2M580.50 958.84v6.2M581.50 957.68v6.2M582.50 958.00v6.2M583.50 957.98v6.2M584.50 956.31v6.2M585.50 957.79v6.2M586.50 957.70v6.2M587.50 957.90v6.2M588.50 960.44v6.2M589.50 957.45v6.2M590.50 957.34v6.2M591.50 959.87v6.2M592.50 959.54v6.2M593.50 958.80v6.2M594.50 957.76v6.2M595.50 958.35v6.2M596.50 959.10v6.2M597.50 957.95v6.2M598.50 959.34v6.2M599.50 958.32v6.2M600.50 956.88v6.2M601.50 959.26v6.2M602.50 959.63v6.2M603.50 958.54v6.2M604.50 956.41v6.2M605.50 957.48v6.2M606.50 958.17v6.2M607.50 958.87v6.2M608.50 960.01v6.2M609.50 957.57v6.2M610.50 960.04v6.2M611.50 956.75v6.2M612.50 958.69v6.2M613.50 956.37v6.2M614.50 959.23v6.2M615.50 959.81v6.2M616.50 957.73v6.2M617.50 956.96v6.2M618.50 959.13v6.2M619.50 957.07v6.2M620.50 956.27v6.2M621.50 956.30v6.2M622.50 958.89v6.2M623.50 958.98v6.2M624.50 958.01v6.2M625.50 959.47v6.2M626.50 958.16v6.2M627.50 958.37v6.2M628.50 960.09v6.2M629.50 957.96v6.2M630.50 958.58v6.2M631.50 957.79v6.2M632.50 958.09v6.2M633.50 958.84v6.2M634.50 960.22v6.2M635.50 957.83v6.2M636.50 959.13v6.2M637.50 959.05v6.2M638.50 959.34v6.2M639.50 957.01v6.2M640.50 959.07v6.2M641.50 957.96v6.2M642.50 959.07v6.2M643.50 958.00v6.2M644.50 956.33v6.2M645.50 958.00v6.2M646.50 957.89v6.2M647.50 958.46v6.2M648.50 959.66v6.2M649.50 957.58v6.2M650.50 956.63v6.2M651.50 958.09v6.2M652.50 960.06v6.2M653.50 958.55v6.2M654.50 958.43v6.2M655.50 957.83v6.2M656.50 958.10v6.2M657.50 958.22v6.2M658.50 957.51v6.2M659.50 959.46v6.2M660.50 958.24v6.2M661.50 957.29v6.2M662.50 957.98v6.2M663.50 958.00v6.2M664.50 959.30v6.2M665.50 957.91v6.2M666.50 956.80v6.2M667.50 959.89v6.2M668.50 958.01v6.2M669.50 957.72v6.2M670.50 960.46v6.2M671.50 960.36v6.2M672.50 958.23v6.2M673.50 957.96v6.2M674.50 957.46v6.2M666.50 955.76v6.2"/><path class="ph" style="stroke-width:0.6" d="M441.40 960.1h6.2M441.50 942.7h6.0M441.50 977.5h6.0M442.40 962.2h6.2M442.50 944.6h6.0M442.50 979.8h6.0M443.40 961.4h6.2M443.50 943.8h6.0M443.50 979.1h6.0M444.40 959.9h6.2M444.50 942.4h6.0M444.50 977.5h6.0M445.40 961.9h6.2M445.50 945.1h6.0M445.50 978.7h6.0M446.40 961.6h6.2M446.50 943.8h6.0M446.50 979.4h6.0M447.40 960.7h6.2M447.50 942.9h6.0M447.50 978.4h6.0M448.40 960.8h6.2M448.50 944.0h6.0M448.50 977.6h6.0M449.40 961.1h6.2M449.50 943.5h6.0M449.50 978.8h6.0M450.40 960.5h6.2M450.50 943.9h6.0M450.50 977.1h6.0M451.40 962.6h6.2M451.50 945.1h6.0M451.50 980.1h6.0M452.40 960.7h6.2M452.50 943.8h6.0M452.50 977.6h6.0M453.40 960.2h6.2M453.50 944.1h6.0M453.50 976.3h6.0M454.40 960.7h6.2M454.50 944.5h6.0M454.50 976.9h6.0M455.40 960.8h6.2M455.50 944.3h6.0M455.50 977.3h6.0M456.40 959.9h6.2M456.50 942.7h6.0M456.50 977.2h6.0M457.40 961.1h6.2M457.50 945.0h6.0M457.50 977.2h6.0M458.40 960.9h6.2M458.50 943.6h6.0M458.50 978.2h6.0M459.40 960.9h6.2M459.50 944.5h6.0M459.50 977.4h6.0M460.40 961.9h6.2M460.50 945.8h6.0M460.50 977.9h6.0M461.40 961.9h6.2M461.50 945.6h6.0M461.50 978.1h6.0M462.40 962.0h6.2M462.50 944.8h6.0M462.50 979.2h6.0M463.40 962.2h6.2M463.50 945.9h6.0M463.50 978.5h6.0M464.40 962.0h6.2M464.50 944.8h6.0M464.50 979.1h6.0M465.40 962.3h6.2M465.50 946.0h6.0M465.50 978.7h6.0M466.40 961.7h6.2M466.50 944.0h6.0M466.50 979.4h6.0M467.40 960.4h6.2M467.50 942.6h6.0M467.50 978.2h6.0M468.40 962.5h6.2M468.50 945.4h6.0M468.50 979.6h6.0M469.40 961.6h6.2M469.50 944.5h6.0M469.50 978.7h6.0M470.40 960.9h6.2M470.50 944.0h6.0M470.50 977.9h6.0M471.40 964.2h6.2M471.50 946.7h6.0M471.50 981.7h6.0M472.40 960.1h6.2M472.50 943.9h6.0M472.50 976.4h6.0M473.40 961.3h6.2M473.50 944.1h6.0M473.50 978.5h6.0M474.40 961.4h6.2M474.50 944.8h6.0M474.50 978.0h6.0M475.40 961.7h6.2M475.50 944.7h6.0M475.50 978.6h6.0M476.40 963.8h6.2M476.50 946.4h6.0M476.50 981.2h6.0M477.40 960.0h6.2M477.50 943.7h6.0M477.50 976.2h6.0M478.40 960.9h6.2M478.50 944.0h6.0M478.50 977.7h6.0M479.40 961.5h6.2M479.50 944.2h6.0M479.50 978.9h6.0M480.40 961.0h6.2M480.50 944.8h6.0M480.50 977.2h6.0M481.40 961.4h6.2M481.50 944.2h6.0M481.50 978.6h6.0M482.40 960.9h6.2M482.50 944.4h6.0M482.50 977.5h6.0M483.40 961.1h6.2M483.50 944.7h6.0M483.50 977.5h6.0M484.40 961.3h6.2M484.50 944.4h6.0M484.50 978.2h6.0M485.40 961.1h6.2M485.50 943.9h6.0M485.50 978.3h6.0M486.40 961.3h6.2M486.50 944.4h6.0M486.50 978.3h6.0M487.40 960.8h6.2M487.50 944.5h6.0M487.50 977.0h6.0M488.40 960.7h6.2M488.50 944.2h6.0M488.50 977.2h6.0M489.40 961.9h6.2M489.50 945.5h6.0M489.50 978.3h6.0M490.40 960.9h6.2M490.50 944.5h6.0M490.50 977.3h6.0M491.40 961.8h6.2M491.50 944.1h6.0M491.50 979.4h6.0M492.40 960.1h6.2M492.50 943.0h6.0M492.50 977.3h6.0M493.40 961.4h6.2M493.50 945.1h6.0M493.50 977.8h6.0M494.40 961.3h6.2M494.50 944.2h6.0M494.50 978.5h6.0M495.40 962.9h6.2M495.50 945.3h6.0M495.50 980.6h6.0M496.40 960.3h6.2M496.50 943.7h6.0M496.50 976.8h6.0M497.40 961.9h6.2M497.50 944.7h6.0M497.50 979.1h6.0M498.40 960.7h6.2M498.50 944.5h6.0M498.50 976.9h6.0M499.40 961.7h6.2M499.50 945.0h6.0M499.50 978.4h6.0M500.40 959.3h6.2M500.50 941.6h6.0M500.50 977.1h6.0M501.40 962.9h6.2M501.50 946.0h6.0M501.50 979.7h6.0M502.40 960.2h6.2M502.50 944.0h6.0M502.50 976.4h6.0M503.40 962.0h6.2M503.50 944.3h6.0M503.50 979.6h6.0M504.40 961.7h6.2M504.50 944.4h6.0M504.50 978.9h6.0M505.40 963.6h6.2M505.50 946.6h6.0M505.50 980.6h6.0M506.40 961.8h6.2M506.50 944.0h6.0M506.50 979.5h6.0M507.40 961.5h6.2M507.50 944.9h6.0M507.50 978.0h6.0M508.40 962.0h6.2M508.50 944.4h6.0M508.50 979.5h6.0M509.40 959.1h6.2M509.50 943.0h6.0M509.50 975.2h6.0M510.40 959.7h6.2M510.50 942.3h6.0M510.50 977.1h6.0M511.40 962.1h6.2M511.50 945.0h6.0M511.50 979.2h6.0M512.40 962.0h6.2M512.50 945.0h6.0M512.50 979.1h6.0M513.40 961.9h6.2M513.50 945.8h6.0M513.50 978.0h6.0M514.40 960.7h6.2M514.50 943.5h6.0M514.50 977.9h6.0M515.40 960.6h6.2M515.50 943.1h6.0M515.50 978.2h6.0M516.40 962.0h6.2M516.50 945.3h6.0M516.50 978.7h6.0M517.40 961.4h6.2M517.50 943.7h6.0M517.50 979.1h6.0M518.40 959.6h6.2M518.50 943.4h6.0M518.50 975.7h6.0M519.40 960.7h6.2M519.50 943.3h6.0M519.50 978.2h6.0M520.40 962.0h6.2M520.50 945.4h6.0M520.50 978.5h6.0M521.40 960.5h6.2M521.50 944.1h6.0M521.50 976.8h6.0M522.40 961.4h6.2M522.50 945.3h6.0M522.50 977.5h6.0M523.40 961.1h6.2M523.50 943.6h6.0M523.50 978.6h6.0M524.40 961.0h6.2M524.50 945.0h6.0M524.50 977.1h6.0M525.40 960.8h6.2M525.50 944.5h6.0M525.50 977.1h6.0M526.40 960.9h6.2M526.50 943.4h6.0M526.50 978.3h6.0M527.40 959.8h6.2M527.50 943.2h6.0M527.50 976.5h6.0M528.40 961.3h6.2M528.50 945.0h6.0M528.50 977.6h6.0M529.40 961.2h6.2M529.50 944.7h6.0M529.50 977.7h6.0M530.40 960.1h6.2M530.50 943.4h6.0M530.50 976.9h6.0M531.40 962.3h6.2M531.50 945.0h6.0M531.50 979.6h6.0M532.40 960.6h6.2M532.50 944.0h6.0M532.50 977.1h6.0M533.40 962.6h6.2M533.50 946.0h6.0M533.50 979.1h6.0M534.40 962.3h6.2M534.50 945.0h6.0M534.50 979.7h6.0M535.40 960.3h6.2M535.50 943.7h6.0M535.50 977.0h6.0M536.40 960.8h6.2M536.50 944.5h6.0M536.50 977.0h6.0M537.40 962.4h6.2M537.50 945.5h6.0M537.50 979.3h6.0M538.40 963.0h6.2M538.50 946.3h6.0M538.50 979.6h6.0M539.40 958.8h6.2M539.50 941.7h6.0M539.50 976.0h6.0M540.40 963.1h6.2M540.50 946.0h6.0M540.50 980.1h6.0M541.40 962.3h6.2M541.50 945.1h6.0M541.50 979.6h6.0M542.40 962.5h6.2M542.50 945.6h6.0M542.50 979.5h6.0M543.40 961.3h6.2M543.50 944.2h6.0M543.50 978.5h6.0M544.40 963.0h6.2M544.50 946.0h6.0M544.50 980.0h6.0M545.40 961.8h6.2M545.50 944.9h6.0M545.50 978.8h6.0M546.40 960.8h6.2M546.50 944.3h6.0M546.50 977.4h6.0M547.40 962.0h6.2M547.50 944.3h6.0M547.50 979.6h6.0M548.40 961.2h6.2M548.50 945.0h6.0M548.50 977.5h6.0M549.40 960.4h6.2M549.50 942.8h6.0M549.50 978.1h6.0M550.40 962.2h6.2M550.50 944.6h6.0M550.50 979.8h6.0M551.40 961.0h6.2M551.50 943.2h6.0M551.50 978.8h6.0M552.40 960.6h6.2M552.50 943.4h6.0M552.50 977.9h6.0M553.40 960.7h6.2M553.50 944.5h6.0M553.50 976.9h6.0M554.40 961.0h6.2M554.50 944.4h6.0M554.50 977.5h6.0M555.40 961.1h6.2M555.50 945.0h6.0M555.50 977.2h6.0M556.40 961.2h6.2M556.50 944.4h6.0M556.50 978.1h6.0M557.40 961.6h6.2M557.50 944.4h6.0M557.50 978.8h6.0M558.40 962.5h6.2M558.50 945.3h6.0M558.50 979.7h6.0M559.40 960.3h6.2M559.50 943.4h6.0M559.50 977.2h6.0M560.40 960.2h6.2M560.50 943.4h6.0M560.50 977.0h6.0M561.40 960.3h6.2M561.50 943.0h6.0M561.50 977.5h6.0M562.40 961.6h6.2M562.50 944.2h6.0M562.50 979.0h6.0M563.40 961.9h6.2M563.50 945.6h6.0M563.50 978.3h6.0M564.40 961.3h6.2M564.50 944.8h6.0M564.50 977.8h6.0M565.40 961.0h6.2M565.50 944.8h6.0M565.50 977.1h6.0M566.40 960.4h6.2M566.50 943.0h6.0M566.50 977.8h6.0M567.40 961.2h6.2M567.50 945.0h6.0M567.50 977.4h6.0M568.40 962.8h6.2M568.50 946.3h6.0M568.50 979.2h6.0M569.40 959.7h6.2M569.50 942.4h6.0M569.50 977.0h6.0M570.40 962.6h6.2M570.50 945.0h6.0M570.50 980.1h6.0M571.40 961.1h6.2M571.50 944.3h6.0M571.50 977.9h6.0M572.40 960.6h6.2M572.50 943.7h6.0M572.50 977.4h6.0M573.40 961.8h6.2M573.50 944.4h6.0M573.50 979.3h6.0M574.40 960.8h6.2M574.50 944.4h6.0M574.50 977.1h6.0M575.40 963.0h6.2M575.50 946.7h6.0M575.50 979.3h6.0M576.40 962.1h6.2M576.50 945.5h6.0M576.50 978.8h6.0M577.40 961.9h6.2M577.50 944.3h6.0M577.50 979.6h6.0M578.40 960.8h6.2M578.50 943.2h6.0M578.50 978.4h6.0M579.40 961.1h6.2M579.50 944.0h6.0M579.50 978.2h6.0M580.40 961.1h6.2M580.50 944.2h6.0M580.50 978.0h6.0M581.40 959.4h6.2M581.50 941.8h6.0M581.50 977.0h6.0M582.40 960.9h6.2M582.50 943.9h6.0M582.50 977.9h6.0M583.40 960.8h6.2M583.50 943.3h6.0M583.50 978.3h6.0M584.40 961.0h6.2M584.50 943.8h6.0M584.50 978.2h6.0M585.40 963.5h6.2M585.50 947.4h6.0M585.50 979.6h6.0M586.40 960.6h6.2M586.50 943.3h6.0M586.50 977.8h6.0M587.40 960.4h6.2M587.50 944.2h6.0M587.50 976.6h6.0M588.40 963.0h6.2M588.50 945.7h6.0M588.50 980.3h6.0M589.40 962.6h6.2M589.50 946.3h6.0M589.50 978.9h6.0M590.40 961.9h6.2M590.50 944.2h6.0M590.50 979.6h6.0M591.40 960.9h6.2M591.50 943.9h6.0M591.50 977.9h6.0M592.40 961.4h6.2M592.50 944.5h6.0M592.50 978.4h6.0M593.40 962.2h6.2M593.50 945.8h6.0M593.50 978.6h6.0M594.40 961.0h6.2M594.50 943.7h6.0M594.50 978.4h6.0M595.40 962.4h6.2M595.50 945.5h6.0M595.50 979.4h6.0M596.40 961.4h6.2M596.50 944.9h6.0M596.50 978.0h6.0M597.40 960.0h6.2M597.50 943.5h6.0M597.50 976.5h6.0M598.40 962.4h6.2M598.50 945.8h6.0M598.50 978.9h6.0M599.40 962.7h6.2M599.50 945.1h6.0M599.50 980.4h6.0M600.40 961.6h6.2M600.50 944.0h6.0M600.50 979.3h6.0M601.40 959.5h6.2M601.50 943.5h6.0M601.50 975.6h6.0M602.40 960.6h6.2M602.50 943.5h6.0M602.50 977.6h6.0M603.40 961.3h6.2M603.50 944.8h6.0M603.50 977.7h6.0M604.40 962.0h6.2M604.50 945.8h6.0M604.50 978.1h6.0M605.40 963.1h6.2M605.50 947.1h6.0M605.50 979.1h6.0M606.40 960.7h6.2M606.50 943.3h6.0M606.50 978.0h6.0M607.40 963.1h6.2M607.50 946.1h6.0M607.50 980.2h6.0M608.40 959.9h6.2M608.50 943.0h6.0M608.50 976.7h6.0M609.40 961.8h6.2M609.50 944.9h6.0M609.50 978.6h6.0M610.40 959.5h6.2M610.50 942.2h6.0M610.50 976.7h6.0M611.40 962.3h6.2M611.50 945.8h6.0M611.50 978.9h6.0M612.40 962.9h6.2M612.50 946.7h6.0M612.50 979.1h6.0M613.40 960.8h6.2M613.50 944.6h6.0M613.50 977.1h6.0M614.40 960.1h6.2M614.50 944.0h6.0M614.50 976.1h6.0M615.40 962.2h6.2M615.50 945.9h6.0M615.50 978.6h6.0M616.40 960.2h6.2M616.50 943.6h6.0M616.50 976.7h6.0M617.40 959.4h6.2M617.50 941.7h6.0M617.50 977.0h6.0M618.40 959.4h6.2M618.50 941.6h6.0M618.50 977.2h6.0M619.40 962.0h6.2M619.50 945.5h6.0M619.50 978.5h6.0M620.40 962.1h6.2M620.50 945.5h6.0M620.50 978.7h6.0M621.40 961.1h6.2M621.50 944.9h6.0M621.50 977.4h6.0M622.40 962.6h6.2M622.50 945.0h6.0M622.50 980.2h6.0M623.40 961.3h6.2M623.50 945.1h6.0M623.50 977.4h6.0M624.40 961.5h6.2M624.50 944.5h6.0M624.50 978.4h6.0M625.40 963.2h6.2M625.50 946.8h6.0M625.50 979.6h6.0M626.40 961.1h6.2M626.50 943.3h6.0M626.50 978.8h6.0M627.40 961.7h6.2M627.50 943.9h6.0M627.50 979.5h6.0M628.40 960.9h6.2M628.50 943.5h6.0M628.50 978.3h6.0M629.40 961.2h6.2M629.50 943.4h6.0M629.50 978.9h6.0M630.40 961.9h6.2M630.50 945.4h6.0M630.50 978.5h6.0M631.40 963.3h6.2M631.50 947.1h6.0M631.50 979.6h6.0M632.40 960.9h6.2M632.50 944.9h6.0M632.50 977.0h6.0M633.40 962.2h6.2M633.50 944.5h6.0M633.50 979.9h6.0M634.40 962.1h6.2M634.50 944.4h6.0M634.50 979.9h6.0M635.40 962.4h6.2M635.50 946.4h6.0M635.50 978.5h6.0M636.40 960.1h6.2M636.50 942.8h6.0M636.50 977.4h6.0M637.40 962.2h6.2M637.50 945.6h6.0M637.50 978.7h6.0M638.40 961.1h6.2M638.50 944.2h6.0M638.50 977.9h6.0M639.40 962.2h6.2M639.50 946.1h6.0M639.50 978.2h6.0M640.40 961.1h6.2M640.50 945.0h6.0M640.50 977.2h6.0M641.40 959.4h6.2M641.50 942.7h6.0M641.50 976.2h6.0M642.40 961.1h6.2M642.50 944.3h6.0M642.50 977.9h6.0M643.40 961.0h6.2M643.50 943.5h6.0M643.50 978.5h6.0M644.40 961.6h6.2M644.50 943.9h6.0M644.50 979.2h6.0M645.40 962.8h6.2M645.50 946.7h6.0M645.50 978.8h6.0M646.40 960.7h6.2M646.50 944.0h6.0M646.50 977.4h6.0M647.40 959.7h6.2M647.50 942.0h6.0M647.50 977.5h6.0M648.40 961.2h6.2M648.50 943.5h6.0M648.50 978.9h6.0M649.40 963.2h6.2M649.50 945.9h6.0M649.50 980.4h6.0M650.40 961.6h6.2M650.50 945.6h6.0M650.50 977.7h6.0M651.40 961.5h6.2M651.50 944.7h6.0M651.50 978.3h6.0M652.40 960.9h6.2M652.50 944.3h6.0M652.50 977.5h6.0M653.40 961.2h6.2M653.50 945.0h6.0M653.50 977.4h6.0M654.40 961.3h6.2M654.50 944.3h6.0M654.50 978.4h6.0M655.40 960.6h6.2M655.50 943.0h6.0M655.50 978.2h6.0M656.40 962.6h6.2M656.50 946.1h6.0M656.50 979.0h6.0M657.40 961.3h6.2M657.50 945.2h6.0M657.50 977.5h6.0M658.40 960.4h6.2M658.50 943.4h6.0M658.50 977.3h6.0M659.40 961.1h6.2M659.50 943.6h6.0M659.50 978.6h6.0M660.40 961.1h6.2M660.50 944.6h6.0M660.50 977.6h6.0M661.40 962.4h6.2M661.50 946.3h6.0M661.50 978.5h6.0M662.40 961.0h6.2M662.50 944.9h6.0M662.50 977.1h6.0M663.40 959.9h6.2M663.50 942.5h6.0M663.50 977.3h6.0M664.40 963.0h6.2M664.50 946.1h6.0M664.50 979.8h6.0M665.40 961.1h6.2M665.50 944.2h6.0M665.50 978.1h6.0M666.40 960.8h6.2M666.50 944.4h6.0M666.50 977.2h6.0M667.40 963.6h6.2M667.50 945.9h6.0M667.50 981.3h6.0M668.40 963.5h6.2M668.50 947.0h6.0M668.50 979.9h6.0M669.40 961.3h6.2M669.50 943.7h6.0M669.50 979.0h6.0M670.40 961.1h6.2M670.50 943.3h6.0M670.50 978.8h6.0M671.40 960.6h6.2M671.50 943.5h6.0M671.50 977.7h6.0M663.40 958.9h6.2M663.50 940.0h6.0M663.50 977.8h6.0"/>
</g>
<path class="tk" d="M424.5 1011.1v-6M424.5 911.6v6M474.5 1011.1v-6M474.5 911.6v6M524.5 1011.1v-6M524.5 911.6v6M574.5 1011.1v-6M574.5 911.6v6M624.5 1011.1v-6M624.5 911.6v6M674.5 1011.1v-6M674.5 911.6v6M424.5 1011.1h6M674.5 1011.1h-6M424.5 986.23h6M674.5 986.23h-6M424.5 961.35h6M674.5 961.35h-6M424.5 936.48h6M674.5 936.48h-6M424.5 911.6h6M674.5 911.6h-6"/>
<rect class="fr" x="424.5" y="911.6" width="250" height="99.5"/>
<text x="426.5" y="1032.7" text-anchor="middle">0</text>
<text x="476.5" y="1032.7" text-anchor="middle">5</text>
<text x="526.5" y="1032.7" text-anchor="middle">10</text>
<text x="576.5" y="1032.7" text-anchor="middle">15</text>
<text x="626.5" y="1032.7" text-anchor="middle">20</text>
<text x="676.5" y="1032.7" text-anchor="middle">25</text>
<text x="415.2" y="1017.2" text-anchor="end">-1</text>
<text x="415.2" y="992.33" text-anchor="end">-0.5</text>
<text x="415.2" y="967.45" text-anchor="end">0</text>
<text x="415.2" y="942.58" text-anchor="end">0.5</text>
<text x="415.2" y="917.7" text-anchor="end">1</text>
<text x="549.5" y="1056.1" text-anchor="middle">Frequency [Hz]</text>
<text transform="translate(367.8,961.35) rotate(-90)" text-anchor="middle">Y2</text>
<text class="cap" x="175.9" y="1109.9" textLength="342" lengthAdjust="spacingAndGlyphs">(b) Most-flattened triangle (R1-R6-R7)</text>
</svg>
</body></html>
